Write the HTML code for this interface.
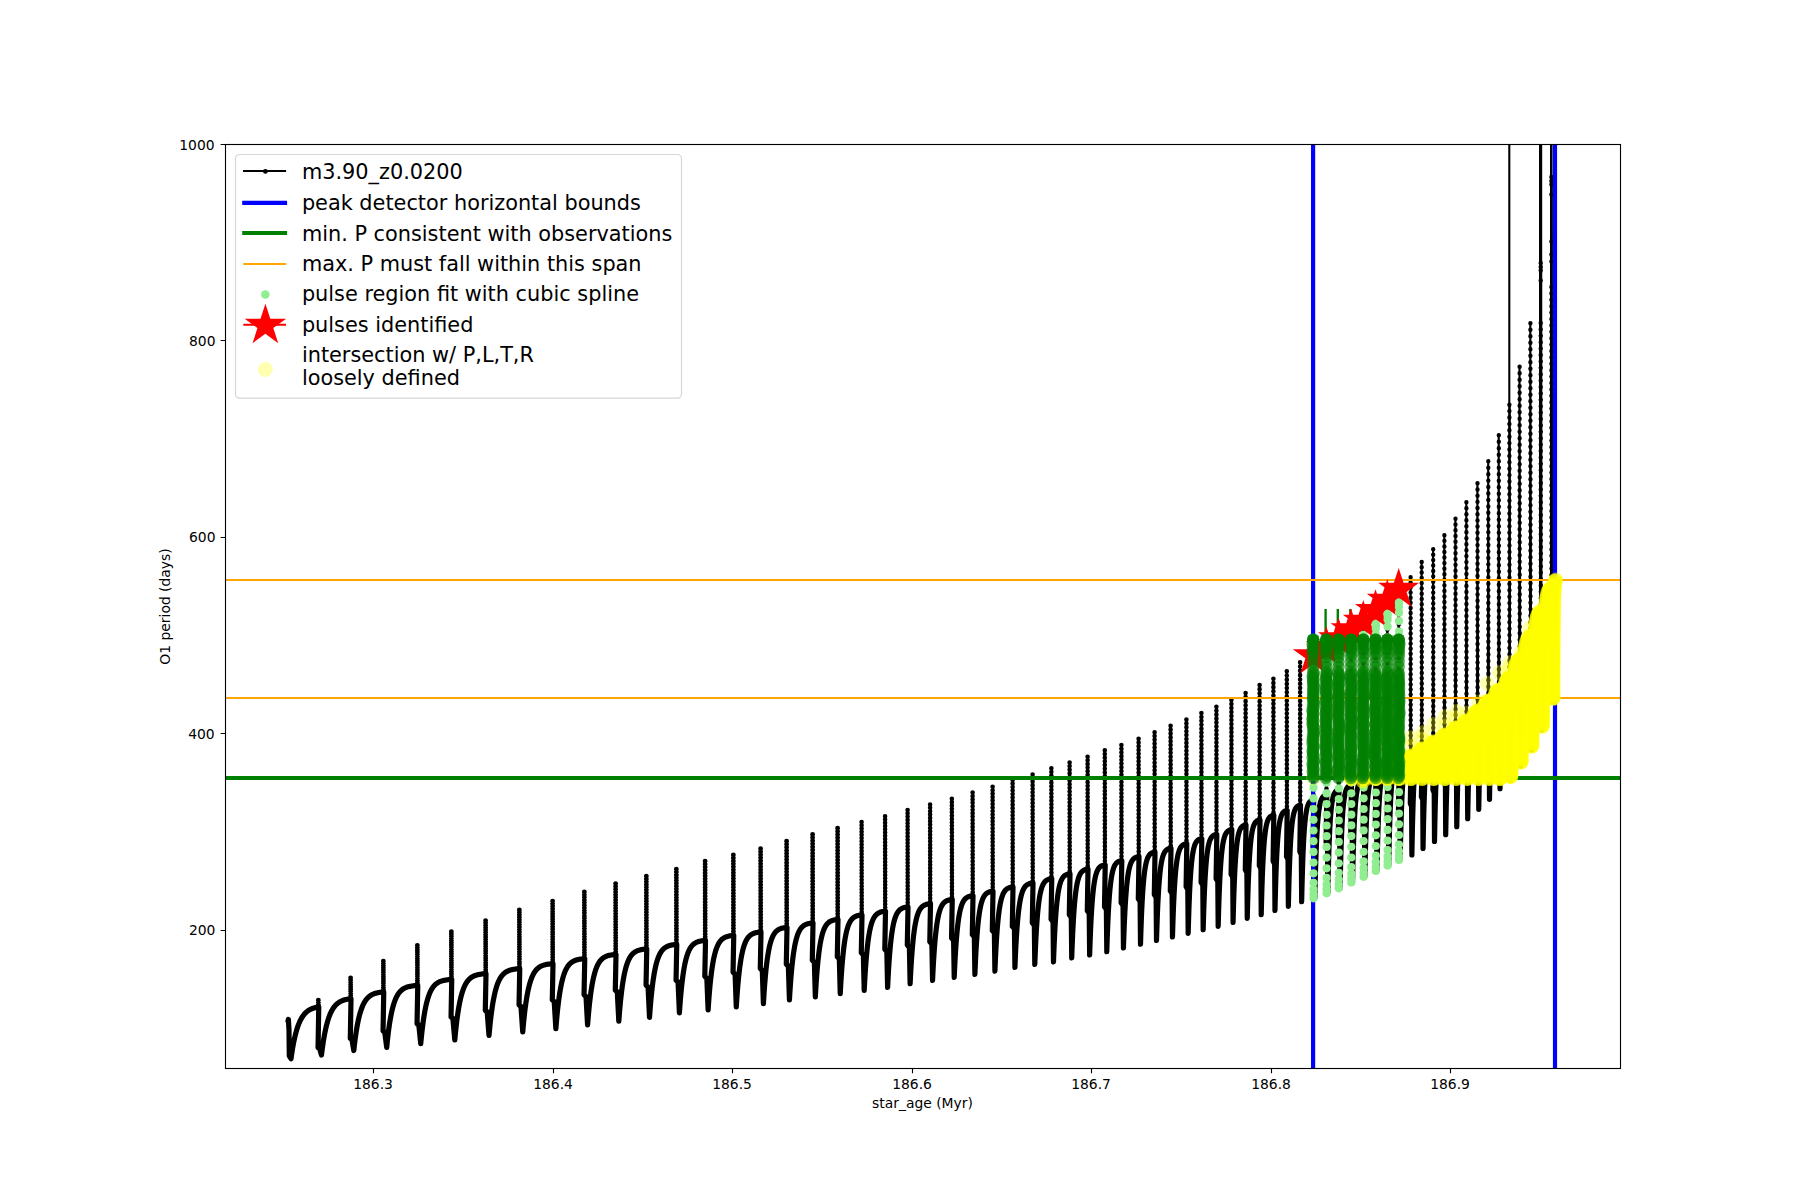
<!DOCTYPE html>
<html><head><meta charset="utf-8"><title>m3.90_z0.0200</title>
<style>html,body{margin:0;padding:0;background:#fff;overflow:hidden}svg{display:block}text{font-family:"DejaVu Sans","Liberation Sans",sans-serif;fill:#000}</style></head>
<body>
<svg width="1800" height="1200" viewBox="0 0 1800 1200">
<rect width="1800" height="1200" fill="#fff"/>
<defs><clipPath id="ax"><rect x="225.5" y="144.5" width="1395.0" height="924.0"/></clipPath></defs>
<g clip-path="url(#ax)">
<path d="M288,1021 L288.4,1019.5 L289,1030 L289.3,1056 L291,1058.75 L291.05,1058.41 L291.14,1057.72 L291.27,1056.8 L291.43,1055.69 L291.62,1054.44 L291.83,1053.06 L292.06,1051.58 L292.31,1050.02 L292.58,1048.4 L292.87,1046.73 L293.18,1045.03 L293.5,1043.31 L293.84,1041.58 L294.2,1039.86 L294.58,1038.15 L294.97,1036.46 L295.37,1034.8 L295.79,1033.17 L296.22,1031.58 L296.67,1030.04 L297.13,1028.55 L297.6,1027.11 L298.09,1025.73 L298.59,1024.4 L299.1,1023.13 L299.62,1021.91 L300.16,1020.76 L300.71,1019.67 L301.27,1018.63 L301.84,1017.65 L302.43,1016.73 L303.02,1015.86 L303.63,1015.05 L304.25,1014.29 L304.87,1013.58 L305.51,1012.91 L306.16,1012.29 L306.83,1011.72 L307.5,1011.19 L308.18,1010.7 L308.87,1010.24 L309.57,1009.82 L310.29,1009.44 L311.01,1009.09 L311.74,1008.76 L312.48,1008.46 L313.24,1008.19 L314,1007.94 L314.77,1007.72 L315.55,1007.51 L316.34,1007.32 L317.14,1007.15 L317.95,1007 M318.75,1007 L318.05,1047.8 L319.54,1048.23 L321.48,1055 L321.52,1054.63 L321.61,1053.89 L321.73,1052.9 L321.88,1051.71 L322.06,1050.35 L322.26,1048.86 L322.48,1047.27 L322.72,1045.59 L322.97,1043.84 L323.25,1042.04 L323.54,1040.21 L323.85,1038.35 L324.17,1036.49 L324.51,1034.63 L324.87,1032.79 L325.24,1030.97 L325.62,1029.18 L326.02,1027.43 L326.43,1025.72 L326.85,1024.06 L327.29,1022.45 L327.74,1020.9 L328.2,1019.41 L328.67,1017.98 L329.16,1016.61 L329.66,1015.3 L330.17,1014.06 L330.69,1012.88 L331.22,1011.77 L331.76,1010.71 L332.32,1009.72 L332.88,1008.79 L333.46,1007.91 L334.04,1007.1 L334.64,1006.33 L335.25,1005.62 L335.86,1004.95 L336.49,1004.34 L337.13,1003.76 L337.77,1003.24 L338.43,1002.75 L339.1,1002.3 L339.77,1001.88 L340.46,1001.5 L341.15,1001.15 L341.86,1000.83 L342.57,1000.54 L343.29,1000.28 L344.03,1000.03 L344.77,999.81 L345.52,999.61 L346.28,999.43 L347.04,999.26 L347.82,999.12 L348.6,998.98 L349.4,998.86 L350.2,998.75 M351,998.75 L350.3,1038.43 L351.87,1039.15 L353.8,1050.5 L353.85,1050.09 L353.94,1049.26 L354.06,1048.15 L354.21,1046.81 L354.38,1045.3 L354.58,1043.65 L354.79,1041.88 L355.03,1040.01 L355.28,1038.08 L355.55,1036.11 L355.84,1034.1 L356.15,1032.07 L356.47,1030.05 L356.8,1028.04 L357.15,1026.05 L357.52,1024.1 L357.89,1022.18 L358.29,1020.32 L358.69,1018.51 L359.11,1016.76 L359.54,1015.08 L359.98,1013.47 L360.44,1011.92 L360.91,1010.45 L361.38,1009.05 L361.88,1007.72 L362.38,1006.47 L362.89,1005.28 L363.42,1004.17 L363.95,1003.13 L364.5,1002.15 L365.06,1001.24 L365.63,1000.39 L366.2,999.6 L366.79,998.87 L367.39,998.19 L368,997.56 L368.62,996.99 L369.25,996.46 L369.89,995.97 L370.54,995.53 L371.19,995.12 L371.86,994.75 L372.54,994.41 L373.22,994.1 L373.92,993.82 L374.62,993.57 L375.34,993.34 L376.06,993.13 L376.79,992.94 L377.53,992.78 L378.28,992.62 L379.03,992.49 L379.8,992.37 L380.58,992.26 L381.36,992.16 L382.15,992.08 L382.95,992 M383.75,992 L383.05,1031.06 L384.74,1032.05 L386.71,1047.5 L386.75,1047.04 L386.84,1046.13 L386.96,1044.91 L387.1,1043.44 L387.27,1041.78 L387.47,1039.96 L387.68,1038.02 L387.91,1035.98 L388.16,1033.88 L388.43,1031.72 L388.71,1029.53 L389.01,1027.34 L389.32,1025.14 L389.65,1022.97 L390,1020.83 L390.36,1018.72 L390.73,1016.67 L391.11,1014.68 L391.51,1012.75 L391.92,1010.89 L392.34,1009.11 L392.78,1007.4 L393.23,1005.77 L393.69,1004.22 L394.16,1002.76 L394.64,1001.37 L395.14,1000.07 L395.64,998.84 L396.16,997.69 L396.68,996.62 L397.22,995.62 L397.77,994.69 L398.33,993.83 L398.9,993.03 L399.47,992.29 L400.06,991.61 L400.66,990.98 L401.27,990.41 L401.89,989.88 L402.51,989.4 L403.15,988.97 L403.8,988.57 L404.45,988.21 L405.12,987.88 L405.79,987.58 L406.48,987.31 L407.17,987.07 L407.87,986.85 L408.58,986.66 L409.3,986.48 L410.03,986.33 L410.76,986.19 L411.51,986.06 L412.26,985.95 L413.02,985.85 L413.79,985.76 L414.57,985.68 L415.35,985.61 L416.15,985.55 L416.95,985.5 M417.75,985.5 L417.05,1023.73 L418.81,1024.93 L420.74,1043.75 L420.78,1043.28 L420.87,1042.33 L420.99,1041.06 L421.13,1039.54 L421.3,1037.82 L421.49,1035.94 L421.71,1033.93 L421.94,1031.82 L422.19,1029.63 L422.45,1027.4 L422.74,1025.13 L423.04,1022.86 L423.35,1020.58 L423.68,1018.33 L424.02,1016.11 L424.38,1013.93 L424.75,1011.8 L425.14,1009.74 L425.53,1007.74 L425.94,1005.81 L426.37,1003.96 L426.8,1002.19 L427.25,1000.51 L427.71,998.9 L428.18,997.38 L428.66,995.95 L429.16,994.6 L429.66,993.33 L430.18,992.14 L430.7,991.02 L431.24,989.99 L431.79,989.02 L432.34,988.13 L432.91,987.3 L433.49,986.53 L434.08,985.83 L434.68,985.18 L435.28,984.59 L435.9,984.04 L436.53,983.55 L437.16,983.09 L437.81,982.68 L438.47,982.3 L439.13,981.96 L439.8,981.66 L440.49,981.38 L441.18,981.13 L441.88,980.9 L442.59,980.7 L443.31,980.52 L444.03,980.36 L444.77,980.21 L445.51,980.08 L446.26,979.97 L447.02,979.86 L447.79,979.77 L448.57,979.69 L449.35,979.62 L450.15,979.56 L450.95,979.5 M451.75,979.5 L451.05,1017.02 L452.89,1018.4 L454.79,1040 L454.83,1039.51 L454.92,1038.54 L455.04,1037.23 L455.19,1035.66 L455.36,1033.89 L455.55,1031.95 L455.77,1029.87 L456,1027.7 L456.25,1025.44 L456.52,1023.14 L456.8,1020.8 L457.1,1018.46 L457.42,1016.11 L457.75,1013.79 L458.1,1011.5 L458.46,1009.25 L458.83,1007.06 L459.22,1004.93 L459.62,1002.87 L460.03,1000.88 L460.46,998.97 L460.9,997.15 L461.35,995.41 L461.81,993.76 L462.28,992.19 L462.77,990.71 L463.26,989.32 L463.77,988.01 L464.29,986.78 L464.82,985.63 L465.36,984.56 L465.91,983.57 L466.47,982.65 L467.05,981.79 L467.63,981 L468.22,980.28 L468.82,979.61 L469.43,979 L470.05,978.43 L470.68,977.92 L471.33,977.45 L471.98,977.03 L472.63,976.64 L473.3,976.29 L473.98,975.97 L474.67,975.69 L475.36,975.43 L476.07,975.2 L476.78,974.99 L477.51,974.8 L478.24,974.63 L478.98,974.48 L479.73,974.35 L480.48,974.23 L481.25,974.12 L482.02,974.03 L482.8,973.95 L483.59,973.87 L484.39,973.81 L485.2,973.75 M486,973.75 L485.3,1010.36 L487.19,1011.87 L489.02,1035.5 L489.06,1035 L489.15,1033.99 L489.27,1032.63 L489.42,1031.01 L489.59,1029.18 L489.79,1027.18 L490,1025.04 L490.24,1022.8 L490.49,1020.48 L490.76,1018.11 L491.05,1015.72 L491.36,1013.31 L491.68,1010.91 L492.01,1008.54 L492.36,1006.2 L492.73,1003.91 L493.1,1001.68 L493.5,999.52 L493.9,997.43 L494.32,995.43 L494.75,993.5 L495.19,991.66 L495.65,989.91 L496.11,988.26 L496.59,986.69 L497.08,985.21 L497.59,983.82 L498.1,982.52 L498.62,981.3 L499.16,980.16 L499.71,979.11 L500.26,978.13 L500.83,977.22 L501.41,976.39 L502,975.62 L502.6,974.91 L503.2,974.26 L503.82,973.67 L504.45,973.12 L505.09,972.63 L505.74,972.18 L506.39,971.77 L507.06,971.4 L507.74,971.07 L508.42,970.77 L509.12,970.5 L509.82,970.25 L510.53,970.04 L511.25,969.84 L511.99,969.66 L512.72,969.51 L513.47,969.37 L514.23,969.25 L515,969.14 L515.77,969.04 L516.55,968.95 L517.34,968.88 L518.14,968.81 L518.95,968.75 M519.75,968.75 L519.05,1004.92 L520.98,1006.55 L522.74,1032 L522.79,1031.47 L522.88,1030.41 L523,1028.99 L523.15,1027.29 L523.32,1025.37 L523.52,1023.27 L523.74,1021.03 L523.98,1018.69 L524.24,1016.27 L524.51,1013.8 L524.8,1011.31 L525.11,1008.8 L525.43,1006.31 L525.77,1003.85 L526.13,1001.43 L526.49,999.07 L526.88,996.77 L527.27,994.54 L527.68,992.4 L528.1,990.34 L528.54,988.37 L528.99,986.49 L529.45,984.71 L529.92,983.02 L530.4,981.43 L530.9,979.93 L531.41,978.53 L531.93,977.21 L532.46,975.99 L533,974.85 L533.55,973.8 L534.12,972.82 L534.69,971.92 L535.28,971.09 L535.87,970.33 L536.48,969.63 L537.09,968.99 L537.72,968.41 L538.35,967.88 L539,967.39 L539.65,966.96 L540.32,966.56 L540.99,966.21 L541.68,965.89 L542.37,965.6 L543.07,965.34 L543.78,965.1 L544.5,964.9 L545.23,964.71 L545.97,964.55 L546.72,964.4 L547.48,964.27 L548.24,964.15 L549.02,964.05 L549.8,963.96 L550.59,963.88 L551.39,963.81 L552.2,963.75 M553,963.75 L552.3,999.88 L554.22,1001.62 L555.86,1028.75 L555.91,1028.18 L556,1027.02 L556.12,1025.49 L556.27,1023.65 L556.45,1021.58 L556.65,1019.32 L556.87,1016.91 L557.11,1014.4 L557.37,1011.81 L557.64,1009.17 L557.94,1006.52 L558.25,1003.86 L558.58,1001.23 L558.92,998.63 L559.27,996.09 L559.64,993.62 L560.03,991.22 L560.43,988.91 L560.84,986.69 L561.27,984.57 L561.71,982.54 L562.16,980.63 L562.62,978.81 L563.1,977.11 L563.59,975.51 L564.09,974.01 L564.6,972.61 L565.13,971.3 L565.66,970.1 L566.21,968.98 L566.77,967.95 L567.33,967 L567.91,966.13 L568.5,965.34 L569.1,964.61 L569.71,963.95 L570.33,963.35 L570.96,962.8 L571.61,962.31 L572.26,961.86 L572.92,961.46 L573.59,961.1 L574.27,960.78 L574.96,960.49 L575.66,960.23 L576.37,960 L577.08,959.79 L577.81,959.61 L578.55,959.45 L579.29,959.31 L580.05,959.18 L580.81,959.07 L581.58,958.98 L582.36,958.89 L583.15,958.82 L583.95,958.75 M584.75,958.75 L584.05,994.76 L586.01,996.58 L587.58,1025 L587.63,1024.41 L587.72,1023.21 L587.85,1021.62 L588,1019.72 L588.18,1017.57 L588.38,1015.24 L588.6,1012.76 L588.85,1010.17 L589.11,1007.51 L589.39,1004.8 L589.69,1002.07 L590,999.35 L590.33,996.66 L590.68,994.01 L591.04,991.42 L591.41,988.91 L591.8,986.47 L592.21,984.13 L592.63,981.89 L593.06,979.75 L593.5,977.71 L593.96,975.79 L594.43,973.98 L594.91,972.27 L595.4,970.68 L595.91,969.19 L596.43,967.8 L596.96,966.51 L597.5,965.32 L598.05,964.23 L598.62,963.22 L599.19,962.29 L599.78,961.45 L600.38,960.67 L600.98,959.97 L601.6,959.33 L602.23,958.75 L602.87,958.23 L603.52,957.76 L604.17,957.34 L604.84,956.96 L605.52,956.62 L606.21,956.31 L606.91,956.04 L607.62,955.8 L608.33,955.58 L609.06,955.39 L609.79,955.23 L610.54,955.08 L611.29,954.95 L612.06,954.83 L612.83,954.73 L613.61,954.64 L614.4,954.57 L615.2,954.5 M616,954.5 L615.3,990.14 L617.3,992.01 L618.81,1021.25 L618.85,1020.62 L618.94,1019.36 L619.07,1017.68 L619.23,1015.68 L619.41,1013.43 L619.61,1010.97 L619.84,1008.37 L620.08,1005.65 L620.35,1002.86 L620.63,1000.03 L620.93,997.19 L621.25,994.35 L621.59,991.55 L621.94,988.8 L622.3,986.12 L622.68,983.51 L623.08,981 L623.49,978.59 L623.91,976.28 L624.35,974.09 L624.8,972.01 L625.26,970.05 L625.73,968.2 L626.22,966.47 L626.72,964.86 L627.24,963.35 L627.76,961.96 L628.3,960.67 L628.84,959.48 L629.4,958.38 L629.97,957.38 L630.56,956.46 L631.15,955.63 L631.75,954.86 L632.37,954.17 L632.99,953.55 L633.63,952.99 L634.28,952.48 L634.93,952.02 L635.6,951.61 L636.28,951.25 L636.96,950.92 L637.66,950.63 L638.37,950.37 L639.08,950.15 L639.81,949.94 L640.54,949.77 L641.29,949.61 L642.04,949.47 L642.81,949.35 L643.58,949.24 L644.36,949.15 L645.15,949.07 L645.95,949 M646.75,949 L646.05,985.06 L648.07,987.01 L649.5,1017.5 L649.55,1016.83 L649.64,1015.48 L649.78,1013.68 L649.94,1011.54 L650.12,1009.13 L650.34,1006.52 L650.57,1003.75 L650.82,1000.88 L651.1,997.93 L651.39,994.95 L651.7,991.97 L652.03,989.01 L652.38,986.09 L652.74,983.24 L653.12,980.47 L653.51,977.8 L653.92,975.23 L654.34,972.77 L654.78,970.44 L655.23,968.22 L655.7,966.14 L656.18,964.18 L656.67,962.35 L657.18,960.64 L657.69,959.06 L658.23,957.59 L658.77,956.24 L659.32,955 L659.89,953.86 L660.47,952.82 L661.06,951.87 L661.66,951.01 L662.28,950.23 L662.9,949.53 L663.54,948.89 L664.19,948.32 L664.84,947.81 L665.51,947.36 L666.19,946.95 L666.88,946.59 L667.58,946.27 L668.29,945.99 L669.02,945.73 L669.75,945.51 L670.49,945.32 L671.24,945.15 L672,945 L672.77,944.87 L673.55,944.76 L674.34,944.66 L675.14,944.57 L675.95,944.5 M676.75,944.5 L676.05,980.15 L678.06,982.12 L679.39,1013 L679.44,1012.29 L679.54,1010.86 L679.67,1008.97 L679.83,1006.71 L680.02,1004.19 L680.24,1001.45 L680.48,998.56 L680.74,995.56 L681.02,992.5 L681.32,989.42 L681.63,986.35 L681.97,983.31 L682.32,980.33 L682.69,977.43 L683.08,974.62 L683.48,971.92 L683.89,969.35 L684.32,966.89 L684.77,964.58 L685.23,962.39 L685.71,960.35 L686.19,958.44 L686.7,956.66 L687.21,955.02 L687.74,953.5 L688.28,952.11 L688.83,950.83 L689.4,949.67 L689.98,948.6 L690.57,947.64 L691.17,946.77 L691.78,945.99 L692.41,945.28 L693.04,944.65 L693.69,944.09 L694.35,943.59 L695.02,943.14 L695.7,942.74 L696.4,942.39 L697.1,942.08 L697.81,941.81 L698.54,941.57 L699.27,941.37 L700.02,941.18 L700.77,941.03 L701.54,940.89 L702.31,940.77 L703.1,940.67 L703.89,940.58 L704.7,940.5 M705.5,940.5 L704.8,976.34 L706.84,978.36 L708.11,1010 L708.16,1009.24 L708.26,1007.73 L708.39,1005.72 L708.56,1003.34 L708.75,1000.66 L708.97,997.77 L709.21,994.72 L709.47,991.57 L709.76,988.36 L710.06,985.13 L710.38,981.91 L710.72,978.73 L711.08,975.63 L711.45,972.61 L711.85,969.7 L712.25,966.91 L712.67,964.25 L713.11,961.73 L713.56,959.35 L714.03,957.12 L714.51,955.04 L715.01,953.1 L715.51,951.3 L716.04,949.64 L716.57,948.11 L717.12,946.72 L717.68,945.44 L718.25,944.28 L718.84,943.23 L719.44,942.28 L720.05,941.43 L720.67,940.66 L721.31,939.97 L721.95,939.36 L722.61,938.81 L723.28,938.33 L723.96,937.9 L724.65,937.52 L725.35,937.19 L726.06,936.9 L726.79,936.64 L727.52,936.42 L728.26,936.22 L729.02,936.06 L729.79,935.91 L730.56,935.78 L731.35,935.67 L732.14,935.58 L732.95,935.5 M733.75,935.5 L733.05,972.09 L735.09,974.19 L736.27,1007 L736.32,1006.19 L736.42,1004.56 L736.56,1002.41 L736.73,999.85 L736.93,997 L737.16,993.92 L737.41,990.69 L737.68,987.35 L737.97,983.97 L738.28,980.58 L738.61,977.22 L738.96,973.92 L739.33,970.7 L739.72,967.6 L740.12,964.62 L740.54,961.78 L740.97,959.1 L741.42,956.56 L741.89,954.19 L742.37,951.97 L742.86,949.92 L743.37,948.02 L743.9,946.27 L744.43,944.67 L744.99,943.21 L745.55,941.88 L746.13,940.68 L746.72,939.59 L747.32,938.62 L747.94,937.74 L748.57,936.96 L749.21,936.27 L749.86,935.65 L750.52,935.11 L751.2,934.63 L751.89,934.21 L752.59,933.84 L753.3,933.51 L754.02,933.23 L754.76,932.99 L755.5,932.78 L756.26,932.59 L757.03,932.44 L757.8,932.3 L758.59,932.18 L759.39,932.08 L760.2,932 M761,932 L760.3,968.49 L762.31,970.6 L763.4,1003.75 L763.45,1002.86 L763.56,1001.1 L763.7,998.76 L763.88,995.99 L764.08,992.9 L764.31,989.59 L764.56,986.12 L764.84,982.55 L765.14,978.95 L765.46,975.36 L765.8,971.82 L766.15,968.36 L766.53,965.01 L766.92,961.79 L767.33,958.73 L767.76,955.82 L768.21,953.09 L768.67,950.53 L769.14,948.14 L769.63,945.94 L770.14,943.91 L770.66,942.05 L771.19,940.34 L771.74,938.8 L772.3,937.4 L772.88,936.14 L773.47,935.01 L774.07,934 L774.69,933.1 L775.32,932.3 L775.96,931.6 L776.62,930.97 L777.28,930.43 L777.96,929.95 L778.65,929.53 L779.36,929.17 L780.07,928.85 L780.8,928.58 L781.53,928.34 L782.28,928.14 L783.05,927.97 L783.82,927.82 L784.6,927.7 L785.39,927.59 L786.2,927.5 M787,927.5 L786.3,964.17 L788.37,966.32 L789.42,1000 L789.48,999.11 L789.58,997.32 L789.72,994.96 L789.9,992.16 L790.1,989.05 L790.33,985.7 L790.59,982.19 L790.86,978.6 L791.16,974.96 L791.48,971.33 L791.82,967.76 L792.17,964.26 L792.55,960.88 L792.94,957.63 L793.35,954.53 L793.78,951.6 L794.22,948.84 L794.68,946.25 L795.16,943.85 L795.65,941.62 L796.15,939.57 L796.67,937.69 L797.21,935.97 L797.76,934.41 L798.32,933 L798.89,931.73 L799.48,930.59 L800.09,929.57 L800.7,928.66 L801.33,927.85 L801.97,927.14 L802.62,926.51 L803.29,925.95 L803.97,925.47 L804.66,925.05 L805.36,924.68 L806.08,924.36 L806.8,924.09 L807.54,923.85 L808.29,923.65 L809.05,923.47 L809.82,923.33 L810.6,923.2 L811.4,923.09 L812.2,923 M813,923 L812.3,960.25 L814.36,962.46 L815.33,997 L815.39,996.03 L815.49,994.1 L815.64,991.55 L815.82,988.55 L816.03,985.21 L816.27,981.63 L816.53,977.91 L816.82,974.1 L817.12,970.26 L817.45,966.46 L817.8,962.73 L818.17,959.11 L818.56,955.63 L818.96,952.31 L819.39,949.16 L819.83,946.2 L820.29,943.43 L820.76,940.87 L821.25,938.49 L821.76,936.32 L822.28,934.33 L822.82,932.52 L823.37,930.88 L823.93,929.41 L824.52,928.09 L825.11,926.91 L825.72,925.86 L826.34,924.94 L826.98,924.12 L827.63,923.4 L828.29,922.77 L828.96,922.23 L829.65,921.75 L830.35,921.34 L831.06,920.99 L831.79,920.68 L832.53,920.42 L833.28,920.2 L834.04,920.01 L834.81,919.85 L835.6,919.71 L836.39,919.6 L837.2,919.5 M838,919.5 L837.3,956.72 L839.34,958.94 L840.24,993.75 L840.3,992.69 L840.41,990.58 L840.56,987.8 L840.75,984.52 L840.96,980.9 L841.21,977.04 L841.48,973.03 L841.77,968.96 L842.09,964.88 L842.43,960.86 L842.79,956.94 L843.18,953.16 L843.58,949.55 L844,946.13 L844.43,942.92 L844.89,939.92 L845.36,937.14 L845.86,934.58 L846.36,932.24 L846.89,930.11 L847.43,928.18 L847.98,926.45 L848.55,924.9 L849.14,923.51 L849.74,922.29 L850.35,921.2 L850.98,920.25 L851.63,919.42 L852.28,918.69 L852.96,918.06 L853.64,917.52 L854.34,917.05 L855.05,916.64 L855.77,916.3 L856.51,916.01 L857.26,915.76 L858.03,915.55 L858.8,915.38 L859.59,915.23 L860.39,915.1 L861.2,915 M862,915 L861.3,952.71 L863.36,954.97 L864.2,990.5 L864.26,989.39 L864.37,987.18 L864.53,984.28 L864.72,980.86 L864.94,977.1 L865.19,973.09 L865.46,968.94 L865.76,964.73 L866.09,960.53 L866.43,956.4 L866.8,952.4 L867.19,948.55 L867.6,944.88 L868.02,941.42 L868.47,938.19 L868.93,935.18 L869.42,932.41 L869.92,929.87 L870.43,927.56 L870.96,925.46 L871.51,923.58 L872.08,921.89 L872.66,920.39 L873.25,919.06 L873.87,917.88 L874.49,916.85 L875.13,915.95 L875.79,915.17 L876.46,914.49 L877.14,913.91 L877.84,913.41 L878.55,912.98 L879.27,912.62 L880.01,912.31 L880.76,912.04 L881.52,911.82 L882.3,911.64 L883.08,911.49 L883.89,911.36 L884.7,911.25 M885.5,911.25 L884.8,949.2 L886.83,951.5 L887.61,987.5 L887.66,986.33 L887.78,983.99 L887.93,980.93 L888.12,977.33 L888.34,973.37 L888.59,969.17 L888.86,964.83 L889.16,960.44 L889.48,956.08 L889.83,951.81 L890.19,947.68 L890.58,943.72 L890.98,939.97 L891.41,936.44 L891.85,933.16 L892.32,930.13 L892.8,927.34 L893.29,924.8 L893.81,922.5 L894.34,920.43 L894.88,918.58 L895.45,916.93 L896.02,915.47 L896.62,914.18 L897.22,913.05 L897.85,912.07 L898.49,911.22 L899.14,910.48 L899.8,909.85 L900.48,909.3 L901.18,908.84 L901.88,908.45 L902.6,908.12 L903.34,907.84 L904.08,907.6 L904.84,907.41 L905.62,907.25 L906.4,907.11 L907.2,907 M908,907 L907.3,945.07 L909.39,947.4 L910.12,983.75 L910.18,982.58 L910.29,980.27 L910.45,977.22 L910.64,973.65 L910.86,969.71 L911.1,965.53 L911.38,961.22 L911.68,956.86 L912,952.53 L912.34,948.28 L912.71,944.17 L913.09,940.24 L913.5,936.51 L913.93,933.01 L914.37,929.75 L914.83,926.73 L915.31,923.96 L915.81,921.44 L916.32,919.15 L916.85,917.1 L917.4,915.25 L917.96,913.61 L918.53,912.16 L919.13,910.88 L919.73,909.76 L920.36,908.79 L920.99,907.94 L921.64,907.21 L922.31,906.58 L922.99,906.04 L923.68,905.58 L924.39,905.19 L925.11,904.86 L925.84,904.58 L926.59,904.35 L927.35,904.16 L928.12,903.99 L928.9,903.86 L929.7,903.75 M930.5,903.75 L929.8,941.71 L931.88,944.04 L932.56,980.5 L932.61,979.22 L932.73,976.67 L932.89,973.33 L933.09,969.44 L933.32,965.16 L933.58,960.65 L933.87,956.02 L934.19,951.37 L934.52,946.78 L934.88,942.32 L935.27,938.04 L935.67,933.97 L936.1,930.16 L936.55,926.6 L937.01,923.33 L937.5,920.33 L938,917.61 L938.52,915.16 L939.06,912.96 L939.62,911.01 L940.19,909.28 L940.78,907.76 L941.39,906.43 L942.01,905.28 L942.65,904.29 L943.3,903.43 L943.97,902.7 L944.65,902.07 L945.35,901.55 L946.06,901.1 L946.79,900.73 L947.53,900.42 L948.29,900.16 L949.06,899.94 L949.84,899.76 L950.64,899.62 L951.45,899.5 M952.25,899.5 L951.55,937.96 L953.6,940.34 L954.21,977.5 L954.27,976.08 L954.39,973.28 L954.56,969.63 L954.77,965.38 L955.01,960.74 L955.28,955.87 L955.58,950.91 L955.9,945.97 L956.25,941.13 L956.63,936.47 L957.03,932.04 L957.45,927.87 L957.89,924 L958.36,920.44 L958.84,917.19 L959.35,914.25 L959.87,911.62 L960.42,909.27 L960.98,907.2 L961.56,905.39 L962.15,903.8 L962.77,902.43 L963.4,901.25 L964.04,900.24 L964.71,899.38 L965.39,898.66 L966.09,898.05 L966.8,897.54 L967.52,897.11 L968.27,896.76 L969.02,896.47 L969.8,896.23 L970.58,896.04 L971.38,895.88 L972.2,895.75 M973,895.75 L972.3,934.47 L974.33,936.87 L974.88,974.5 L974.94,972.99 L975.07,970.01 L975.24,966.12 L975.45,961.61 L975.69,956.71 L975.96,951.59 L976.26,946.39 L976.59,941.22 L976.95,936.19 L977.33,931.36 L977.73,926.8 L978.16,922.53 L978.6,918.59 L979.07,914.99 L979.56,911.72 L980.07,908.79 L980.6,906.18 L981.14,903.87 L981.71,901.85 L982.29,900.09 L982.89,898.57 L983.51,897.26 L984.15,896.14 L984.8,895.19 L985.47,894.39 L986.16,893.73 L986.86,893.17 L987.58,892.71 L988.31,892.32 L989.06,892.01 L989.82,891.76 L990.6,891.55 L991.39,891.38 L992.2,891.25 M993,891.25 L992.3,930.48 L994.38,932.92 L994.9,971.25 L994.96,969.72 L995.09,966.71 L995.26,962.77 L995.46,958.21 L995.71,953.25 L995.98,948.06 L996.28,942.8 L996.61,937.57 L996.96,932.48 L997.34,927.6 L997.74,922.98 L998.17,918.66 L998.62,914.67 L999.08,911.02 L999.57,907.72 L1000.08,904.75 L1000.61,902.11 L1001.15,899.77 L1001.72,897.73 L1002.3,895.94 L1002.9,894.4 L1003.52,893.08 L1004.16,891.95 L1004.81,890.99 L1005.48,890.18 L1006.16,889.51 L1006.86,888.94 L1007.58,888.47 L1008.31,888.09 L1009.06,887.77 L1009.82,887.51 L1010.6,887.3 L1011.39,887.14 L1012.2,887 M1013,887 L1012.3,926.37 L1014.43,928.83 L1014.92,967.5 L1014.98,965.97 L1015.1,962.94 L1015.27,958.99 L1015.48,954.42 L1015.72,949.45 L1015.99,944.24 L1016.3,938.96 L1016.62,933.72 L1016.98,928.61 L1017.36,923.72 L1017.76,919.08 L1018.18,914.75 L1018.63,910.75 L1019.1,907.1 L1019.58,903.78 L1020.09,900.81 L1020.62,898.15 L1021.16,895.81 L1021.73,893.76 L1022.31,891.97 L1022.91,890.42 L1023.53,889.1 L1024.16,887.96 L1024.82,887 L1025.48,886.19 L1026.17,885.51 L1026.87,884.95 L1027.58,884.48 L1028.32,884.09 L1029.06,883.77 L1029.83,883.52 L1030.6,883.31 L1031.39,883.14 L1032.2,883 M1033,883 L1032.3,922.75 L1034.33,925.25 L1034.78,964.5 L1034.84,962.79 L1034.97,959.42 L1035.15,955.04 L1035.36,950 L1035.61,944.55 L1035.89,938.89 L1036.2,933.2 L1036.54,927.61 L1036.91,922.21 L1037.3,917.1 L1037.71,912.31 L1038.15,907.9 L1038.61,903.87 L1039.09,900.24 L1039.59,897 L1040.11,894.13 L1040.66,891.61 L1041.22,889.43 L1041.8,887.54 L1042.4,885.93 L1043.02,884.56 L1043.66,883.4 L1044.31,882.43 L1044.99,881.63 L1045.67,880.96 L1046.38,880.42 L1047.1,879.97 L1047.84,879.61 L1048.59,879.32 L1049.36,879.08 L1050.15,878.9 L1050.95,878.75 M1051.75,878.75 L1051.05,919.24 L1053.04,921.81 L1053.49,962 L1053.55,960.15 L1053.68,956.51 L1053.86,951.8 L1054.08,946.4 L1054.33,940.57 L1054.62,934.56 L1054.94,928.53 L1055.28,922.64 L1055.66,917 L1056.06,911.67 L1056.48,906.73 L1056.93,902.2 L1057.4,898.1 L1057.89,894.43 L1058.4,891.17 L1058.94,888.32 L1059.5,885.84 L1060.07,883.71 L1060.67,881.89 L1061.28,880.34 L1061.91,879.04 L1062.56,877.96 L1063.23,877.06 L1063.92,876.32 L1064.62,875.71 L1065.35,875.22 L1066.08,874.83 L1066.84,874.51 L1067.61,874.26 L1068.4,874.06 L1069.2,873.9 M1070,873.9 L1069.3,914.7 L1071.28,917.3 L1071.72,958 L1071.79,956.04 L1071.92,952.18 L1072.11,947.2 L1072.34,941.51 L1072.6,935.4 L1072.9,929.12 L1073.23,922.87 L1073.59,916.78 L1073.98,910.99 L1074.39,905.57 L1074.83,900.56 L1075.29,896.02 L1075.78,891.93 L1076.29,888.31 L1076.83,885.13 L1077.38,882.36 L1077.96,879.98 L1078.56,877.95 L1079.17,876.23 L1079.81,874.79 L1080.47,873.59 L1081.14,872.61 L1081.84,871.8 L1082.55,871.14 L1083.28,870.61 L1084.03,870.18 L1084.8,869.84 L1085.58,869.58 L1086.38,869.36 L1087.2,869.2 M1088,869.2 L1087.3,910.71 L1089.21,913.37 L1089.64,955 L1089.7,952.9 L1089.84,948.79 L1090.03,943.49 L1090.26,937.45 L1090.52,931 L1090.82,924.41 L1091.15,917.88 L1091.52,911.57 L1091.91,905.61 L1092.32,900.06 L1092.77,894.99 L1093.23,890.41 L1093.73,886.34 L1094.24,882.75 L1094.78,879.64 L1095.34,876.96 L1095.92,874.68 L1096.52,872.75 L1097.14,871.14 L1097.78,869.81 L1098.44,868.71 L1099.13,867.82 L1099.82,867.09 L1100.54,866.51 L1101.28,866.05 L1102.03,865.68 L1102.8,865.4 L1103.59,865.17 L1104.4,865 M1105.2,865 L1104.5,906.84 L1106.36,909.53 L1106.78,951.7 L1106.84,949.46 L1106.98,945.08 L1107.17,939.45 L1107.41,933.06 L1107.68,926.28 L1107.98,919.38 L1108.32,912.59 L1108.69,906.08 L1109.09,899.96 L1109.51,894.32 L1109.97,889.21 L1110.44,884.64 L1110.94,880.61 L1111.47,877.1 L1112.02,874.08 L1112.59,871.52 L1113.18,869.35 L1113.79,867.55 L1114.42,866.06 L1115.08,864.84 L1115.75,863.85 L1116.45,863.06 L1117.16,862.42 L1117.89,861.92 L1118.64,861.53 L1119.41,861.22 L1120.2,860.98 L1121,860.8 M1121.8,860.8 L1121.1,902.77 L1123.02,905.48 L1123.45,948 L1123.52,945.87 L1123.65,941.7 L1123.84,936.32 L1124.07,930.2 L1124.34,923.66 L1124.64,916.97 L1124.97,910.35 L1125.33,903.95 L1125.72,897.89 L1126.14,892.27 L1126.58,887.12 L1127.04,882.48 L1127.54,878.34 L1128.05,874.71 L1128.59,871.55 L1129.15,868.83 L1129.73,866.52 L1130.33,864.56 L1130.95,862.93 L1131.59,861.58 L1132.25,860.46 L1132.93,859.56 L1133.63,858.82 L1134.35,858.23 L1135.08,857.77 L1135.84,857.39 L1136.61,857.1 L1137.39,856.88 L1138.2,856.7 M1139,856.7 L1138.3,898.7 L1140.1,901.43 L1140.5,944.2 L1140.57,941.8 L1140.71,937.11 L1140.91,931.11 L1141.15,924.34 L1141.42,917.18 L1141.73,909.95 L1142.08,902.88 L1142.46,896.15 L1142.86,889.88 L1143.3,884.15 L1143.76,879 L1144.24,874.45 L1144.75,870.48 L1145.29,867.06 L1145.85,864.15 L1146.43,861.7 L1147.04,859.67 L1147.66,857.99 L1148.31,856.63 L1148.98,855.53 L1149.66,854.65 L1150.37,853.95 L1151.1,853.4 L1151.85,852.98 L1152.61,852.65 L1153.4,852.39 L1154.2,852.2 M1155,852.2 L1154.3,894.59 L1156.1,897.34 L1156.5,940.5 L1156.57,938.09 L1156.71,933.4 L1156.91,927.38 L1157.15,920.59 L1157.42,913.42 L1157.73,906.17 L1158.08,899.09 L1158.46,892.34 L1158.86,886.06 L1159.3,880.32 L1159.76,875.16 L1160.24,870.6 L1160.75,866.62 L1161.29,863.19 L1161.85,860.27 L1162.43,857.82 L1163.04,855.78 L1163.66,854.11 L1164.31,852.74 L1164.98,851.64 L1165.66,850.75 L1166.37,850.05 L1167.1,849.5 L1167.85,849.08 L1168.61,848.75 L1169.4,848.49 L1170.2,848.3 M1171,848.3 L1170.3,890.88 L1172.08,893.65 L1172.47,937 L1172.54,934.57 L1172.69,929.82 L1172.88,923.74 L1173.11,916.88 L1173.39,909.63 L1173.69,902.3 L1174.03,895.14 L1174.41,888.32 L1174.81,881.97 L1175.24,876.16 L1175.69,870.95 L1176.17,866.34 L1176.68,862.31 L1177.2,858.85 L1177.76,855.9 L1178.33,853.43 L1178.93,851.37 L1179.54,849.67 L1180.18,848.29 L1180.84,847.17 L1181.52,846.28 L1182.22,845.57 L1182.94,845.02 L1183.68,844.59 L1184.43,844.25 L1185.21,843.99 L1186,843.8 M1186.8,843.8 L1186.1,886.76 L1187.8,889.55 L1188.17,933.3 L1188.25,930.51 L1188.4,925.11 L1188.61,918.24 L1188.86,910.57 L1189.15,902.57 L1189.48,894.6 L1189.85,886.93 L1190.25,879.76 L1190.68,873.2 L1191.14,867.34 L1191.62,862.18 L1192.14,857.73 L1192.68,853.93 L1193.25,850.75 L1193.84,848.11 L1194.45,845.95 L1195.09,844.21 L1195.76,842.82 L1196.44,841.72 L1197.15,840.86 L1197.88,840.2 L1198.63,839.69 L1199.4,839.31 L1200.19,839.02 L1201,838.8 M1201.8,838.8 L1201.1,882.43 L1202.8,885.27 L1203.17,929.7 L1203.25,926.89 L1203.4,921.45 L1203.61,914.53 L1203.86,906.8 L1204.15,898.74 L1204.48,890.71 L1204.85,882.99 L1205.25,875.76 L1205.68,869.16 L1206.14,863.25 L1206.62,858.06 L1207.14,853.57 L1207.68,849.74 L1208.25,846.54 L1208.84,843.88 L1209.45,841.71 L1210.09,839.95 L1210.76,838.55 L1211.44,837.44 L1212.15,836.58 L1212.88,835.91 L1213.63,835.4 L1214.4,835.01 L1215.19,834.72 L1216,834.5 M1216.8,834.5 L1216.1,878.56 L1217.8,881.43 L1218.17,926.3 L1218.25,923.45 L1218.4,917.92 L1218.61,910.91 L1218.86,903.07 L1219.15,894.89 L1219.48,886.74 L1219.85,878.9 L1220.25,871.57 L1220.68,864.87 L1221.14,858.87 L1221.62,853.6 L1222.14,849.05 L1222.68,845.17 L1223.25,841.91 L1223.84,839.22 L1224.45,837.01 L1225.09,835.23 L1225.76,833.81 L1226.44,832.69 L1227.15,831.81 L1227.88,831.13 L1228.63,830.61 L1229.4,830.22 L1230.19,829.92 L1231,829.7 M1231.8,829.7 L1231.1,874.24 L1232.72,877.14 L1233.08,922.5 L1233.15,919.44 L1233.3,913.5 L1233.51,906.01 L1233.76,897.69 L1234.06,889.07 L1234.39,880.55 L1234.76,872.44 L1235.17,864.93 L1235.6,858.14 L1236.06,852.14 L1236.55,846.93 L1237.07,842.49 L1237.62,838.76 L1238.19,835.67 L1238.79,833.16 L1239.41,831.14 L1240.06,829.53 L1240.73,828.27 L1241.42,827.3 L1242.13,826.55 L1242.87,825.98 L1243.62,825.55 L1244.4,825.23 L1245.2,825 M1246,825 L1245.3,869.78 L1246.9,872.7 L1247.25,918.3 L1247.33,915 L1247.49,908.62 L1247.71,900.61 L1247.98,891.78 L1248.29,882.7 L1248.64,873.83 L1249.03,865.45 L1249.46,857.79 L1249.91,850.95 L1250.4,844.98 L1250.92,839.87 L1251.47,835.58 L1252.05,832.04 L1252.65,829.16 L1253.28,826.85 L1253.94,825.02 L1254.62,823.6 L1255.32,822.51 L1256.05,821.68 L1256.81,821.05 L1257.58,820.59 L1258.38,820.25 L1259.2,820 M1260,820 L1259.3,865.46 L1260.88,868.41 L1261.22,914.7 L1261.3,911.36 L1261.46,904.91 L1261.68,896.82 L1261.94,887.88 L1262.25,878.71 L1262.6,869.73 L1262.98,861.26 L1263.4,853.51 L1263.85,846.6 L1264.33,840.56 L1264.84,835.4 L1265.38,831.06 L1265.95,827.47 L1266.55,824.56 L1267.17,822.22 L1267.81,820.38 L1268.48,818.94 L1269.18,817.84 L1269.9,817 L1270.64,816.36 L1271.4,815.89 L1272.19,815.55 L1273,815.3 M1273.8,815.3 L1273.1,861 L1274.64,863.97 L1274.97,910.5 L1275.06,906.9 L1275.22,899.97 L1275.45,891.32 L1275.72,881.85 L1276.04,872.21 L1276.4,862.87 L1276.8,854.17 L1277.24,846.31 L1277.71,839.39 L1278.21,833.44 L1278.74,828.43 L1279.31,824.3 L1279.9,820.94 L1280.52,818.26 L1281.17,816.15 L1281.84,814.52 L1282.54,813.28 L1283.26,812.34 L1284.01,811.65 L1284.78,811.14 L1285.58,810.77 L1286.4,810.5 M1287.2,810.5 L1286.5,856.48 L1288.03,859.47 L1288.36,906.3 L1288.44,902.66 L1288.61,895.66 L1288.83,886.92 L1289.1,877.36 L1289.42,867.62 L1289.78,858.2 L1290.18,849.41 L1290.61,841.47 L1291.08,834.48 L1291.57,828.47 L1292.1,823.41 L1292.66,819.23 L1293.25,815.84 L1293.86,813.14 L1294.51,811.01 L1295.17,809.36 L1295.87,808.11 L1296.59,807.16 L1297.33,806.46 L1298.1,805.94 L1298.89,805.57 L1299.7,805.3 M1300.5,805.3 L1299.8,851.57 L1301.32,854.58 L1301.65,901.7 L1301.73,898.03 L1301.89,890.99 L1302.11,882.19 L1302.39,872.56 L1302.7,862.76 L1303.06,853.26 L1303.45,844.42 L1303.88,836.42 L1304.34,829.38 L1304.84,823.33 L1305.36,818.24 L1305.92,814.03 L1306.5,810.62 L1307.11,807.89 L1307.75,805.75 L1308.41,804.09 L1309.1,802.83 L1309.81,801.87 L1310.55,801.17 L1311.31,800.65 L1312.09,800.27 L1312.9,800 M1313.7,800 L1313,847.18 L1314.51,850.25 L1314.84,898.3 L1314.92,894.58 L1315.08,887.42 L1315.3,878.48 L1315.57,868.7 L1315.88,858.74 L1316.23,849.1 L1316.62,840.11 L1317.05,831.99 L1317.51,824.85 L1318,818.7 L1318.52,813.53 L1319.07,809.25 L1319.65,805.78 L1320.25,803.01 L1320.89,800.84 L1321.54,799.16 L1322.23,797.87 L1322.93,796.9 L1323.67,796.18 L1324.42,795.66 L1325.2,795.27 L1326,795 M1326.8,795 L1326.1,842.18 L1327.52,845.25 L1327.83,893.3 L1327.91,888.98 L1328.09,880.74 L1328.32,870.6 L1328.62,859.71 L1328.95,848.86 L1329.34,838.61 L1329.76,829.33 L1330.22,821.2 L1330.72,814.27 L1331.25,808.53 L1331.81,803.87 L1332.41,800.18 L1333.03,797.3 L1333.69,795.11 L1334.37,793.47 L1335.08,792.26 L1335.82,791.38 L1336.59,790.75 L1337.38,790.31 L1338.2,790 M1339,790 L1338.3,837.18 L1339.75,840.25 L1340.06,888.3 L1340.14,884.3 L1340.31,876.63 L1340.54,867.12 L1340.81,856.8 L1341.13,846.4 L1341.5,836.46 L1341.9,827.3 L1342.33,819.15 L1342.8,812.09 L1343.31,806.12 L1343.84,801.18 L1344.41,797.18 L1345,793.99 L1345.62,791.51 L1346.27,789.59 L1346.95,788.14 L1347.65,787.07 L1348.37,786.27 L1349.13,785.7 L1349.9,785.29 L1350.7,785 M1351.5,785 L1350.8,831.8 L1352.23,834.84 L1352.54,882.5 L1352.62,878.21 L1352.8,870.04 L1353.04,859.98 L1353.33,849.17 L1353.68,838.4 L1354.06,828.24 L1354.49,819.03 L1354.95,810.95 L1355.45,804.08 L1355.99,798.38 L1356.56,793.76 L1357.16,790.1 L1357.79,787.25 L1358.45,785.07 L1359.14,783.44 L1359.86,782.24 L1360.6,781.37 L1361.38,780.74 L1362.18,780.3 L1363,780 M1363.8,780 L1363.1,826.46 L1364.52,829.48 L1364.83,876.8 L1364.91,872.54 L1365.09,864.42 L1365.32,854.43 L1365.62,843.69 L1365.95,833 L1366.34,822.91 L1366.76,813.76 L1367.22,805.74 L1367.72,798.92 L1368.25,793.26 L1368.81,788.67 L1369.41,785.03 L1370.03,782.2 L1370.69,780.04 L1371.37,778.42 L1372.08,777.22 L1372.82,776.36 L1373.59,775.74 L1374.38,775.3 L1375.2,775 M1376,775 L1375.3,821.08 L1376.68,824.08 L1376.97,871 L1377.06,866.77 L1377.23,858.72 L1377.46,848.81 L1377.74,838.15 L1378.07,827.55 L1378.44,817.53 L1378.84,808.46 L1379.29,800.5 L1379.77,793.73 L1380.28,788.11 L1380.83,783.56 L1381.4,779.95 L1382.01,777.14 L1382.64,775 L1383.3,773.39 L1383.99,772.21 L1384.7,771.35 L1385.44,770.73 L1386.21,770.3 L1387,770 M1387.8,770 L1387.1,815.89 L1388.44,818.87 L1388.72,865.6 L1388.81,860.99 L1388.99,852.26 L1389.23,841.61 L1389.52,830.29 L1389.87,819.16 L1390.25,808.82 L1390.68,799.6 L1391.15,791.67 L1391.65,785.05 L1392.19,779.69 L1392.76,775.43 L1393.36,772.14 L1394,769.65 L1394.66,767.79 L1395.35,766.44 L1396.07,765.47 L1396.82,764.79 L1397.6,764.32 L1398.4,764 M1399.2,764 L1398.5,810.08 L1399.88,813.08 L1400.17,860 L1400.26,855.65 L1400.43,847.36 L1400.66,837.15 L1400.94,826.18 L1401.27,815.26 L1401.64,804.94 L1402.04,795.6 L1402.49,787.41 L1402.97,780.44 L1403.48,774.65 L1404.03,769.96 L1404.6,766.25 L1405.21,763.35 L1405.84,761.15 L1406.5,759.49 L1407.19,758.27 L1407.9,757.39 L1408.64,756.75 L1409.41,756.31 L1410.2,756 M1411,756 L1410.3,803.52 L1411.61,806.61 L1411.89,855 L1411.98,849.77 L1412.17,839.92 L1412.42,828.02 L1412.74,815.54 L1413.1,803.45 L1413.51,792.41 L1413.96,782.76 L1414.46,774.63 L1414.99,768.01 L1415.56,762.77 L1416.17,758.72 L1416.81,755.68 L1417.48,753.43 L1418.18,751.82 L1418.92,750.68 L1419.68,749.89 L1420.48,749.36 L1421.3,749 M1422.1,749 L1421.4,796.76 L1422.75,799.86 L1423.04,848.5 L1423.13,843.67 L1423.3,834.52 L1423.55,823.35 L1423.84,811.48 L1424.19,799.82 L1424.58,788.98 L1425.01,779.32 L1425.48,771 L1425.99,764.07 L1426.53,758.44 L1427.11,753.98 L1427.72,750.53 L1428.36,747.92 L1429.03,745.97 L1429.73,744.56 L1430.45,743.54 L1431.21,742.83 L1431.99,742.34 L1432.8,742 M1433.6,742 L1432.9,789.76 L1434.22,792.86 L1434.5,841.5 L1434.59,836.67 L1434.76,827.52 L1435,816.35 L1435.29,804.48 L1435.62,792.82 L1436,781.98 L1436.42,772.32 L1436.88,764 L1437.37,757.07 L1437.9,751.44 L1438.46,746.98 L1439.05,743.53 L1439.68,740.92 L1440.33,738.97 L1441.01,737.56 L1441.72,736.54 L1442.45,735.83 L1443.21,735.34 L1444,735 M1444.8,735 L1444.1,782.86 L1445.41,785.97 L1445.69,834.7 L1445.78,829.43 L1445.97,819.52 L1446.22,807.54 L1446.54,794.97 L1446.9,782.81 L1447.31,771.7 L1447.76,761.98 L1448.26,753.8 L1448.79,747.14 L1449.36,741.86 L1449.97,737.78 L1450.61,734.72 L1451.28,732.46 L1451.98,730.84 L1452.72,729.69 L1453.48,728.9 L1454.28,728.36 L1455.1,728 M1455.9,728 L1455.2,775.38 L1456.49,778.46 L1456.76,826.7 L1456.85,821.48 L1457.04,811.66 L1457.29,799.8 L1457.6,787.35 L1457.95,775.3 L1458.36,764.29 L1458.8,754.66 L1459.29,746.56 L1459.81,739.96 L1460.37,734.73 L1460.96,730.69 L1461.59,727.66 L1462.25,725.42 L1462.94,723.81 L1463.66,722.68 L1464.41,721.89 L1465.19,721.36 L1466,721 M1466.8,721 L1466.1,767.9 L1467.41,770.94 L1467.69,818.7 L1467.78,813.39 L1467.97,803.38 L1468.22,791.29 L1468.54,778.6 L1468.9,766.33 L1469.31,755.11 L1469.76,745.3 L1470.26,737.04 L1470.79,730.32 L1471.36,724.99 L1471.97,720.88 L1472.61,717.78 L1473.28,715.51 L1473.98,713.87 L1474.72,712.71 L1475.48,711.91 L1476.28,711.36 L1477.1,711 M1477.9,711 L1477.2,758.18 L1478.48,761.25 L1478.75,809.3 L1478.84,803.96 L1479.02,793.89 L1479.27,781.74 L1479.57,768.98 L1479.93,756.63 L1480.33,745.35 L1480.77,735.49 L1481.25,727.19 L1481.77,720.42 L1482.32,715.06 L1482.91,710.93 L1483.53,707.82 L1484.19,705.53 L1484.87,703.88 L1485.58,702.72 L1486.33,701.91 L1487.1,701.37 L1487.9,701 M1488.7,701 L1488,748.18 L1489.25,751.25 L1489.51,799.3 L1489.61,793.4 L1489.8,782.38 L1490.07,769.22 L1490.39,755.61 L1490.77,742.67 L1491.19,731.07 L1491.66,721.17 L1492.17,713.03 L1492.73,706.57 L1493.31,701.6 L1493.94,697.89 L1494.6,695.18 L1495.3,693.25 L1496.03,691.91 L1496.79,691 L1497.58,690.4 L1498.4,690 M1499.2,690 L1498.5,737.38 L1499.76,740.46 L1500.03,788.7 L1500.12,782.71 L1500.32,771.5 L1500.58,758.12 L1500.91,744.29 L1501.29,731.13 L1501.72,719.35 L1502.2,709.28 L1502.71,701.01 L1503.27,694.45 L1503.86,689.4 L1504.5,685.62 L1505.17,682.86 L1505.87,680.9 L1506.6,679.54 L1507.37,678.62 L1508.17,678 L1509,677.6 M1509.8,677.6 L1509.1,726.75 L1510.34,729.95 L1510.6,780 L1510.69,773.47 L1510.88,761.27 L1511.14,746.7 L1511.45,731.63 L1511.81,717.3 L1512.22,704.47 L1512.68,693.5 L1513.17,684.5 L1513.71,677.35 L1514.28,671.85 L1514.89,667.73 L1515.53,664.73 L1516.2,662.6 L1516.9,661.12 L1517.64,660.11 L1518.4,659.44 L1519.2,659 M1520,659 L1519.3,710.22 L1520.58,713.55 L1520.85,765.7 L1520.94,759.3 L1521.12,747.25 L1521.37,732.69 L1521.67,717.41 L1522.03,702.63 L1522.43,689.12 L1522.87,677.31 L1523.35,667.37 L1523.87,659.26 L1524.42,652.84 L1525.01,647.89 L1525.63,644.17 L1526.29,641.43 L1526.97,639.45 L1527.68,638.06 L1528.43,637.09 L1529.2,636.44 L1530,636 M1530.8,636 L1530.1,690.58 L1531.34,694.12 L1531.6,749.7 L1531.69,742.24 L1531.88,728.29 L1532.14,711.64 L1532.46,694.42 L1532.83,678.04 L1533.24,663.37 L1533.7,650.84 L1534.2,640.54 L1534.74,632.37 L1535.32,626.08 L1535.94,621.38 L1536.58,617.95 L1537.26,615.51 L1537.98,613.82 L1538.72,612.67 L1539.5,611.9 L1540.3,611.4 M1541.1,611.4 L1540.4,668.18 L1541.67,671.87 L1541.94,729.7 L1542.03,722.68 L1542.21,709.46 L1542.45,693.48 L1542.75,676.72 L1543.1,660.5 L1543.5,645.68 L1543.94,632.72 L1544.41,621.81 L1544.93,612.92 L1545.48,605.88 L1546.06,600.45 L1546.67,596.36 L1547.32,593.35 L1548,591.19 L1548.71,589.66 L1549.44,588.6 L1550.21,587.88 L1551,587.4 M1551.8,587.4 L1551.1,642.26 L1552.34,645.83 L1552.6,701.7 L1552.7,681.12 L1552.89,649.34 L1553.16,621.37 L1553.49,601.83 L1553.87,590.19 L1554.3,584.09 L1554.78,581.22 L1555.3,580" fill="none" stroke="#000" stroke-width="5.2" stroke-linejoin="round" stroke-linecap="round"/>
<path d="M317.95,1007 L318.25,1000.2 L318.95,1007 M350.2,998.75 L350.5,978 L351.2,998.75 M382.95,992 L383.25,961.25 L383.95,992 M416.95,985.5 L417.25,945.5 L417.95,985.5 M450.95,979.5 L451.25,931.75 L451.95,979.5 M485.2,973.75 L485.5,920.75 L486.2,973.75 M518.95,968.75 L519.25,910 L519.95,968.75 M552.2,963.75 L552.5,901.25 L553.2,963.75 M583.95,958.75 L584.25,892 L584.95,958.75 M615.2,954.5 L615.5,883.75 L616.2,954.5 M645.95,949 L646.25,876.25 L646.95,949 M675.95,944.5 L676.25,869.25 L676.95,944.5 M704.7,940.5 L705,861.25 L705.7,940.5 M732.95,935.5 L733.25,855 L733.95,935.5 M760.2,932 L760.5,848.75 L761.2,932 M786.2,927.5 L786.5,841.25 L787.2,927.5 M812.2,923 L812.5,834.5 L813.2,923 M837.2,919.5 L837.5,828.25 L838.2,919.5 M861.2,915 L861.5,822 L862.2,915 M884.7,911.25 L885,816.25 L885.7,911.25 M907.2,907 L907.5,810 L908.2,907 M929.7,903.75 L930,804.5 L930.7,903.75 M951.45,899.5 L951.75,798.75 L952.45,899.5 M972.2,895.75 L972.5,792.5 L973.2,895.75 M992.2,891.25 L992.5,786.75 L993.2,891.25 M1012.2,887 L1012.5,780 L1013.2,887 M1032.2,883 L1032.5,774.5 L1033.2,883 M1050.95,878.75 L1051.25,768.25 L1051.95,878.75 M1069.2,873.9 L1069.5,762.5 L1070.2,873.9 M1087.2,869.2 L1087.5,756.7 L1088.2,869.2 M1104.4,865 L1104.7,750.3 L1105.4,865 M1121,860.8 L1121.3,745 L1122,860.8 M1138.2,856.7 L1138.5,738.7 L1139.2,856.7 M1154.2,852.2 L1154.5,732.2 L1155.2,852.2 M1170.2,848.3 L1170.5,725.8 L1171.2,848.3 M1186,843.8 L1186.3,719.5 L1187,843.8 M1201,838.8 L1201.3,713 L1202,838.8 M1216,834.5 L1216.3,706.7 L1217,834.5 M1231,829.7 L1231.3,700 L1232,829.7 M1245.2,825 L1245.5,693 L1246.2,825 M1259.2,820 L1259.5,685 L1260.2,820 M1273,815.3 L1273.3,678.8 L1274,815.3 M1286.4,810.5 L1286.7,671.2 L1287.4,810.5 M1299.7,805.3 L1300,662.2 L1300.7,805.3 M1312.9,800 L1313.2,655.8 L1313.9,800 M1326,795 L1326.3,647.75 L1327,795 M1338.2,790 L1338.5,639 L1339.2,790 M1350.7,785 L1351,629.8 L1351.7,785 M1363,780 L1363.3,621.5 L1364,780 M1375.2,775 L1375.5,610.7 L1376.2,775 M1387,770 L1387.3,600.5 L1388,770 M1398.4,764 L1398.7,589.4 L1399.4,764 M1410.2,756 L1410.5,577.3 L1411.2,756 M1421.3,749 L1421.6,562 L1422.3,749 M1432.8,742 L1433.1,549.3 L1433.8,742 M1444,735 L1444.3,535.3 L1445,735 M1455.1,728 L1455.4,518.7 L1456.1,728 M1466,721 L1466.3,502.3 L1467,721 M1477.1,711 L1477.4,483.3 L1478.1,711 M1487.9,701 L1488.2,461.3 L1488.9,701 M1498.4,690 L1498.7,435.3 L1499.4,690 M1519.2,659 L1519.5,366.7 L1520.2,659 M1530,636 L1530.3,323.3 L1531,636" fill="none" stroke="#000" stroke-width="2.1" stroke-linejoin="round"/>
<g fill="none" stroke="#000" stroke-width="4.4" stroke-linecap="round"><path d="M318.35,1000.2 L318.45,1007" stroke-width="4.9" stroke-dasharray="0 2.2"/><path d="M350.6,978 L350.7,998.75" stroke-width="4.9" stroke-dasharray="0 2.2"/><path d="M383.35,961.25 L383.45,992" stroke-width="4.9" stroke-dasharray="0 2.2"/><path d="M417.35,945.5 L417.45,985.5" stroke-width="4.9" stroke-dasharray="0 2.2"/><path d="M451.35,931.75 L451.45,979.5" stroke-width="4.9" stroke-dasharray="0 2.22"/><path d="M485.6,920.75 L485.7,973.75" stroke-width="4.9" stroke-dasharray="0 2.33"/><path d="M519.35,910 L519.45,968.75" stroke-width="4.9" stroke-dasharray="0 2.46"/><path d="M552.6,901.25 L552.7,963.75" stroke-width="4.9" stroke-dasharray="0 2.54"/><path d="M584.35,892 L584.45,958.75" stroke-width="4.9" stroke-dasharray="0 2.63"/><path d="M615.6,883.75 L615.7,954.5" stroke-width="4.9" stroke-dasharray="0 2.72"/><path d="M646.35,876.25 L646.45,949" stroke-width="4.9" stroke-dasharray="0 2.77"/><path d="M676.35,869.25 L676.45,944.5" stroke-width="4.9" stroke-dasharray="0 2.82"/><path d="M705.1,861.25 L705.2,940.5" stroke-width="4.9" stroke-dasharray="0 2.91"/><path d="M733.35,855 L733.45,935.5" stroke-width="4.9" stroke-dasharray="0 2.94"/><path d="M760.6,848.75 L760.7,932" stroke-width="4.9" stroke-dasharray="0 3"/><path d="M786.6,841.25 L786.7,927.5" stroke-width="4.9" stroke-dasharray="0 3.06"/><path d="M812.6,834.5 L812.7,923" stroke-width="4.9" stroke-dasharray="0 3.11"/><path d="M837.6,828.25 L837.7,919.5" stroke-width="4.9" stroke-dasharray="0 3.17"/><path d="M861.6,822 L861.7,915" stroke-width="4.6" stroke-dasharray="0 3.21"/><path d="M885.1,816.25 L885.2,911.25" stroke-width="4.6" stroke-dasharray="0 3.26"/><path d="M907.6,810 L907.7,907" stroke-width="4.6" stroke-dasharray="0 3.3"/><path d="M930.1,804.5 L930.2,903.75" stroke-width="4.6" stroke-dasharray="0 3.35"/><path d="M951.85,798.75 L951.95,899.5" stroke-width="4.6" stroke-dasharray="0 3.38"/><path d="M972.6,792.5 L972.7,895.75" stroke-width="4.6" stroke-dasharray="0 3.44"/><path d="M992.6,786.75 L992.7,891.25" stroke-width="4.6" stroke-dasharray="0 3.46"/><path d="M1012.6,780 L1012.7,887" stroke-width="4.6" stroke-dasharray="0 3.52"/><path d="M1032.6,774.5 L1032.7,883" stroke-width="4.6" stroke-dasharray="0 3.55"/><path d="M1051.35,768.25 L1051.45,878.75" stroke-width="4.6" stroke-dasharray="0 3.6"/><path d="M1069.6,762.5 L1069.7,873.9" stroke-width="4.6" stroke-dasharray="0 3.62"/><path d="M1087.6,756.7 L1087.7,869.2" stroke-width="4.6" stroke-dasharray="0 3.64"/><path d="M1104.8,750.3 L1104.9,865" stroke-width="4.6" stroke-dasharray="0 3.69"/><path d="M1121.4,745 L1121.5,860.8" stroke-width="4.6" stroke-dasharray="0 3.71"/><path d="M1138.6,738.7 L1138.7,856.7" stroke-width="4.6" stroke-dasharray="0 3.76"/><path d="M1154.6,732.2 L1154.7,852.2" stroke-width="4.6" stroke-dasharray="0 3.81"/><path d="M1170.6,725.8 L1170.7,848.3" stroke-width="4.6" stroke-dasharray="0 3.86"/><path d="M1186.4,719.5 L1186.5,843.8" stroke-width="4.6" stroke-dasharray="0 3.9"/><path d="M1201.4,713 L1201.5,838.8" stroke-width="4.6" stroke-dasharray="0 3.93"/><path d="M1216.4,706.7 L1216.5,834.5" stroke-width="4.6" stroke-dasharray="0 3.98"/><path d="M1231.4,700 L1231.5,829.7" stroke-width="4.6" stroke-dasharray="0 4.02"/><path d="M1245.6,693 L1245.7,825" stroke-width="4.6" stroke-dasharray="0 4.07"/><path d="M1259.6,685 L1259.7,820" stroke-width="4.6" stroke-dasharray="0 4.14"/><path d="M1273.4,678.8 L1273.5,815.3" stroke-width="4.6" stroke-dasharray="0 4.17"/><path d="M1286.8,671.2 L1286.9,810.5" stroke-width="4.6" stroke-dasharray="0 4.23"/><path d="M1300.1,662.2 L1300.2,805.3" stroke-width="4.6" stroke-dasharray="0 4.31"/><path d="M1313.3,655.8 L1313.4,800" stroke-width="4.6" stroke-dasharray="0 4.34"/><path d="M1326.4,647.75 L1326.5,795" stroke-width="4.6" stroke-dasharray="0 4.41"/><path d="M1338.6,639 L1338.7,790" stroke-width="4.6" stroke-dasharray="0 4.49"/><path d="M1351.1,629.8 L1351.2,785" stroke-width="4.4" stroke-dasharray="0 4.58"/><path d="M1363.4,621.5 L1363.5,780" stroke-width="4.4" stroke-dasharray="0 4.65"/><path d="M1375.6,610.7 L1375.7,775" stroke-width="4.4" stroke-dasharray="0 4.78"/><path d="M1387.4,600.5 L1387.5,770" stroke-width="4.4" stroke-dasharray="0 4.89"/><path d="M1398.8,589.4 L1398.9,764" stroke-width="4.4" stroke-dasharray="0 5.01"/><path d="M1410.6,577.3 L1410.7,756" stroke-width="4.4" stroke-dasharray="0 5.1"/><path d="M1421.7,562 L1421.8,749" stroke-width="4.4" stroke-dasharray="0 5.28"/><path d="M1433.2,549.3 L1433.3,742" stroke-width="4.4" stroke-dasharray="0 5.41"/><path d="M1444.4,535.3 L1444.5,735" stroke-width="4.4" stroke-dasharray="0 5.56"/><path d="M1455.5,518.7 L1455.6,728" stroke-width="4.4" stroke-dasharray="0 5.77"/><path d="M1466.4,502.3 L1466.5,721" stroke-width="4.4" stroke-dasharray="0 5.98"/><path d="M1477.5,483.3 L1477.6,711" stroke-width="4.4" stroke-dasharray="0 6.18"/><path d="M1488.3,461.3 L1488.4,701" stroke-width="4.4" stroke-dasharray="0 6.44"/><path d="M1498.8,435.3 L1498.9,690" stroke-width="4.4" stroke-dasharray="0 6.5"/><path d="M1519.6,366.7 L1519.7,659" stroke-width="4.4" stroke-dasharray="0 6.5"/><path d="M1530.4,323.3 L1530.5,636" stroke-width="4.4" stroke-dasharray="0 6.5"/></g>
<path d="M1509.3,677.6 L1509.3,100" fill="none" stroke="#000" stroke-width="2.1"/>
<path d="M1509.4,404.7 L1509.5,677.6" fill="none" stroke="#000" stroke-width="4.4" stroke-linecap="round" stroke-dasharray="0 6.4"/>
<path d="M1509.7,404.7 L1510,677.6" fill="none" stroke="#000" stroke-width="2.1"/>
<path d="M1540.6,611.4 L1540.6,100" fill="none" stroke="#000" stroke-width="3.2"/>
<path d="M1540.7,263 L1540.7,323" fill="none" stroke="#000" stroke-width="4.4" stroke-linecap="round" stroke-dasharray="0 4 0 3.5 0 10 0 47 0 13 0 7 0 30"/>
<path d="M1540.7,323 L1540.8,611.4" fill="none" stroke="#000" stroke-width="4.4" stroke-linecap="round" stroke-dasharray="0 6.4"/>
<path d="M1541,263 L1541.3,611.4" fill="none" stroke="#000" stroke-width="2.1"/>
<path d="M1551.3,587.4 L1551.3,100" fill="none" stroke="#000" stroke-width="2.6"/>
<path d="M1551.4,177 L1551.4,287" fill="none" stroke="#000" stroke-width="4.4" stroke-linecap="round" stroke-dasharray="0 4 0 3.5 0 10 0 47 0 13 0 7 0 30"/>
<path d="M1551.4,287 L1551.5,587.4" fill="none" stroke="#000" stroke-width="4.4" stroke-linecap="round" stroke-dasharray="0 6.4"/>
<path d="M1551.7,177 L1552,587.4" fill="none" stroke="#000" stroke-width="2.1"/>
<line x1="1313.1" y1="100" x2="1313.1" y2="1100" stroke="#0000ff" stroke-width="4.17"/>
<line x1="1555.0" y1="100" x2="1555.0" y2="1100" stroke="#0000ff" stroke-width="4.17"/>
<line x1="200" y1="778" x2="1650" y2="778" stroke="#008000" stroke-width="4.17"/>
<line x1="200" y1="580" x2="1650" y2="580" stroke="#ffa500" stroke-width="2.08"/>
<line x1="200" y1="698" x2="1650" y2="698" stroke="#ffa500" stroke-width="2.08"/>
<g fill="#90ee90"><circle cx="1313.5" cy="898.3" r="4.1"/><circle cx="1313.5" cy="894.3" r="4.1"/><circle cx="1313.5" cy="889.3" r="4.1"/><circle cx="1313.5" cy="882.8" r="4.1"/><circle cx="1313.5" cy="873.3" r="4.1"/><circle cx="1313.5" cy="862.6" r="4.1"/><circle cx="1313.5" cy="851.9" r="4.1"/><circle cx="1313.5" cy="841.2" r="4.1"/><circle cx="1313.5" cy="830.5" r="4.1"/><circle cx="1313.5" cy="819.8" r="4.1"/><circle cx="1313.5" cy="809.1" r="4.1"/><circle cx="1313.5" cy="798.4" r="4.1"/><circle cx="1313.5" cy="787.7" r="4.1"/><circle cx="1313.5" cy="777" r="4.1"/><circle cx="1313.5" cy="766.3" r="4.1"/><circle cx="1313.5" cy="755.6" r="4.1"/><circle cx="1313.5" cy="744.9" r="4.1"/><circle cx="1313.5" cy="734.2" r="4.1"/><circle cx="1313.5" cy="723.5" r="4.1"/><circle cx="1313.5" cy="712.8" r="4.1"/><circle cx="1313.5" cy="702.1" r="4.1"/><circle cx="1313.5" cy="691.4" r="4.1"/><circle cx="1313.5" cy="681.23" r="4.1"/><circle cx="1313.5" cy="674.45" r="4.1"/><circle cx="1313.5" cy="670.61" r="4.1"/><circle cx="1313.5" cy="668.8" r="4.1"/></g><g fill="#ff0000"><polygon points="1313.2,634.3 1308.37,649.16 1292.75,649.16 1305.39,658.34 1300.56,673.19 1313.2,664.01 1325.84,673.19 1321.01,658.34 1333.65,649.16 1318.03,649.16"/></g>
<g fill="#90ee90"><circle cx="1326.6" cy="893.3" r="4.1"/><circle cx="1326.6" cy="889.3" r="4.1"/><circle cx="1326.6" cy="884.3" r="4.1"/><circle cx="1326.6" cy="877.8" r="4.1"/><circle cx="1326.6" cy="868.3" r="4.1"/><circle cx="1326.6" cy="857.6" r="4.1"/><circle cx="1326.6" cy="846.9" r="4.1"/><circle cx="1326.6" cy="836.2" r="4.1"/><circle cx="1326.6" cy="825.5" r="4.1"/><circle cx="1326.6" cy="814.8" r="4.1"/><circle cx="1326.6" cy="804.1" r="4.1"/><circle cx="1326.6" cy="793.4" r="4.1"/><circle cx="1326.6" cy="782.7" r="4.1"/><circle cx="1326.6" cy="772" r="4.1"/><circle cx="1326.6" cy="761.3" r="4.1"/><circle cx="1326.6" cy="750.6" r="4.1"/><circle cx="1326.6" cy="739.9" r="4.1"/><circle cx="1326.6" cy="729.2" r="4.1"/><circle cx="1326.6" cy="718.5" r="4.1"/><circle cx="1326.6" cy="707.8" r="4.1"/><circle cx="1326.6" cy="697.1" r="4.1"/><circle cx="1326.6" cy="686.4" r="4.1"/><circle cx="1326.6" cy="675.7" r="4.1"/><circle cx="1326.6" cy="668.97" r="4.1"/><circle cx="1326.6" cy="664.49" r="4.1"/><circle cx="1326.6" cy="661.95" r="4.1"/><circle cx="1326.6" cy="660.75" r="4.1"/></g><line x1="1325.6" y1="609" x2="1325.6" y2="640" stroke="#008000" stroke-width="2.4"/><g fill="#ff0000"><polygon points="1326.3,626.25 1321.47,641.11 1305.85,641.11 1318.49,650.29 1313.66,665.14 1326.3,655.96 1338.94,665.14 1334.11,650.29 1346.75,641.11 1331.13,641.11"/></g>
<g fill="#90ee90"><circle cx="1338.8" cy="888.3" r="4.1"/><circle cx="1338.8" cy="884.3" r="4.1"/><circle cx="1338.8" cy="879.3" r="4.1"/><circle cx="1338.8" cy="872.8" r="4.1"/><circle cx="1338.8" cy="863.3" r="4.1"/><circle cx="1338.8" cy="852.6" r="4.1"/><circle cx="1338.8" cy="841.9" r="4.1"/><circle cx="1338.8" cy="831.2" r="4.1"/><circle cx="1338.8" cy="820.5" r="4.1"/><circle cx="1338.8" cy="809.8" r="4.1"/><circle cx="1338.8" cy="799.1" r="4.1"/><circle cx="1338.8" cy="788.4" r="4.1"/><circle cx="1338.8" cy="777.7" r="4.1"/><circle cx="1338.8" cy="767" r="4.1"/><circle cx="1338.8" cy="756.3" r="4.1"/><circle cx="1338.8" cy="745.6" r="4.1"/><circle cx="1338.8" cy="734.9" r="4.1"/><circle cx="1338.8" cy="724.2" r="4.1"/><circle cx="1338.8" cy="713.5" r="4.1"/><circle cx="1338.8" cy="702.8" r="4.1"/><circle cx="1338.8" cy="692.1" r="4.1"/><circle cx="1338.8" cy="681.4" r="4.1"/><circle cx="1338.8" cy="670.7" r="4.1"/><circle cx="1338.8" cy="662.28" r="4.1"/><circle cx="1338.8" cy="656.67" r="4.1"/><circle cx="1338.8" cy="653.5" r="4.1"/><circle cx="1338.8" cy="652" r="4.1"/></g><line x1="1337.8" y1="609" x2="1337.8" y2="640" stroke="#008000" stroke-width="2.4"/><g fill="#ff0000"><polygon points="1338.5,617.5 1333.67,632.36 1318.05,632.36 1330.69,641.54 1325.86,656.39 1338.5,647.21 1351.14,656.39 1346.31,641.54 1358.95,632.36 1343.33,632.36"/></g>
<g fill="#90ee90"><circle cx="1351.3" cy="882.5" r="4.1"/><circle cx="1351.3" cy="878.5" r="4.1"/><circle cx="1351.3" cy="873.5" r="4.1"/><circle cx="1351.3" cy="867" r="4.1"/><circle cx="1351.3" cy="857.5" r="4.1"/><circle cx="1351.3" cy="846.8" r="4.1"/><circle cx="1351.3" cy="836.1" r="4.1"/><circle cx="1351.3" cy="825.4" r="4.1"/><circle cx="1351.3" cy="814.7" r="4.1"/><circle cx="1351.3" cy="804" r="4.1"/><circle cx="1351.3" cy="793.3" r="4.1"/><circle cx="1351.3" cy="782.6" r="4.1"/><circle cx="1351.3" cy="771.9" r="4.1"/><circle cx="1351.3" cy="761.2" r="4.1"/><circle cx="1351.3" cy="750.5" r="4.1"/><circle cx="1351.3" cy="739.8" r="4.1"/><circle cx="1351.3" cy="729.1" r="4.1"/><circle cx="1351.3" cy="718.4" r="4.1"/><circle cx="1351.3" cy="707.7" r="4.1"/><circle cx="1351.3" cy="697" r="4.1"/><circle cx="1351.3" cy="686.3" r="4.1"/><circle cx="1351.3" cy="675.6" r="4.1"/><circle cx="1351.3" cy="664.9" r="4.1"/><circle cx="1351.3" cy="654.95" r="4.1"/><circle cx="1351.3" cy="648.32" r="4.1"/><circle cx="1351.3" cy="644.57" r="4.1"/><circle cx="1351.3" cy="642.8" r="4.1"/></g><line x1="1350.3" y1="609" x2="1350.3" y2="640" stroke="#008000" stroke-width="2.4"/><g fill="#ff0000"><polygon points="1351,608.3 1346.17,623.16 1330.55,623.16 1343.19,632.34 1338.36,647.19 1351,638.01 1363.64,647.19 1358.81,632.34 1371.45,623.16 1355.83,623.16"/></g>
<g fill="#90ee90"><circle cx="1363.6" cy="876.8" r="4.1"/><circle cx="1363.6" cy="872.8" r="4.1"/><circle cx="1363.6" cy="867.8" r="4.1"/><circle cx="1363.6" cy="861.3" r="4.1"/><circle cx="1363.6" cy="851.8" r="4.1"/><circle cx="1363.6" cy="841.1" r="4.1"/><circle cx="1363.6" cy="830.4" r="4.1"/><circle cx="1363.6" cy="819.7" r="4.1"/><circle cx="1363.6" cy="809" r="4.1"/><circle cx="1363.6" cy="798.3" r="4.1"/><circle cx="1363.6" cy="787.6" r="4.1"/><circle cx="1363.6" cy="776.9" r="4.1"/><circle cx="1363.6" cy="766.2" r="4.1"/><circle cx="1363.6" cy="755.5" r="4.1"/><circle cx="1363.6" cy="744.8" r="4.1"/><circle cx="1363.6" cy="734.1" r="4.1"/><circle cx="1363.6" cy="723.4" r="4.1"/><circle cx="1363.6" cy="712.7" r="4.1"/><circle cx="1363.6" cy="702" r="4.1"/><circle cx="1363.6" cy="691.3" r="4.1"/><circle cx="1363.6" cy="680.6" r="4.1"/><circle cx="1363.6" cy="669.9" r="4.1"/><circle cx="1363.6" cy="659.2" r="4.1"/><circle cx="1363.6" cy="648.08" r="4.1"/><circle cx="1363.6" cy="640.67" r="4.1"/><circle cx="1363.6" cy="636.48" r="4.1"/><circle cx="1363.6" cy="634.5" r="4.1"/></g><g fill="#ff0000"><polygon points="1363.3,600 1358.47,614.86 1342.85,614.86 1355.49,624.04 1350.66,638.89 1363.3,629.71 1375.94,638.89 1371.11,624.04 1383.75,614.86 1368.13,614.86"/></g>
<g fill="#90ee90"><circle cx="1375.8" cy="871" r="4.1"/><circle cx="1375.8" cy="867" r="4.1"/><circle cx="1375.8" cy="862" r="4.1"/><circle cx="1375.8" cy="855.5" r="4.1"/><circle cx="1375.8" cy="846" r="4.1"/><circle cx="1375.8" cy="835.3" r="4.1"/><circle cx="1375.8" cy="824.6" r="4.1"/><circle cx="1375.8" cy="813.9" r="4.1"/><circle cx="1375.8" cy="803.2" r="4.1"/><circle cx="1375.8" cy="792.5" r="4.1"/><circle cx="1375.8" cy="781.8" r="4.1"/><circle cx="1375.8" cy="771.1" r="4.1"/><circle cx="1375.8" cy="760.4" r="4.1"/><circle cx="1375.8" cy="749.7" r="4.1"/><circle cx="1375.8" cy="739" r="4.1"/><circle cx="1375.8" cy="728.3" r="4.1"/><circle cx="1375.8" cy="717.6" r="4.1"/><circle cx="1375.8" cy="706.9" r="4.1"/><circle cx="1375.8" cy="696.2" r="4.1"/><circle cx="1375.8" cy="685.5" r="4.1"/><circle cx="1375.8" cy="674.8" r="4.1"/><circle cx="1375.8" cy="664.1" r="4.1"/><circle cx="1375.8" cy="653.4" r="4.1"/><circle cx="1375.8" cy="642.7" r="4.1"/><circle cx="1375.8" cy="634.15" r="4.1"/><circle cx="1375.8" cy="628.45" r="4.1"/><circle cx="1375.8" cy="625.22" r="4.1"/><circle cx="1375.8" cy="623.7" r="4.1"/></g><g fill="#ff0000"><polygon points="1375.5,589.2 1370.67,604.06 1355.05,604.06 1367.69,613.24 1362.86,628.09 1375.5,618.91 1388.14,628.09 1383.31,613.24 1395.95,604.06 1380.33,604.06"/></g>
<g fill="#90ee90"><circle cx="1387.6" cy="865.6" r="4.1"/><circle cx="1387.6" cy="861.6" r="4.1"/><circle cx="1387.6" cy="856.6" r="4.1"/><circle cx="1387.6" cy="850.1" r="4.1"/><circle cx="1387.6" cy="840.6" r="4.1"/><circle cx="1387.6" cy="829.9" r="4.1"/><circle cx="1387.6" cy="819.2" r="4.1"/><circle cx="1387.6" cy="808.5" r="4.1"/><circle cx="1387.6" cy="797.8" r="4.1"/><circle cx="1387.6" cy="787.1" r="4.1"/><circle cx="1387.6" cy="776.4" r="4.1"/><circle cx="1387.6" cy="765.7" r="4.1"/><circle cx="1387.6" cy="755" r="4.1"/><circle cx="1387.6" cy="744.3" r="4.1"/><circle cx="1387.6" cy="733.6" r="4.1"/><circle cx="1387.6" cy="722.9" r="4.1"/><circle cx="1387.6" cy="712.2" r="4.1"/><circle cx="1387.6" cy="701.5" r="4.1"/><circle cx="1387.6" cy="690.8" r="4.1"/><circle cx="1387.6" cy="680.1" r="4.1"/><circle cx="1387.6" cy="669.4" r="4.1"/><circle cx="1387.6" cy="658.7" r="4.1"/><circle cx="1387.6" cy="648" r="4.1"/><circle cx="1387.6" cy="637.3" r="4.1"/><circle cx="1387.6" cy="626.59" r="4.1"/><circle cx="1387.6" cy="619.45" r="4.1"/><circle cx="1387.6" cy="615.4" r="4.1"/><circle cx="1387.6" cy="613.5" r="4.1"/></g><g fill="#ff0000"><polygon points="1387.3,579 1382.47,593.86 1366.85,593.86 1379.49,603.04 1374.66,617.89 1387.3,608.71 1399.94,617.89 1395.11,603.04 1407.75,593.86 1392.13,593.86"/></g>
<g fill="#90ee90"><circle cx="1399" cy="860" r="4.1"/><circle cx="1399" cy="856" r="4.1"/><circle cx="1399" cy="851" r="4.1"/><circle cx="1399" cy="844.5" r="4.1"/><circle cx="1399" cy="835" r="4.1"/><circle cx="1399" cy="824.3" r="4.1"/><circle cx="1399" cy="813.6" r="4.1"/><circle cx="1399" cy="802.9" r="4.1"/><circle cx="1399" cy="792.2" r="4.1"/><circle cx="1399" cy="781.5" r="4.1"/><circle cx="1399" cy="770.8" r="4.1"/><circle cx="1399" cy="760.1" r="4.1"/><circle cx="1399" cy="749.4" r="4.1"/><circle cx="1399" cy="738.7" r="4.1"/><circle cx="1399" cy="728" r="4.1"/><circle cx="1399" cy="717.3" r="4.1"/><circle cx="1399" cy="706.6" r="4.1"/><circle cx="1399" cy="695.9" r="4.1"/><circle cx="1399" cy="685.2" r="4.1"/><circle cx="1399" cy="674.5" r="4.1"/><circle cx="1399" cy="663.8" r="4.1"/><circle cx="1399" cy="653.1" r="4.1"/><circle cx="1399" cy="642.4" r="4.1"/><circle cx="1399" cy="631.7" r="4.1"/><circle cx="1399" cy="621" r="4.1"/><circle cx="1399" cy="612.63" r="4.1"/><circle cx="1399" cy="607.05" r="4.1"/><circle cx="1399" cy="603.89" r="4.1"/><circle cx="1399" cy="602.4" r="4.1"/></g><g fill="#ff0000"><polygon points="1398.7,567.9 1393.87,582.76 1378.25,582.76 1390.89,591.94 1386.06,606.79 1398.7,597.61 1411.34,606.79 1406.51,591.94 1419.15,582.76 1403.53,582.76"/></g>
<g fill="#ffff00" fill-opacity="0.4"><circle cx="1351.3" cy="778.5" r="7.4"/><circle cx="1351.3" cy="778.5" r="7.4"/><circle cx="1351.3" cy="778.5" r="7.4"/><circle cx="1363" cy="781" r="7.4"/><circle cx="1363" cy="781" r="7.4"/><circle cx="1371.94" cy="777.97" r="7.4"/><circle cx="1372.79" cy="776.75" r="7.4"/><circle cx="1373.89" cy="775.74" r="7.4"/><circle cx="1375.25" cy="775.09" r="7.4"/><circle cx="1375.5" cy="775" r="7.4"/><circle cx="1363.6" cy="778.5" r="7.4"/><circle cx="1363.6" cy="778.5" r="7.4"/><circle cx="1363.6" cy="778.5" r="7.4"/><circle cx="1375.2" cy="776" r="7.4"/><circle cx="1375.2" cy="776" r="7.4"/><circle cx="1376.3" cy="775" r="7.4"/><circle cx="1376.28" cy="776.5" r="7.4"/><circle cx="1376.25" cy="778" r="7.4"/><circle cx="1382.34" cy="777.04" r="7.4"/><circle cx="1382.76" cy="775.6" r="7.4"/><circle cx="1383.27" cy="774.19" r="7.4"/><circle cx="1383.92" cy="772.84" r="7.4"/><circle cx="1384.78" cy="771.62" r="7.4"/><circle cx="1385.91" cy="770.64" r="7.4"/><circle cx="1387.26" cy="770.01" r="7.4"/><circle cx="1387.3" cy="770" r="7.4"/><circle cx="1375.8" cy="778.5" r="7.4"/><circle cx="1375.8" cy="778.5" r="7.4"/><circle cx="1375.8" cy="778.5" r="7.4"/><circle cx="1387" cy="771" r="7.4"/><circle cx="1387" cy="771" r="7.4"/><circle cx="1388.1" cy="770" r="7.4"/><circle cx="1388.08" cy="771.5" r="7.4"/><circle cx="1388.05" cy="773" r="7.4"/><circle cx="1388.03" cy="774.5" r="7.4"/><circle cx="1388.01" cy="776" r="7.4"/><circle cx="1387.99" cy="777.5" r="7.4"/><circle cx="1392.84" cy="777.11" r="7.4"/><circle cx="1393.03" cy="775.62" r="7.4"/><circle cx="1393.3" cy="774.14" r="7.4"/><circle cx="1393.57" cy="772.67" r="7.4"/><circle cx="1393.9" cy="771.21" r="7.4"/><circle cx="1394.27" cy="769.75" r="7.4"/><circle cx="1394.76" cy="768.34" r="7.4"/><circle cx="1395.38" cy="766.97" r="7.4"/><circle cx="1396.19" cy="765.72" r="7.4"/><circle cx="1397.28" cy="764.7" r="7.4"/><circle cx="1398.62" cy="764.03" r="7.4"/><circle cx="1398.7" cy="764" r="7.4"/><circle cx="1387.6" cy="778.5" r="7.4"/><circle cx="1387.6" cy="778.5" r="7.4"/><circle cx="1387.6" cy="778.5" r="7.4"/><circle cx="1398.4" cy="765" r="7.4"/><circle cx="1398.4" cy="765" r="7.4"/><circle cx="1399.5" cy="764" r="7.4"/><circle cx="1399.48" cy="765.5" r="7.4"/><circle cx="1399.45" cy="767" r="7.4"/><circle cx="1399.43" cy="768.5" r="7.4"/><circle cx="1399.41" cy="770" r="7.4"/><circle cx="1399.39" cy="771.5" r="7.4"/><circle cx="1399.36" cy="773" r="7.4"/><circle cx="1399.34" cy="774.5" r="7.4"/><circle cx="1399.32" cy="776" r="7.4"/><circle cx="1399.29" cy="777.5" r="7.4"/><circle cx="1403.5" cy="777.88" r="7.4"/><circle cx="1403.63" cy="776.38" r="7.4"/><circle cx="1403.76" cy="774.89" r="7.4"/><circle cx="1403.93" cy="773.4" r="7.4"/><circle cx="1404.1" cy="771.91" r="7.4"/><circle cx="1404.27" cy="770.42" r="7.4"/><circle cx="1404.49" cy="768.93" r="7.4"/><circle cx="1404.72" cy="767.45" r="7.4"/><circle cx="1404.96" cy="765.97" r="7.4"/><circle cx="1405.27" cy="764.5" r="7.4"/><circle cx="1405.6" cy="763.04" r="7.4"/><circle cx="1406.01" cy="761.6" r="7.4"/><circle cx="1406.52" cy="760.19" r="7.4"/><circle cx="1407.17" cy="758.84" r="7.4"/><circle cx="1408.02" cy="757.61" r="7.4"/><circle cx="1409.15" cy="756.64" r="7.4"/><circle cx="1410.5" cy="756" r="7.4"/><circle cx="1399" cy="778.5" r="7.4"/><circle cx="1399" cy="778.5" r="7.4"/><circle cx="1399" cy="778.5" r="7.4"/><circle cx="1410.2" cy="757" r="7.4"/><circle cx="1410.2" cy="757" r="7.4"/><circle cx="1410.83" cy="746.48" r="7.4" fill-opacity="0.3"/><circle cx="1411.08" cy="737.76" r="7.4" fill-opacity="0.3"/><circle cx="1411.3" cy="756" r="7.4"/><circle cx="1411.28" cy="757.5" r="7.4"/><circle cx="1411.26" cy="759" r="7.4"/><circle cx="1411.23" cy="760.5" r="7.4"/><circle cx="1411.21" cy="762" r="7.4"/><circle cx="1411.19" cy="763.5" r="7.4"/><circle cx="1411.17" cy="765" r="7.4"/><circle cx="1411.15" cy="766.5" r="7.4"/><circle cx="1411.12" cy="768" r="7.4"/><circle cx="1411.1" cy="769.5" r="7.4"/><circle cx="1411.08" cy="771" r="7.4"/><circle cx="1411.06" cy="772.5" r="7.4"/><circle cx="1411.03" cy="774" r="7.4"/><circle cx="1411.01" cy="775.5" r="7.4"/><circle cx="1410.99" cy="777" r="7.4"/><circle cx="1410.97" cy="778.5" r="7.4"/><circle cx="1414.6" cy="777.32" r="7.4"/><circle cx="1414.69" cy="775.82" r="7.4"/><circle cx="1414.78" cy="774.32" r="7.4"/><circle cx="1414.9" cy="772.83" r="7.4"/><circle cx="1415.03" cy="771.33" r="7.4"/><circle cx="1415.15" cy="769.84" r="7.4"/><circle cx="1415.27" cy="768.34" r="7.4"/><circle cx="1415.42" cy="766.85" r="7.4"/><circle cx="1415.58" cy="765.36" r="7.4"/><circle cx="1415.74" cy="763.87" r="7.4"/><circle cx="1415.92" cy="762.38" r="7.4"/><circle cx="1416.14" cy="760.89" r="7.4"/><circle cx="1416.36" cy="759.41" r="7.4"/><circle cx="1416.63" cy="757.93" r="7.4"/><circle cx="1416.94" cy="756.47" r="7.4"/><circle cx="1417.31" cy="755.01" r="7.4"/><circle cx="1417.74" cy="753.58" r="7.4"/><circle cx="1418.32" cy="752.2" r="7.4"/><circle cx="1419.07" cy="750.9" r="7.4"/><circle cx="1420.1" cy="749.82" r="7.4"/><circle cx="1421.4" cy="749.09" r="7.4"/><circle cx="1421.6" cy="749" r="7.4"/><circle cx="1410.8" cy="778.5" r="7.4"/><circle cx="1410.8" cy="778.5" r="7.4"/><circle cx="1410.8" cy="778.5" r="7.4"/><circle cx="1421.3" cy="750" r="7.4"/><circle cx="1421.3" cy="750" r="7.4"/><circle cx="1422.81" cy="739.04" r="7.4" fill-opacity="0.3"/><circle cx="1423.29" cy="732.38" r="7.4" fill-opacity="0.3"/><circle cx="1422.4" cy="749" r="7.4"/><circle cx="1422.38" cy="750.5" r="7.4"/><circle cx="1422.36" cy="752" r="7.4"/><circle cx="1422.33" cy="753.5" r="7.4"/><circle cx="1422.31" cy="755" r="7.4"/><circle cx="1422.29" cy="756.5" r="7.4"/><circle cx="1422.27" cy="758" r="7.4"/><circle cx="1422.25" cy="759.5" r="7.4"/><circle cx="1422.22" cy="761" r="7.4"/><circle cx="1422.2" cy="762.5" r="7.4"/><circle cx="1422.18" cy="764" r="7.4"/><circle cx="1422.16" cy="765.5" r="7.4"/><circle cx="1422.14" cy="767" r="7.4"/><circle cx="1422.11" cy="768.5" r="7.4"/><circle cx="1422.09" cy="770" r="7.4"/><circle cx="1422.07" cy="771.5" r="7.4"/><circle cx="1422.05" cy="773" r="7.4"/><circle cx="1422.03" cy="774.5" r="7.4"/><circle cx="1422" cy="776" r="7.4"/><circle cx="1421.98" cy="777.5" r="7.4"/><circle cx="1425.43" cy="777.32" r="7.4"/><circle cx="1425.51" cy="775.82" r="7.4"/><circle cx="1425.6" cy="774.33" r="7.4"/><circle cx="1425.68" cy="772.83" r="7.4"/><circle cx="1425.77" cy="771.33" r="7.4"/><circle cx="1425.87" cy="769.83" r="7.4"/><circle cx="1425.98" cy="768.34" r="7.4"/><circle cx="1426.09" cy="766.84" r="7.4"/><circle cx="1426.2" cy="765.35" r="7.4"/><circle cx="1426.31" cy="763.85" r="7.4"/><circle cx="1426.46" cy="762.36" r="7.4"/><circle cx="1426.6" cy="760.86" r="7.4"/><circle cx="1426.74" cy="759.37" r="7.4"/><circle cx="1426.91" cy="757.88" r="7.4"/><circle cx="1427.1" cy="756.39" r="7.4"/><circle cx="1427.29" cy="754.9" r="7.4"/><circle cx="1427.51" cy="753.42" r="7.4"/><circle cx="1427.77" cy="751.94" r="7.4"/><circle cx="1428.03" cy="750.47" r="7.4"/><circle cx="1428.39" cy="749.01" r="7.4"/><circle cx="1428.78" cy="747.56" r="7.4"/><circle cx="1429.27" cy="746.15" r="7.4"/><circle cx="1429.91" cy="744.79" r="7.4"/><circle cx="1430.75" cy="743.55" r="7.4"/><circle cx="1431.89" cy="742.59" r="7.4"/><circle cx="1433.1" cy="742" r="7.4"/><circle cx="1422" cy="778.5" r="7.4"/><circle cx="1422" cy="778.5" r="7.4"/><circle cx="1422" cy="778.5" r="7.4"/><circle cx="1432.8" cy="743" r="7.4"/><circle cx="1432.8" cy="743" r="7.4"/><circle cx="1433.72" cy="724.1" r="7.4" fill-opacity="0.3"/><circle cx="1433.9" cy="742" r="7.4"/><circle cx="1433.88" cy="743.5" r="7.4"/><circle cx="1433.86" cy="745" r="7.4"/><circle cx="1433.83" cy="746.5" r="7.4"/><circle cx="1433.81" cy="748" r="7.4"/><circle cx="1433.79" cy="749.5" r="7.4"/><circle cx="1433.77" cy="751" r="7.4"/><circle cx="1433.75" cy="752.5" r="7.4"/><circle cx="1433.72" cy="754" r="7.4"/><circle cx="1433.7" cy="755.5" r="7.4"/><circle cx="1433.68" cy="757" r="7.4"/><circle cx="1433.66" cy="758.5" r="7.4"/><circle cx="1433.64" cy="760" r="7.4"/><circle cx="1433.61" cy="761.5" r="7.4"/><circle cx="1433.59" cy="763" r="7.4"/><circle cx="1433.57" cy="764.5" r="7.4"/><circle cx="1433.55" cy="766" r="7.4"/><circle cx="1433.53" cy="767.5" r="7.4"/><circle cx="1433.5" cy="769" r="7.4"/><circle cx="1433.48" cy="770.5" r="7.4"/><circle cx="1433.46" cy="772" r="7.4"/><circle cx="1433.44" cy="773.5" r="7.4"/><circle cx="1433.42" cy="775" r="7.4"/><circle cx="1433.39" cy="776.5" r="7.4"/><circle cx="1433.37" cy="778" r="7.4"/><circle cx="1436.48" cy="777.8" r="7.4"/><circle cx="1436.55" cy="776.3" r="7.4"/><circle cx="1436.61" cy="774.8" r="7.4"/><circle cx="1436.68" cy="773.3" r="7.4"/><circle cx="1436.75" cy="771.8" r="7.4"/><circle cx="1436.83" cy="770.31" r="7.4"/><circle cx="1436.92" cy="768.81" r="7.4"/><circle cx="1437" cy="767.31" r="7.4"/><circle cx="1437.08" cy="765.81" r="7.4"/><circle cx="1437.16" cy="764.32" r="7.4"/><circle cx="1437.26" cy="762.82" r="7.4"/><circle cx="1437.37" cy="761.32" r="7.4"/><circle cx="1437.48" cy="759.83" r="7.4"/><circle cx="1437.58" cy="758.33" r="7.4"/><circle cx="1437.7" cy="756.84" r="7.4"/><circle cx="1437.84" cy="755.34" r="7.4"/><circle cx="1437.98" cy="753.85" r="7.4"/><circle cx="1438.12" cy="752.35" r="7.4"/><circle cx="1438.27" cy="750.86" r="7.4"/><circle cx="1438.46" cy="749.38" r="7.4"/><circle cx="1438.65" cy="747.89" r="7.4"/><circle cx="1438.86" cy="746.4" r="7.4"/><circle cx="1439.12" cy="744.92" r="7.4"/><circle cx="1439.37" cy="743.45" r="7.4"/><circle cx="1439.72" cy="741.99" r="7.4"/><circle cx="1440.1" cy="740.54" r="7.4"/><circle cx="1440.58" cy="739.12" r="7.4"/><circle cx="1441.21" cy="737.76" r="7.4"/><circle cx="1442.05" cy="736.51" r="7.4"/><circle cx="1443.19" cy="735.55" r="7.4"/><circle cx="1444.3" cy="735" r="7.4"/><circle cx="1433.6" cy="778.5" r="7.4"/><circle cx="1433.6" cy="778.5" r="7.4"/><circle cx="1433.6" cy="778.5" r="7.4"/><circle cx="1444" cy="736" r="7.4"/><circle cx="1444" cy="736" r="7.4"/><circle cx="1445.6" cy="726.09" r="7.4" fill-opacity="0.3"/><circle cx="1445.01" cy="716.76" r="7.4" fill-opacity="0.3"/><circle cx="1445.1" cy="735" r="7.4"/><circle cx="1445.08" cy="736.5" r="7.4"/><circle cx="1445.06" cy="738" r="7.4"/><circle cx="1445.03" cy="739.5" r="7.4"/><circle cx="1445.01" cy="741" r="7.4"/><circle cx="1444.99" cy="742.5" r="7.4"/><circle cx="1444.97" cy="744" r="7.4"/><circle cx="1444.95" cy="745.5" r="7.4"/><circle cx="1444.92" cy="747" r="7.4"/><circle cx="1444.9" cy="748.5" r="7.4"/><circle cx="1444.88" cy="750" r="7.4"/><circle cx="1444.86" cy="751.5" r="7.4"/><circle cx="1444.84" cy="753" r="7.4"/><circle cx="1444.81" cy="754.5" r="7.4"/><circle cx="1444.79" cy="756" r="7.4"/><circle cx="1444.77" cy="757.5" r="7.4"/><circle cx="1444.75" cy="759" r="7.4"/><circle cx="1444.73" cy="760.5" r="7.4"/><circle cx="1444.71" cy="762" r="7.4"/><circle cx="1444.68" cy="763.5" r="7.4"/><circle cx="1444.66" cy="765" r="7.4"/><circle cx="1444.64" cy="766.5" r="7.4"/><circle cx="1444.62" cy="768" r="7.4"/><circle cx="1444.6" cy="769.5" r="7.4"/><circle cx="1444.57" cy="771" r="7.4"/><circle cx="1444.55" cy="772.5" r="7.4"/><circle cx="1444.53" cy="774" r="7.4"/><circle cx="1444.51" cy="775.5" r="7.4"/><circle cx="1444.49" cy="777" r="7.4"/><circle cx="1444.46" cy="778.5" r="7.4"/><circle cx="1447.41" cy="777.19" r="7.4"/><circle cx="1447.46" cy="775.69" r="7.4"/><circle cx="1447.52" cy="774.19" r="7.4"/><circle cx="1447.57" cy="772.69" r="7.4"/><circle cx="1447.63" cy="771.19" r="7.4"/><circle cx="1447.7" cy="769.69" r="7.4"/><circle cx="1447.77" cy="768.2" r="7.4"/><circle cx="1447.84" cy="766.7" r="7.4"/><circle cx="1447.91" cy="765.2" r="7.4"/><circle cx="1447.98" cy="763.7" r="7.4"/><circle cx="1448.05" cy="762.2" r="7.4"/><circle cx="1448.14" cy="760.71" r="7.4"/><circle cx="1448.23" cy="759.21" r="7.4"/><circle cx="1448.32" cy="757.71" r="7.4"/><circle cx="1448.41" cy="756.21" r="7.4"/><circle cx="1448.5" cy="754.72" r="7.4"/><circle cx="1448.61" cy="753.22" r="7.4"/><circle cx="1448.73" cy="751.72" r="7.4"/><circle cx="1448.85" cy="750.23" r="7.4"/><circle cx="1448.96" cy="748.73" r="7.4"/><circle cx="1449.08" cy="747.24" r="7.4"/><circle cx="1449.24" cy="745.75" r="7.4"/><circle cx="1449.4" cy="744.26" r="7.4"/><circle cx="1449.56" cy="742.76" r="7.4"/><circle cx="1449.75" cy="741.28" r="7.4"/><circle cx="1449.97" cy="739.79" r="7.4"/><circle cx="1450.19" cy="738.31" r="7.4"/><circle cx="1450.47" cy="736.84" r="7.4"/><circle cx="1450.77" cy="735.37" r="7.4"/><circle cx="1451.15" cy="733.92" r="7.4"/><circle cx="1451.58" cy="732.48" r="7.4"/><circle cx="1452.17" cy="731.1" r="7.4"/><circle cx="1452.94" cy="729.82" r="7.4"/><circle cx="1453.99" cy="728.76" r="7.4"/><circle cx="1455.3" cy="728.04" r="7.4"/><circle cx="1455.4" cy="728" r="7.4"/><circle cx="1444.9" cy="778.5" r="7.4"/><circle cx="1444.9" cy="778.5" r="7.4"/><circle cx="1444.9" cy="778.5" r="7.4"/><circle cx="1455.1" cy="729" r="7.4"/><circle cx="1455.1" cy="729" r="7.4"/><circle cx="1455.87" cy="718.21" r="7.4" fill-opacity="0.3"/><circle cx="1456.7" cy="711.39" r="7.4" fill-opacity="0.3"/><circle cx="1456.2" cy="728" r="7.4"/><circle cx="1456.18" cy="729.5" r="7.4"/><circle cx="1456.16" cy="731" r="7.4"/><circle cx="1456.13" cy="732.5" r="7.4"/><circle cx="1456.11" cy="734" r="7.4"/><circle cx="1456.09" cy="735.5" r="7.4"/><circle cx="1456.07" cy="737" r="7.4"/><circle cx="1456.04" cy="738.5" r="7.4"/><circle cx="1456.02" cy="740" r="7.4"/><circle cx="1456" cy="741.5" r="7.4"/><circle cx="1455.98" cy="743" r="7.4"/><circle cx="1455.96" cy="744.5" r="7.4"/><circle cx="1455.93" cy="746" r="7.4"/><circle cx="1455.91" cy="747.5" r="7.4"/><circle cx="1455.89" cy="749" r="7.4"/><circle cx="1455.87" cy="750.5" r="7.4"/><circle cx="1455.85" cy="752" r="7.4"/><circle cx="1455.82" cy="753.5" r="7.4"/><circle cx="1455.8" cy="755" r="7.4"/><circle cx="1455.78" cy="756.5" r="7.4"/><circle cx="1455.76" cy="758" r="7.4"/><circle cx="1455.73" cy="759.5" r="7.4"/><circle cx="1455.71" cy="761" r="7.4"/><circle cx="1455.69" cy="762.5" r="7.4"/><circle cx="1455.67" cy="764" r="7.4"/><circle cx="1455.65" cy="765.5" r="7.4"/><circle cx="1455.62" cy="767" r="7.4"/><circle cx="1455.6" cy="768.5" r="7.4"/><circle cx="1455.58" cy="770" r="7.4"/><circle cx="1455.56" cy="771.5" r="7.4"/><circle cx="1455.54" cy="773" r="7.4"/><circle cx="1455.51" cy="774.49" r="7.4"/><circle cx="1455.74" cy="775.95" r="7.4"/><circle cx="1456.32" cy="777.33" r="7.4"/><circle cx="1458.2" cy="777.18" r="7.4"/><circle cx="1458.24" cy="775.68" r="7.4"/><circle cx="1458.29" cy="774.18" r="7.4"/><circle cx="1458.35" cy="772.68" r="7.4"/><circle cx="1458.4" cy="771.18" r="7.4"/><circle cx="1458.46" cy="769.68" r="7.4"/><circle cx="1458.51" cy="768.18" r="7.4"/><circle cx="1458.57" cy="766.69" r="7.4"/><circle cx="1458.62" cy="765.19" r="7.4"/><circle cx="1458.68" cy="763.69" r="7.4"/><circle cx="1458.75" cy="762.19" r="7.4"/><circle cx="1458.82" cy="760.69" r="7.4"/><circle cx="1458.89" cy="759.19" r="7.4"/><circle cx="1458.96" cy="757.69" r="7.4"/><circle cx="1459.03" cy="756.2" r="7.4"/><circle cx="1459.1" cy="754.7" r="7.4"/><circle cx="1459.19" cy="753.2" r="7.4"/><circle cx="1459.28" cy="751.7" r="7.4"/><circle cx="1459.37" cy="750.21" r="7.4"/><circle cx="1459.46" cy="748.71" r="7.4"/><circle cx="1459.55" cy="747.21" r="7.4"/><circle cx="1459.65" cy="745.71" r="7.4"/><circle cx="1459.77" cy="744.22" r="7.4"/><circle cx="1459.89" cy="742.72" r="7.4"/><circle cx="1460.01" cy="741.23" r="7.4"/><circle cx="1460.13" cy="739.73" r="7.4"/><circle cx="1460.29" cy="738.24" r="7.4"/><circle cx="1460.45" cy="736.75" r="7.4"/><circle cx="1460.61" cy="735.26" r="7.4"/><circle cx="1460.81" cy="733.77" r="7.4"/><circle cx="1461.03" cy="732.29" r="7.4"/><circle cx="1461.25" cy="730.8" r="7.4"/><circle cx="1461.54" cy="729.33" r="7.4"/><circle cx="1461.85" cy="727.87" r="7.4"/><circle cx="1462.26" cy="726.42" r="7.4"/><circle cx="1462.73" cy="725" r="7.4"/><circle cx="1463.35" cy="723.64" r="7.4"/><circle cx="1464.21" cy="722.42" r="7.4"/><circle cx="1465.35" cy="721.45" r="7.4"/><circle cx="1466.3" cy="721" r="7.4"/><circle cx="1456.1" cy="778.5" r="7.4"/><circle cx="1456.1" cy="778.5" r="7.4"/><circle cx="1456.1" cy="778.5" r="7.4"/><circle cx="1466" cy="722" r="7.4"/><circle cx="1466" cy="722" r="7.4"/><circle cx="1467.64" cy="712.86" r="7.4" fill-opacity="0.3"/><circle cx="1467.1" cy="721" r="7.4"/><circle cx="1467.08" cy="722.5" r="7.4"/><circle cx="1467.06" cy="724" r="7.4"/><circle cx="1467.03" cy="725.5" r="7.4"/><circle cx="1467.01" cy="727" r="7.4"/><circle cx="1466.99" cy="728.5" r="7.4"/><circle cx="1466.97" cy="730" r="7.4"/><circle cx="1466.94" cy="731.5" r="7.4"/><circle cx="1466.92" cy="733" r="7.4"/><circle cx="1466.9" cy="734.5" r="7.4"/><circle cx="1466.88" cy="736" r="7.4"/><circle cx="1466.85" cy="737.5" r="7.4"/><circle cx="1466.83" cy="739" r="7.4"/><circle cx="1466.81" cy="740.5" r="7.4"/><circle cx="1466.79" cy="742" r="7.4"/><circle cx="1466.76" cy="743.5" r="7.4"/><circle cx="1466.74" cy="745" r="7.4"/><circle cx="1466.72" cy="746.5" r="7.4"/><circle cx="1466.7" cy="748" r="7.4"/><circle cx="1466.67" cy="749.5" r="7.4"/><circle cx="1466.65" cy="751" r="7.4"/><circle cx="1466.63" cy="752.5" r="7.4"/><circle cx="1466.61" cy="754" r="7.4"/><circle cx="1466.59" cy="755.5" r="7.4"/><circle cx="1466.56" cy="757" r="7.4"/><circle cx="1466.54" cy="758.5" r="7.4"/><circle cx="1466.52" cy="760" r="7.4"/><circle cx="1466.5" cy="761.5" r="7.4"/><circle cx="1466.47" cy="763" r="7.4"/><circle cx="1466.45" cy="764.5" r="7.4"/><circle cx="1466.43" cy="765.99" r="7.4"/><circle cx="1466.41" cy="767.49" r="7.4"/><circle cx="1466.83" cy="768.91" r="7.4"/><circle cx="1467.43" cy="770.28" r="7.4"/><circle cx="1467.71" cy="771.73" r="7.4"/><circle cx="1467.72" cy="773.23" r="7.4"/><circle cx="1467.73" cy="774.73" r="7.4"/><circle cx="1467.74" cy="776.23" r="7.4"/><circle cx="1467.75" cy="777.73" r="7.4"/><circle cx="1468.88" cy="777.19" r="7.4"/><circle cx="1468.92" cy="775.69" r="7.4"/><circle cx="1468.97" cy="774.19" r="7.4"/><circle cx="1469.01" cy="772.69" r="7.4"/><circle cx="1469.06" cy="771.19" r="7.4"/><circle cx="1469.1" cy="769.69" r="7.4"/><circle cx="1469.14" cy="768.19" r="7.4"/><circle cx="1469.19" cy="766.69" r="7.4"/><circle cx="1469.24" cy="765.19" r="7.4"/><circle cx="1469.3" cy="763.69" r="7.4"/><circle cx="1469.35" cy="762.19" r="7.4"/><circle cx="1469.41" cy="760.69" r="7.4"/><circle cx="1469.46" cy="759.19" r="7.4"/><circle cx="1469.52" cy="757.7" r="7.4"/><circle cx="1469.57" cy="756.2" r="7.4"/><circle cx="1469.63" cy="754.7" r="7.4"/><circle cx="1469.7" cy="753.2" r="7.4"/><circle cx="1469.77" cy="751.7" r="7.4"/><circle cx="1469.84" cy="750.2" r="7.4"/><circle cx="1469.91" cy="748.7" r="7.4"/><circle cx="1469.98" cy="747.21" r="7.4"/><circle cx="1470.05" cy="745.71" r="7.4"/><circle cx="1470.13" cy="744.21" r="7.4"/><circle cx="1470.22" cy="742.71" r="7.4"/><circle cx="1470.31" cy="741.22" r="7.4"/><circle cx="1470.4" cy="739.72" r="7.4"/><circle cx="1470.49" cy="738.22" r="7.4"/><circle cx="1470.58" cy="736.72" r="7.4"/><circle cx="1470.7" cy="735.23" r="7.4"/><circle cx="1470.82" cy="733.73" r="7.4"/><circle cx="1470.94" cy="732.24" r="7.4"/><circle cx="1471.06" cy="730.74" r="7.4"/><circle cx="1471.21" cy="729.25" r="7.4"/><circle cx="1471.37" cy="727.76" r="7.4"/><circle cx="1471.53" cy="726.27" r="7.4"/><circle cx="1471.69" cy="724.78" r="7.4"/><circle cx="1471.91" cy="723.29" r="7.4"/><circle cx="1472.13" cy="721.81" r="7.4"/><circle cx="1472.38" cy="720.33" r="7.4"/><circle cx="1472.68" cy="718.86" r="7.4"/><circle cx="1473.02" cy="717.4" r="7.4"/><circle cx="1473.44" cy="715.96" r="7.4"/><circle cx="1473.98" cy="714.56" r="7.4"/><circle cx="1474.68" cy="713.24" r="7.4"/><circle cx="1475.62" cy="712.08" r="7.4"/><circle cx="1476.85" cy="711.24" r="7.4"/><circle cx="1477.4" cy="711" r="7.4"/><circle cx="1467.1" cy="778.5" r="7.4"/><circle cx="1467.1" cy="778.5" r="7.4"/><circle cx="1467.1" cy="778.5" r="7.4"/><circle cx="1477.1" cy="712" r="7.4"/><circle cx="1477.1" cy="712" r="7.4"/><circle cx="1478.5" cy="701.78" r="7.4" fill-opacity="0.3"/><circle cx="1478.2" cy="711" r="7.4"/><circle cx="1478.18" cy="712.5" r="7.4"/><circle cx="1478.16" cy="714" r="7.4"/><circle cx="1478.13" cy="715.5" r="7.4"/><circle cx="1478.11" cy="717" r="7.4"/><circle cx="1478.09" cy="718.5" r="7.4"/><circle cx="1478.07" cy="720" r="7.4"/><circle cx="1478.04" cy="721.5" r="7.4"/><circle cx="1478.02" cy="723" r="7.4"/><circle cx="1478" cy="724.5" r="7.4"/><circle cx="1477.98" cy="726" r="7.4"/><circle cx="1477.96" cy="727.5" r="7.4"/><circle cx="1477.93" cy="729" r="7.4"/><circle cx="1477.91" cy="730.5" r="7.4"/><circle cx="1477.89" cy="732" r="7.4"/><circle cx="1477.87" cy="733.5" r="7.4"/><circle cx="1477.84" cy="735" r="7.4"/><circle cx="1477.82" cy="736.5" r="7.4"/><circle cx="1477.8" cy="738" r="7.4"/><circle cx="1477.78" cy="739.5" r="7.4"/><circle cx="1477.75" cy="741" r="7.4"/><circle cx="1477.73" cy="742.5" r="7.4"/><circle cx="1477.71" cy="744" r="7.4"/><circle cx="1477.69" cy="745.5" r="7.4"/><circle cx="1477.67" cy="747" r="7.4"/><circle cx="1477.64" cy="748.5" r="7.4"/><circle cx="1477.62" cy="750" r="7.4"/><circle cx="1477.6" cy="751.5" r="7.4"/><circle cx="1477.58" cy="753" r="7.4"/><circle cx="1477.55" cy="754.5" r="7.4"/><circle cx="1477.53" cy="756" r="7.4"/><circle cx="1477.51" cy="757.49" r="7.4"/><circle cx="1477.81" cy="758.93" r="7.4"/><circle cx="1478.39" cy="760.32" r="7.4"/><circle cx="1478.78" cy="761.74" r="7.4"/><circle cx="1478.79" cy="763.24" r="7.4"/><circle cx="1478.8" cy="764.74" r="7.4"/><circle cx="1478.81" cy="766.24" r="7.4"/><circle cx="1478.82" cy="767.74" r="7.4"/><circle cx="1478.82" cy="769.24" r="7.4"/><circle cx="1478.83" cy="770.74" r="7.4"/><circle cx="1478.84" cy="772.24" r="7.4"/><circle cx="1478.85" cy="773.74" r="7.4"/><circle cx="1478.86" cy="775.24" r="7.4"/><circle cx="1478.87" cy="776.74" r="7.4"/><circle cx="1478.88" cy="778.24" r="7.4"/><circle cx="1479.67" cy="777.37" r="7.4"/><circle cx="1479.71" cy="775.87" r="7.4"/><circle cx="1479.75" cy="774.37" r="7.4"/><circle cx="1479.78" cy="772.87" r="7.4"/><circle cx="1479.82" cy="771.37" r="7.4"/><circle cx="1479.85" cy="769.87" r="7.4"/><circle cx="1479.89" cy="768.37" r="7.4"/><circle cx="1479.94" cy="766.87" r="7.4"/><circle cx="1479.98" cy="765.37" r="7.4"/><circle cx="1480.02" cy="763.87" r="7.4"/><circle cx="1480.06" cy="762.37" r="7.4"/><circle cx="1480.11" cy="760.87" r="7.4"/><circle cx="1480.15" cy="759.37" r="7.4"/><circle cx="1480.19" cy="757.88" r="7.4"/><circle cx="1480.24" cy="756.38" r="7.4"/><circle cx="1480.29" cy="754.88" r="7.4"/><circle cx="1480.34" cy="753.38" r="7.4"/><circle cx="1480.4" cy="751.88" r="7.4"/><circle cx="1480.45" cy="750.38" r="7.4"/><circle cx="1480.5" cy="748.88" r="7.4"/><circle cx="1480.56" cy="747.38" r="7.4"/><circle cx="1480.61" cy="745.88" r="7.4"/><circle cx="1480.67" cy="744.38" r="7.4"/><circle cx="1480.74" cy="742.89" r="7.4"/><circle cx="1480.81" cy="741.39" r="7.4"/><circle cx="1480.87" cy="739.89" r="7.4"/><circle cx="1480.94" cy="738.39" r="7.4"/><circle cx="1481.01" cy="736.89" r="7.4"/><circle cx="1481.07" cy="735.39" r="7.4"/><circle cx="1481.16" cy="733.9" r="7.4"/><circle cx="1481.25" cy="732.4" r="7.4"/><circle cx="1481.33" cy="730.9" r="7.4"/><circle cx="1481.42" cy="729.4" r="7.4"/><circle cx="1481.51" cy="727.91" r="7.4"/><circle cx="1481.61" cy="726.41" r="7.4"/><circle cx="1481.72" cy="724.91" r="7.4"/><circle cx="1481.84" cy="723.42" r="7.4"/><circle cx="1481.95" cy="721.92" r="7.4"/><circle cx="1482.07" cy="720.43" r="7.4"/><circle cx="1482.22" cy="718.93" r="7.4"/><circle cx="1482.38" cy="717.44" r="7.4"/><circle cx="1482.53" cy="715.95" r="7.4"/><circle cx="1482.71" cy="714.46" r="7.4"/><circle cx="1482.92" cy="712.98" r="7.4"/><circle cx="1483.13" cy="711.49" r="7.4"/><circle cx="1483.39" cy="710.02" r="7.4"/><circle cx="1483.69" cy="708.54" r="7.4"/><circle cx="1484.04" cy="707.09" r="7.4"/><circle cx="1484.45" cy="705.65" r="7.4"/><circle cx="1485.02" cy="704.26" r="7.4"/><circle cx="1485.74" cy="702.95" r="7.4"/><circle cx="1486.74" cy="701.84" r="7.4"/><circle cx="1488.03" cy="701.08" r="7.4"/><circle cx="1488.2" cy="701" r="7.4"/><circle cx="1478.3" cy="778.5" r="7.4"/><circle cx="1478.3" cy="778.5" r="7.4"/><circle cx="1478.3" cy="778.5" r="7.4"/><circle cx="1487.9" cy="702" r="7.4"/><circle cx="1487.9" cy="702" r="7.4"/><circle cx="1487.31" cy="683.37" r="7.4" fill-opacity="0.3"/><circle cx="1489" cy="701" r="7.4"/><circle cx="1488.98" cy="702.5" r="7.4"/><circle cx="1488.96" cy="704" r="7.4"/><circle cx="1488.93" cy="705.5" r="7.4"/><circle cx="1488.91" cy="707" r="7.4"/><circle cx="1488.89" cy="708.5" r="7.4"/><circle cx="1488.87" cy="710" r="7.4"/><circle cx="1488.84" cy="711.5" r="7.4"/><circle cx="1488.82" cy="713" r="7.4"/><circle cx="1488.8" cy="714.5" r="7.4"/><circle cx="1488.78" cy="716" r="7.4"/><circle cx="1488.76" cy="717.5" r="7.4"/><circle cx="1488.73" cy="719" r="7.4"/><circle cx="1488.71" cy="720.5" r="7.4"/><circle cx="1488.69" cy="722" r="7.4"/><circle cx="1488.67" cy="723.5" r="7.4"/><circle cx="1488.64" cy="725" r="7.4"/><circle cx="1488.62" cy="726.5" r="7.4"/><circle cx="1488.6" cy="728" r="7.4"/><circle cx="1488.58" cy="729.5" r="7.4"/><circle cx="1488.55" cy="731" r="7.4"/><circle cx="1488.53" cy="732.5" r="7.4"/><circle cx="1488.51" cy="734" r="7.4"/><circle cx="1488.49" cy="735.5" r="7.4"/><circle cx="1488.47" cy="737" r="7.4"/><circle cx="1488.44" cy="738.5" r="7.4"/><circle cx="1488.42" cy="740" r="7.4"/><circle cx="1488.4" cy="741.5" r="7.4"/><circle cx="1488.38" cy="743" r="7.4"/><circle cx="1488.35" cy="744.5" r="7.4"/><circle cx="1488.33" cy="746" r="7.4"/><circle cx="1488.31" cy="747.49" r="7.4"/><circle cx="1488.61" cy="748.93" r="7.4"/><circle cx="1489.17" cy="750.32" r="7.4"/><circle cx="1489.55" cy="751.75" r="7.4"/><circle cx="1489.56" cy="753.25" r="7.4"/><circle cx="1489.57" cy="754.75" r="7.4"/><circle cx="1489.58" cy="756.25" r="7.4"/><circle cx="1489.59" cy="757.75" r="7.4"/><circle cx="1489.59" cy="759.25" r="7.4"/><circle cx="1489.6" cy="760.75" r="7.4"/><circle cx="1489.61" cy="762.25" r="7.4"/><circle cx="1489.62" cy="763.75" r="7.4"/><circle cx="1489.63" cy="765.25" r="7.4"/><circle cx="1489.63" cy="766.75" r="7.4"/><circle cx="1489.64" cy="768.25" r="7.4"/><circle cx="1489.65" cy="769.75" r="7.4"/><circle cx="1489.66" cy="771.25" r="7.4"/><circle cx="1489.67" cy="772.75" r="7.4"/><circle cx="1489.68" cy="774.25" r="7.4"/><circle cx="1489.68" cy="775.75" r="7.4"/><circle cx="1489.69" cy="777.25" r="7.4"/><circle cx="1490.19" cy="777.85" r="7.4"/><circle cx="1490.22" cy="776.35" r="7.4"/><circle cx="1490.25" cy="774.85" r="7.4"/><circle cx="1490.28" cy="773.36" r="7.4"/><circle cx="1490.31" cy="771.86" r="7.4"/><circle cx="1490.34" cy="770.36" r="7.4"/><circle cx="1490.38" cy="768.86" r="7.4"/><circle cx="1490.41" cy="767.36" r="7.4"/><circle cx="1490.45" cy="765.86" r="7.4"/><circle cx="1490.48" cy="764.36" r="7.4"/><circle cx="1490.52" cy="762.86" r="7.4"/><circle cx="1490.55" cy="761.36" r="7.4"/><circle cx="1490.59" cy="759.86" r="7.4"/><circle cx="1490.62" cy="758.36" r="7.4"/><circle cx="1490.66" cy="756.86" r="7.4"/><circle cx="1490.7" cy="755.36" r="7.4"/><circle cx="1490.74" cy="753.86" r="7.4"/><circle cx="1490.78" cy="752.36" r="7.4"/><circle cx="1490.83" cy="750.86" r="7.4"/><circle cx="1490.87" cy="749.36" r="7.4"/><circle cx="1490.92" cy="747.86" r="7.4"/><circle cx="1490.96" cy="746.36" r="7.4"/><circle cx="1491" cy="744.86" r="7.4"/><circle cx="1491.05" cy="743.37" r="7.4"/><circle cx="1491.1" cy="741.87" r="7.4"/><circle cx="1491.15" cy="740.37" r="7.4"/><circle cx="1491.21" cy="738.87" r="7.4"/><circle cx="1491.26" cy="737.37" r="7.4"/><circle cx="1491.32" cy="735.87" r="7.4"/><circle cx="1491.37" cy="734.37" r="7.4"/><circle cx="1491.43" cy="732.87" r="7.4"/><circle cx="1491.48" cy="731.37" r="7.4"/><circle cx="1491.55" cy="729.87" r="7.4"/><circle cx="1491.62" cy="728.38" r="7.4"/><circle cx="1491.69" cy="726.88" r="7.4"/><circle cx="1491.76" cy="725.38" r="7.4"/><circle cx="1491.83" cy="723.88" r="7.4"/><circle cx="1491.9" cy="722.38" r="7.4"/><circle cx="1491.98" cy="720.88" r="7.4"/><circle cx="1492.07" cy="719.39" r="7.4"/><circle cx="1492.17" cy="717.89" r="7.4"/><circle cx="1492.26" cy="716.39" r="7.4"/><circle cx="1492.36" cy="714.9" r="7.4"/><circle cx="1492.45" cy="713.4" r="7.4"/><circle cx="1492.57" cy="711.9" r="7.4"/><circle cx="1492.7" cy="710.41" r="7.4"/><circle cx="1492.82" cy="708.92" r="7.4"/><circle cx="1492.95" cy="707.42" r="7.4"/><circle cx="1493.1" cy="705.93" r="7.4"/><circle cx="1493.28" cy="704.44" r="7.4"/><circle cx="1493.46" cy="702.95" r="7.4"/><circle cx="1493.64" cy="701.46" r="7.4"/><circle cx="1493.89" cy="699.98" r="7.4"/><circle cx="1494.14" cy="698.5" r="7.4"/><circle cx="1494.45" cy="697.04" r="7.4"/><circle cx="1494.8" cy="695.58" r="7.4"/><circle cx="1495.27" cy="694.16" r="7.4"/><circle cx="1495.86" cy="692.78" r="7.4"/><circle cx="1496.66" cy="691.52" r="7.4"/><circle cx="1497.74" cy="690.5" r="7.4"/><circle cx="1498.7" cy="690" r="7.4"/><circle cx="1489.2" cy="778.5" r="7.4"/><circle cx="1489.2" cy="778.5" r="7.4"/><circle cx="1489.2" cy="778.5" r="7.4"/><circle cx="1498.4" cy="691" r="7.4"/><circle cx="1498.4" cy="691" r="7.4"/><circle cx="1499.28" cy="672.7" r="7.4" fill-opacity="0.3"/><circle cx="1499.5" cy="690" r="7.4"/><circle cx="1499.48" cy="691.5" r="7.4"/><circle cx="1499.46" cy="693" r="7.4"/><circle cx="1499.43" cy="694.5" r="7.4"/><circle cx="1499.41" cy="696" r="7.4"/><circle cx="1499.39" cy="697.5" r="7.4"/><circle cx="1499.37" cy="699" r="7.4"/><circle cx="1499.34" cy="700.5" r="7.4"/><circle cx="1499.32" cy="702" r="7.4"/><circle cx="1499.3" cy="703.5" r="7.4"/><circle cx="1499.28" cy="705" r="7.4"/><circle cx="1499.26" cy="706.5" r="7.4"/><circle cx="1499.23" cy="708" r="7.4"/><circle cx="1499.21" cy="709.5" r="7.4"/><circle cx="1499.19" cy="711" r="7.4"/><circle cx="1499.17" cy="712.5" r="7.4"/><circle cx="1499.15" cy="714" r="7.4"/><circle cx="1499.12" cy="715.5" r="7.4"/><circle cx="1499.1" cy="717" r="7.4"/><circle cx="1499.08" cy="718.5" r="7.4"/><circle cx="1499.06" cy="720" r="7.4"/><circle cx="1499.03" cy="721.5" r="7.4"/><circle cx="1499.01" cy="723" r="7.4"/><circle cx="1498.99" cy="724.5" r="7.4"/><circle cx="1498.97" cy="726" r="7.4"/><circle cx="1498.95" cy="727.5" r="7.4"/><circle cx="1498.92" cy="729" r="7.4"/><circle cx="1498.9" cy="730.5" r="7.4"/><circle cx="1498.88" cy="732" r="7.4"/><circle cx="1498.86" cy="733.5" r="7.4"/><circle cx="1498.84" cy="735" r="7.4"/><circle cx="1498.81" cy="736.49" r="7.4"/><circle cx="1499.03" cy="737.95" r="7.4"/><circle cx="1499.6" cy="739.34" r="7.4"/><circle cx="1500.06" cy="740.75" r="7.4"/><circle cx="1500.07" cy="742.25" r="7.4"/><circle cx="1500.08" cy="743.75" r="7.4"/><circle cx="1500.09" cy="745.25" r="7.4"/><circle cx="1500.09" cy="746.75" r="7.4"/><circle cx="1500.1" cy="748.25" r="7.4"/><circle cx="1500.11" cy="749.75" r="7.4"/><circle cx="1500.12" cy="751.25" r="7.4"/><circle cx="1500.13" cy="752.75" r="7.4"/><circle cx="1500.14" cy="754.25" r="7.4"/><circle cx="1500.14" cy="755.75" r="7.4"/><circle cx="1500.15" cy="757.25" r="7.4"/><circle cx="1500.16" cy="758.75" r="7.4"/><circle cx="1500.17" cy="760.25" r="7.4"/><circle cx="1500.18" cy="761.75" r="7.4"/><circle cx="1500.19" cy="763.25" r="7.4"/><circle cx="1500.19" cy="764.75" r="7.4"/><circle cx="1500.2" cy="766.25" r="7.4"/><circle cx="1500.21" cy="767.75" r="7.4"/><circle cx="1500.22" cy="769.25" r="7.4"/><circle cx="1500.23" cy="770.75" r="7.4"/><circle cx="1500.23" cy="772.25" r="7.4"/><circle cx="1500.24" cy="773.75" r="7.4"/><circle cx="1500.25" cy="775.25" r="7.4"/><circle cx="1500.26" cy="776.75" r="7.4"/><circle cx="1500.27" cy="778.25" r="7.4"/><circle cx="1500.5" cy="778.16" r="7.4"/><circle cx="1500.53" cy="776.66" r="7.4"/><circle cx="1500.55" cy="775.16" r="7.4"/><circle cx="1500.58" cy="773.66" r="7.4"/><circle cx="1500.61" cy="772.16" r="7.4"/><circle cx="1500.63" cy="770.66" r="7.4"/><circle cx="1500.66" cy="769.16" r="7.4"/><circle cx="1500.69" cy="767.66" r="7.4"/><circle cx="1500.72" cy="766.16" r="7.4"/><circle cx="1500.75" cy="764.66" r="7.4"/><circle cx="1500.78" cy="763.16" r="7.4"/><circle cx="1500.81" cy="761.66" r="7.4"/><circle cx="1500.84" cy="760.16" r="7.4"/><circle cx="1500.87" cy="758.66" r="7.4"/><circle cx="1500.91" cy="757.16" r="7.4"/><circle cx="1500.94" cy="755.66" r="7.4"/><circle cx="1500.98" cy="754.16" r="7.4"/><circle cx="1501.01" cy="752.66" r="7.4"/><circle cx="1501.05" cy="751.16" r="7.4"/><circle cx="1501.08" cy="749.66" r="7.4"/><circle cx="1501.12" cy="748.16" r="7.4"/><circle cx="1501.16" cy="746.66" r="7.4"/><circle cx="1501.19" cy="745.16" r="7.4"/><circle cx="1501.23" cy="743.66" r="7.4"/><circle cx="1501.27" cy="742.16" r="7.4"/><circle cx="1501.32" cy="740.66" r="7.4"/><circle cx="1501.36" cy="739.16" r="7.4"/><circle cx="1501.4" cy="737.67" r="7.4"/><circle cx="1501.45" cy="736.17" r="7.4"/><circle cx="1501.49" cy="734.67" r="7.4"/><circle cx="1501.53" cy="733.17" r="7.4"/><circle cx="1501.58" cy="731.67" r="7.4"/><circle cx="1501.63" cy="730.17" r="7.4"/><circle cx="1501.68" cy="728.67" r="7.4"/><circle cx="1501.74" cy="727.17" r="7.4"/><circle cx="1501.79" cy="725.67" r="7.4"/><circle cx="1501.85" cy="724.17" r="7.4"/><circle cx="1501.9" cy="722.67" r="7.4"/><circle cx="1501.95" cy="721.17" r="7.4"/><circle cx="1502.01" cy="719.68" r="7.4"/><circle cx="1502.08" cy="718.18" r="7.4"/><circle cx="1502.15" cy="716.68" r="7.4"/><circle cx="1502.22" cy="715.18" r="7.4"/><circle cx="1502.29" cy="713.68" r="7.4"/><circle cx="1502.36" cy="712.18" r="7.4"/><circle cx="1502.43" cy="710.69" r="7.4"/><circle cx="1502.5" cy="709.19" r="7.4"/><circle cx="1502.59" cy="707.69" r="7.4"/><circle cx="1502.69" cy="706.19" r="7.4"/><circle cx="1502.78" cy="704.7" r="7.4"/><circle cx="1502.88" cy="703.2" r="7.4"/><circle cx="1502.97" cy="701.7" r="7.4"/><circle cx="1503.08" cy="700.21" r="7.4"/><circle cx="1503.21" cy="698.71" r="7.4"/><circle cx="1503.33" cy="697.22" r="7.4"/><circle cx="1503.46" cy="695.72" r="7.4"/><circle cx="1503.59" cy="694.23" r="7.4"/><circle cx="1503.77" cy="692.74" r="7.4"/><circle cx="1503.95" cy="691.25" r="7.4"/><circle cx="1504.12" cy="689.76" r="7.4"/><circle cx="1504.35" cy="688.28" r="7.4"/><circle cx="1504.6" cy="686.8" r="7.4"/><circle cx="1504.87" cy="685.32" r="7.4"/><circle cx="1505.22" cy="683.87" r="7.4"/><circle cx="1505.62" cy="682.42" r="7.4"/><circle cx="1506.13" cy="681.01" r="7.4"/><circle cx="1506.83" cy="679.68" r="7.4"/><circle cx="1507.78" cy="678.53" r="7.4"/><circle cx="1509.04" cy="677.73" r="7.4"/><circle cx="1509.3" cy="677.6" r="7.4"/><circle cx="1499.8" cy="778.5" r="7.4"/><circle cx="1499.8" cy="778.5" r="7.4"/><circle cx="1499.8" cy="778.5" r="7.4"/><circle cx="1509" cy="678.6" r="7.4"/><circle cx="1509" cy="678.6" r="7.4"/><circle cx="1509.16" cy="668" r="7.4" fill-opacity="0.3"/><circle cx="1509.75" cy="662.72" r="7.4" fill-opacity="0.3"/><circle cx="1510.1" cy="677.6" r="7.4"/><circle cx="1510.08" cy="679.1" r="7.4"/><circle cx="1510.06" cy="680.6" r="7.4"/><circle cx="1510.04" cy="682.1" r="7.4"/><circle cx="1510.01" cy="683.6" r="7.4"/><circle cx="1509.99" cy="685.1" r="7.4"/><circle cx="1509.97" cy="686.6" r="7.4"/><circle cx="1509.95" cy="688.1" r="7.4"/><circle cx="1509.93" cy="689.6" r="7.4"/><circle cx="1509.91" cy="691.1" r="7.4"/><circle cx="1509.89" cy="692.6" r="7.4"/><circle cx="1509.87" cy="694.1" r="7.4"/><circle cx="1509.84" cy="695.6" r="7.4"/><circle cx="1509.82" cy="697.1" r="7.4"/><circle cx="1509.8" cy="698.6" r="7.4"/><circle cx="1509.78" cy="700.1" r="7.4"/><circle cx="1509.76" cy="701.6" r="7.4"/><circle cx="1509.74" cy="703.1" r="7.4"/><circle cx="1509.72" cy="704.6" r="7.4"/><circle cx="1509.69" cy="706.1" r="7.4"/><circle cx="1509.67" cy="707.6" r="7.4"/><circle cx="1509.65" cy="709.1" r="7.4"/><circle cx="1509.63" cy="710.6" r="7.4"/><circle cx="1509.61" cy="712.1" r="7.4"/><circle cx="1509.59" cy="713.6" r="7.4"/><circle cx="1509.57" cy="715.1" r="7.4"/><circle cx="1509.54" cy="716.6" r="7.4"/><circle cx="1509.52" cy="718.1" r="7.4"/><circle cx="1509.5" cy="719.6" r="7.4"/><circle cx="1509.48" cy="721.1" r="7.4"/><circle cx="1509.46" cy="722.6" r="7.4"/><circle cx="1509.44" cy="724.1" r="7.4"/><circle cx="1509.42" cy="725.6" r="7.4"/><circle cx="1509.52" cy="727.07" r="7.4"/><circle cx="1510.07" cy="728.47" r="7.4"/><circle cx="1510.61" cy="729.87" r="7.4"/><circle cx="1510.65" cy="731.36" r="7.4"/><circle cx="1510.66" cy="732.86" r="7.4"/><circle cx="1510.66" cy="734.36" r="7.4"/><circle cx="1510.67" cy="735.86" r="7.4"/><circle cx="1510.68" cy="737.36" r="7.4"/><circle cx="1510.69" cy="738.86" r="7.4"/><circle cx="1510.69" cy="740.36" r="7.4"/><circle cx="1510.7" cy="741.86" r="7.4"/><circle cx="1510.71" cy="743.36" r="7.4"/><circle cx="1510.72" cy="744.86" r="7.4"/><circle cx="1510.73" cy="746.36" r="7.4"/><circle cx="1510.73" cy="747.86" r="7.4"/><circle cx="1510.74" cy="749.36" r="7.4"/><circle cx="1510.75" cy="750.86" r="7.4"/><circle cx="1510.76" cy="752.36" r="7.4"/><circle cx="1510.76" cy="753.86" r="7.4"/><circle cx="1510.77" cy="755.36" r="7.4"/><circle cx="1510.78" cy="756.86" r="7.4"/><circle cx="1510.79" cy="758.36" r="7.4"/><circle cx="1510.8" cy="759.86" r="7.4"/><circle cx="1510.8" cy="761.36" r="7.4"/><circle cx="1510.81" cy="762.86" r="7.4"/><circle cx="1510.82" cy="764.36" r="7.4"/><circle cx="1510.83" cy="765.86" r="7.4"/><circle cx="1510.83" cy="767.36" r="7.4"/><circle cx="1510.84" cy="768.86" r="7.4"/><circle cx="1510.85" cy="770.36" r="7.4"/><circle cx="1510.86" cy="771.86" r="7.4"/><circle cx="1510.87" cy="773.36" r="7.4"/><circle cx="1510.87" cy="774.86" r="7.4"/><circle cx="1510.88" cy="776.36" r="7.4"/><circle cx="1510.95" cy="776.14" r="7.4"/><circle cx="1510.98" cy="774.64" r="7.4"/><circle cx="1511" cy="773.14" r="7.4"/><circle cx="1511.02" cy="771.64" r="7.4"/><circle cx="1511.04" cy="770.14" r="7.4"/><circle cx="1511.07" cy="768.64" r="7.4"/><circle cx="1511.09" cy="767.14" r="7.4"/><circle cx="1511.11" cy="765.64" r="7.4"/><circle cx="1511.14" cy="764.14" r="7.4"/><circle cx="1511.16" cy="762.64" r="7.4"/><circle cx="1511.18" cy="761.14" r="7.4"/><circle cx="1511.21" cy="759.64" r="7.4"/><circle cx="1511.24" cy="758.14" r="7.4"/><circle cx="1511.26" cy="756.64" r="7.4"/><circle cx="1511.29" cy="755.14" r="7.4"/><circle cx="1511.31" cy="753.64" r="7.4"/><circle cx="1511.34" cy="752.14" r="7.4"/><circle cx="1511.37" cy="750.64" r="7.4"/><circle cx="1511.39" cy="749.14" r="7.4"/><circle cx="1511.42" cy="747.64" r="7.4"/><circle cx="1511.45" cy="746.14" r="7.4"/><circle cx="1511.48" cy="744.64" r="7.4"/><circle cx="1511.51" cy="743.14" r="7.4"/><circle cx="1511.54" cy="741.64" r="7.4"/><circle cx="1511.57" cy="740.14" r="7.4"/><circle cx="1511.6" cy="738.64" r="7.4"/><circle cx="1511.63" cy="737.14" r="7.4"/><circle cx="1511.67" cy="735.64" r="7.4"/><circle cx="1511.7" cy="734.14" r="7.4"/><circle cx="1511.73" cy="732.65" r="7.4"/><circle cx="1511.76" cy="731.15" r="7.4"/><circle cx="1511.8" cy="729.65" r="7.4"/><circle cx="1511.84" cy="728.15" r="7.4"/><circle cx="1511.88" cy="726.65" r="7.4"/><circle cx="1511.91" cy="725.15" r="7.4"/><circle cx="1511.95" cy="723.65" r="7.4"/><circle cx="1511.99" cy="722.15" r="7.4"/><circle cx="1512.03" cy="720.65" r="7.4"/><circle cx="1512.07" cy="719.15" r="7.4"/><circle cx="1512.1" cy="717.65" r="7.4"/><circle cx="1512.15" cy="716.15" r="7.4"/><circle cx="1512.2" cy="714.65" r="7.4"/><circle cx="1512.25" cy="713.15" r="7.4"/><circle cx="1512.29" cy="711.65" r="7.4"/><circle cx="1512.34" cy="710.15" r="7.4"/><circle cx="1512.39" cy="708.65" r="7.4"/><circle cx="1512.44" cy="707.16" r="7.4"/><circle cx="1512.49" cy="705.66" r="7.4"/><circle cx="1512.54" cy="704.16" r="7.4"/><circle cx="1512.6" cy="702.66" r="7.4"/><circle cx="1512.66" cy="701.16" r="7.4"/><circle cx="1512.72" cy="699.66" r="7.4"/><circle cx="1512.79" cy="698.16" r="7.4"/><circle cx="1512.85" cy="696.66" r="7.4"/><circle cx="1512.91" cy="695.16" r="7.4"/><circle cx="1512.97" cy="693.67" r="7.4"/><circle cx="1513.05" cy="692.17" r="7.4"/><circle cx="1513.14" cy="690.67" r="7.4"/><circle cx="1513.22" cy="689.17" r="7.4"/><circle cx="1513.3" cy="687.67" r="7.4"/><circle cx="1513.38" cy="686.18" r="7.4"/><circle cx="1513.46" cy="684.68" r="7.4"/><circle cx="1513.57" cy="683.18" r="7.4"/><circle cx="1513.68" cy="681.69" r="7.4"/><circle cx="1513.8" cy="680.19" r="7.4"/><circle cx="1513.91" cy="678.7" r="7.4"/><circle cx="1514.02" cy="677.2" r="7.4"/><circle cx="1514.18" cy="675.71" r="7.4"/><circle cx="1514.33" cy="674.22" r="7.4"/><circle cx="1514.49" cy="672.72" r="7.4"/><circle cx="1514.67" cy="671.24" r="7.4"/><circle cx="1514.89" cy="669.75" r="7.4"/><circle cx="1515.11" cy="668.27" r="7.4"/><circle cx="1515.39" cy="666.79" r="7.4"/><circle cx="1515.7" cy="665.33" r="7.4"/><circle cx="1516.09" cy="663.88" r="7.4"/><circle cx="1516.56" cy="662.46" r="7.4"/><circle cx="1517.21" cy="661.11" r="7.4"/><circle cx="1518.14" cy="659.93" r="7.4"/><circle cx="1519.36" cy="659.08" r="7.4"/><circle cx="1519.5" cy="659" r="7.4"/><circle cx="1510.5" cy="776.5" r="7.4"/><circle cx="1510.5" cy="776.5" r="7.4"/><circle cx="1510.5" cy="776.5" r="7.4"/><circle cx="1519.2" cy="660" r="7.4"/><circle cx="1519.2" cy="660" r="7.4"/><circle cx="1520.99" cy="651.43" r="7.4" fill-opacity="0.3"/><circle cx="1520.3" cy="659" r="7.4"/><circle cx="1520.28" cy="660.5" r="7.4"/><circle cx="1520.26" cy="662" r="7.4"/><circle cx="1520.24" cy="663.5" r="7.4"/><circle cx="1520.22" cy="665" r="7.4"/><circle cx="1520.2" cy="666.5" r="7.4"/><circle cx="1520.18" cy="668" r="7.4"/><circle cx="1520.16" cy="669.5" r="7.4"/><circle cx="1520.14" cy="671" r="7.4"/><circle cx="1520.12" cy="672.5" r="7.4"/><circle cx="1520.1" cy="674" r="7.4"/><circle cx="1520.07" cy="675.5" r="7.4"/><circle cx="1520.05" cy="677" r="7.4"/><circle cx="1520.03" cy="678.5" r="7.4"/><circle cx="1520.01" cy="680" r="7.4"/><circle cx="1519.99" cy="681.5" r="7.4"/><circle cx="1519.97" cy="683" r="7.4"/><circle cx="1519.95" cy="684.5" r="7.4"/><circle cx="1519.93" cy="686" r="7.4"/><circle cx="1519.91" cy="687.5" r="7.4"/><circle cx="1519.89" cy="689" r="7.4"/><circle cx="1519.87" cy="690.5" r="7.4"/><circle cx="1519.85" cy="692" r="7.4"/><circle cx="1519.83" cy="693.5" r="7.4"/><circle cx="1519.81" cy="695" r="7.4"/><circle cx="1519.79" cy="696.5" r="7.4"/><circle cx="1519.77" cy="698" r="7.4"/><circle cx="1519.75" cy="699.5" r="7.4"/><circle cx="1519.73" cy="701" r="7.4"/><circle cx="1519.71" cy="702.5" r="7.4"/><circle cx="1519.69" cy="704" r="7.4"/><circle cx="1519.66" cy="705.5" r="7.4"/><circle cx="1519.64" cy="707" r="7.4"/><circle cx="1519.62" cy="708.5" r="7.4"/><circle cx="1519.6" cy="710" r="7.4"/><circle cx="1520.06" cy="711.41" r="7.4"/><circle cx="1520.6" cy="712.81" r="7.4"/><circle cx="1520.88" cy="714.26" r="7.4"/><circle cx="1520.89" cy="715.76" r="7.4"/><circle cx="1520.9" cy="717.26" r="7.4"/><circle cx="1520.91" cy="718.76" r="7.4"/><circle cx="1520.91" cy="720.26" r="7.4"/><circle cx="1520.92" cy="721.76" r="7.4"/><circle cx="1520.93" cy="723.26" r="7.4"/><circle cx="1520.94" cy="724.76" r="7.4"/><circle cx="1520.95" cy="726.26" r="7.4"/><circle cx="1520.95" cy="727.76" r="7.4"/><circle cx="1520.96" cy="729.26" r="7.4"/><circle cx="1520.97" cy="730.76" r="7.4"/><circle cx="1520.98" cy="732.26" r="7.4"/><circle cx="1520.98" cy="733.76" r="7.4"/><circle cx="1520.99" cy="735.26" r="7.4"/><circle cx="1521" cy="736.76" r="7.4"/><circle cx="1521.01" cy="738.26" r="7.4"/><circle cx="1521.02" cy="739.76" r="7.4"/><circle cx="1521.02" cy="741.26" r="7.4"/><circle cx="1521.03" cy="742.76" r="7.4"/><circle cx="1521.04" cy="744.26" r="7.4"/><circle cx="1521.05" cy="745.76" r="7.4"/><circle cx="1521.05" cy="747.26" r="7.4"/><circle cx="1521.06" cy="748.76" r="7.4"/><circle cx="1521.07" cy="750.26" r="7.4"/><circle cx="1521.08" cy="751.76" r="7.4"/><circle cx="1521.09" cy="753.26" r="7.4"/><circle cx="1521.09" cy="754.76" r="7.4"/><circle cx="1521.1" cy="756.26" r="7.4"/><circle cx="1521.11" cy="757.76" r="7.4"/><circle cx="1521.12" cy="759.26" r="7.4"/><circle cx="1521.12" cy="760.76" r="7.4"/><circle cx="1521.21" cy="761.64" r="7.4"/><circle cx="1521.23" cy="760.14" r="7.4"/><circle cx="1521.25" cy="758.64" r="7.4"/><circle cx="1521.27" cy="757.14" r="7.4"/><circle cx="1521.3" cy="755.64" r="7.4"/><circle cx="1521.32" cy="754.14" r="7.4"/><circle cx="1521.34" cy="752.64" r="7.4"/><circle cx="1521.36" cy="751.14" r="7.4"/><circle cx="1521.39" cy="749.64" r="7.4"/><circle cx="1521.41" cy="748.14" r="7.4"/><circle cx="1521.43" cy="746.65" r="7.4"/><circle cx="1521.46" cy="745.15" r="7.4"/><circle cx="1521.48" cy="743.65" r="7.4"/><circle cx="1521.51" cy="742.15" r="7.4"/><circle cx="1521.53" cy="740.65" r="7.4"/><circle cx="1521.56" cy="739.15" r="7.4"/><circle cx="1521.59" cy="737.65" r="7.4"/><circle cx="1521.61" cy="736.15" r="7.4"/><circle cx="1521.64" cy="734.65" r="7.4"/><circle cx="1521.66" cy="733.15" r="7.4"/><circle cx="1521.69" cy="731.65" r="7.4"/><circle cx="1521.72" cy="730.15" r="7.4"/><circle cx="1521.75" cy="728.65" r="7.4"/><circle cx="1521.78" cy="727.15" r="7.4"/><circle cx="1521.81" cy="725.65" r="7.4"/><circle cx="1521.84" cy="724.15" r="7.4"/><circle cx="1521.87" cy="722.65" r="7.4"/><circle cx="1521.9" cy="721.15" r="7.4"/><circle cx="1521.93" cy="719.65" r="7.4"/><circle cx="1521.96" cy="718.15" r="7.4"/><circle cx="1521.99" cy="716.65" r="7.4"/><circle cx="1522.03" cy="715.15" r="7.4"/><circle cx="1522.06" cy="713.65" r="7.4"/><circle cx="1522.1" cy="712.15" r="7.4"/><circle cx="1522.14" cy="710.65" r="7.4"/><circle cx="1522.17" cy="709.15" r="7.4"/><circle cx="1522.21" cy="707.65" r="7.4"/><circle cx="1522.24" cy="706.15" r="7.4"/><circle cx="1522.28" cy="704.65" r="7.4"/><circle cx="1522.32" cy="703.15" r="7.4"/><circle cx="1522.36" cy="701.65" r="7.4"/><circle cx="1522.4" cy="700.16" r="7.4"/><circle cx="1522.45" cy="698.66" r="7.4"/><circle cx="1522.49" cy="697.16" r="7.4"/><circle cx="1522.53" cy="695.66" r="7.4"/><circle cx="1522.58" cy="694.16" r="7.4"/><circle cx="1522.62" cy="692.66" r="7.4"/><circle cx="1522.67" cy="691.16" r="7.4"/><circle cx="1522.71" cy="689.66" r="7.4"/><circle cx="1522.76" cy="688.16" r="7.4"/><circle cx="1522.82" cy="686.66" r="7.4"/><circle cx="1522.88" cy="685.16" r="7.4"/><circle cx="1522.93" cy="683.66" r="7.4"/><circle cx="1522.99" cy="682.17" r="7.4"/><circle cx="1523.04" cy="680.67" r="7.4"/><circle cx="1523.1" cy="679.17" r="7.4"/><circle cx="1523.16" cy="677.67" r="7.4"/><circle cx="1523.22" cy="676.17" r="7.4"/><circle cx="1523.3" cy="674.67" r="7.4"/><circle cx="1523.37" cy="673.17" r="7.4"/><circle cx="1523.44" cy="671.68" r="7.4"/><circle cx="1523.51" cy="670.18" r="7.4"/><circle cx="1523.59" cy="668.68" r="7.4"/><circle cx="1523.66" cy="667.18" r="7.4"/><circle cx="1523.76" cy="665.68" r="7.4"/><circle cx="1523.85" cy="664.19" r="7.4"/><circle cx="1523.95" cy="662.69" r="7.4"/><circle cx="1524.04" cy="661.19" r="7.4"/><circle cx="1524.14" cy="659.7" r="7.4"/><circle cx="1524.26" cy="658.2" r="7.4"/><circle cx="1524.39" cy="656.71" r="7.4"/><circle cx="1524.52" cy="655.21" r="7.4"/><circle cx="1524.65" cy="653.72" r="7.4"/><circle cx="1524.8" cy="652.23" r="7.4"/><circle cx="1524.97" cy="650.74" r="7.4"/><circle cx="1525.15" cy="649.25" r="7.4"/><circle cx="1525.33" cy="647.76" r="7.4"/><circle cx="1525.58" cy="646.28" r="7.4"/><circle cx="1525.83" cy="644.8" r="7.4"/><circle cx="1526.13" cy="643.33" r="7.4"/><circle cx="1526.48" cy="641.87" r="7.4"/><circle cx="1526.93" cy="640.44" r="7.4"/><circle cx="1527.48" cy="639.05" r="7.4"/><circle cx="1528.22" cy="637.75" r="7.4"/><circle cx="1529.24" cy="636.66" r="7.4"/><circle cx="1530.3" cy="636" r="7.4"/><circle cx="1520.8" cy="762.2" r="7.4"/><circle cx="1520.8" cy="762.2" r="7.4"/><circle cx="1520.8" cy="762.2" r="7.4"/><circle cx="1530" cy="637" r="7.4"/><circle cx="1530" cy="637" r="7.4"/><circle cx="1529.49" cy="628.44" r="7.4" fill-opacity="0.3"/><circle cx="1531.1" cy="636" r="7.4"/><circle cx="1531.08" cy="637.5" r="7.4"/><circle cx="1531.06" cy="639" r="7.4"/><circle cx="1531.04" cy="640.5" r="7.4"/><circle cx="1531.02" cy="642" r="7.4"/><circle cx="1531" cy="643.5" r="7.4"/><circle cx="1530.98" cy="645" r="7.4"/><circle cx="1530.97" cy="646.5" r="7.4"/><circle cx="1530.95" cy="648" r="7.4"/><circle cx="1530.93" cy="649.5" r="7.4"/><circle cx="1530.91" cy="651" r="7.4"/><circle cx="1530.89" cy="652.5" r="7.4"/><circle cx="1530.87" cy="654" r="7.4"/><circle cx="1530.85" cy="655.5" r="7.4"/><circle cx="1530.83" cy="657" r="7.4"/><circle cx="1530.81" cy="658.5" r="7.4"/><circle cx="1530.79" cy="660" r="7.4"/><circle cx="1530.77" cy="661.5" r="7.4"/><circle cx="1530.75" cy="663" r="7.4"/><circle cx="1530.73" cy="664.5" r="7.4"/><circle cx="1530.72" cy="666" r="7.4"/><circle cx="1530.7" cy="667.5" r="7.4"/><circle cx="1530.68" cy="669" r="7.4"/><circle cx="1530.66" cy="670.5" r="7.4"/><circle cx="1530.64" cy="672" r="7.4"/><circle cx="1530.62" cy="673.5" r="7.4"/><circle cx="1530.6" cy="675" r="7.4"/><circle cx="1530.58" cy="676.5" r="7.4"/><circle cx="1530.56" cy="678" r="7.4"/><circle cx="1530.54" cy="679.5" r="7.4"/><circle cx="1530.52" cy="681" r="7.4"/><circle cx="1530.5" cy="682.5" r="7.4"/><circle cx="1530.48" cy="684" r="7.4"/><circle cx="1530.47" cy="685.5" r="7.4"/><circle cx="1530.45" cy="687" r="7.4"/><circle cx="1530.43" cy="688.5" r="7.4"/><circle cx="1530.41" cy="690" r="7.4"/><circle cx="1530.7" cy="691.44" r="7.4"/><circle cx="1531.2" cy="692.86" r="7.4"/><circle cx="1531.64" cy="694.29" r="7.4"/><circle cx="1531.65" cy="695.79" r="7.4"/><circle cx="1531.65" cy="697.29" r="7.4"/><circle cx="1531.66" cy="698.78" r="7.4"/><circle cx="1531.67" cy="700.28" r="7.4"/><circle cx="1531.68" cy="701.78" r="7.4"/><circle cx="1531.68" cy="703.28" r="7.4"/><circle cx="1531.69" cy="704.78" r="7.4"/><circle cx="1531.7" cy="706.28" r="7.4"/><circle cx="1531.7" cy="707.78" r="7.4"/><circle cx="1531.71" cy="709.28" r="7.4"/><circle cx="1531.72" cy="710.78" r="7.4"/><circle cx="1531.72" cy="712.28" r="7.4"/><circle cx="1531.73" cy="713.78" r="7.4"/><circle cx="1531.74" cy="715.28" r="7.4"/><circle cx="1531.75" cy="716.78" r="7.4"/><circle cx="1531.75" cy="718.28" r="7.4"/><circle cx="1531.76" cy="719.78" r="7.4"/><circle cx="1531.77" cy="721.28" r="7.4"/><circle cx="1531.77" cy="722.78" r="7.4"/><circle cx="1531.78" cy="724.28" r="7.4"/><circle cx="1531.79" cy="725.78" r="7.4"/><circle cx="1531.8" cy="727.28" r="7.4"/><circle cx="1531.8" cy="728.78" r="7.4"/><circle cx="1531.81" cy="730.28" r="7.4"/><circle cx="1531.82" cy="731.78" r="7.4"/><circle cx="1531.82" cy="733.28" r="7.4"/><circle cx="1531.83" cy="734.78" r="7.4"/><circle cx="1531.84" cy="736.28" r="7.4"/><circle cx="1531.84" cy="737.78" r="7.4"/><circle cx="1531.85" cy="739.28" r="7.4"/><circle cx="1531.86" cy="740.78" r="7.4"/><circle cx="1531.87" cy="742.28" r="7.4"/><circle cx="1531.87" cy="743.78" r="7.4"/><circle cx="1531.88" cy="745.28" r="7.4"/><circle cx="1531.96" cy="745.12" r="7.4"/><circle cx="1531.98" cy="743.62" r="7.4"/><circle cx="1532" cy="742.12" r="7.4"/><circle cx="1532.02" cy="740.62" r="7.4"/><circle cx="1532.04" cy="739.12" r="7.4"/><circle cx="1532.06" cy="737.62" r="7.4"/><circle cx="1532.08" cy="736.12" r="7.4"/><circle cx="1532.1" cy="734.62" r="7.4"/><circle cx="1532.12" cy="733.12" r="7.4"/><circle cx="1532.14" cy="731.62" r="7.4"/><circle cx="1532.16" cy="730.12" r="7.4"/><circle cx="1532.18" cy="728.62" r="7.4"/><circle cx="1532.2" cy="727.12" r="7.4"/><circle cx="1532.23" cy="725.62" r="7.4"/><circle cx="1532.25" cy="724.12" r="7.4"/><circle cx="1532.27" cy="722.62" r="7.4"/><circle cx="1532.29" cy="721.12" r="7.4"/><circle cx="1532.32" cy="719.62" r="7.4"/><circle cx="1532.34" cy="718.12" r="7.4"/><circle cx="1532.36" cy="716.62" r="7.4"/><circle cx="1532.39" cy="715.12" r="7.4"/><circle cx="1532.41" cy="713.62" r="7.4"/><circle cx="1532.43" cy="712.12" r="7.4"/><circle cx="1532.46" cy="710.62" r="7.4"/><circle cx="1532.49" cy="709.12" r="7.4"/><circle cx="1532.52" cy="707.62" r="7.4"/><circle cx="1532.54" cy="706.12" r="7.4"/><circle cx="1532.57" cy="704.62" r="7.4"/><circle cx="1532.6" cy="703.12" r="7.4"/><circle cx="1532.63" cy="701.62" r="7.4"/><circle cx="1532.65" cy="700.12" r="7.4"/><circle cx="1532.68" cy="698.62" r="7.4"/><circle cx="1532.71" cy="697.12" r="7.4"/><circle cx="1532.74" cy="695.62" r="7.4"/><circle cx="1532.77" cy="694.12" r="7.4"/><circle cx="1532.8" cy="692.62" r="7.4"/><circle cx="1532.83" cy="691.12" r="7.4"/><circle cx="1532.87" cy="689.62" r="7.4"/><circle cx="1532.9" cy="688.12" r="7.4"/><circle cx="1532.93" cy="686.62" r="7.4"/><circle cx="1532.97" cy="685.12" r="7.4"/><circle cx="1533" cy="683.63" r="7.4"/><circle cx="1533.04" cy="682.13" r="7.4"/><circle cx="1533.07" cy="680.63" r="7.4"/><circle cx="1533.1" cy="679.13" r="7.4"/><circle cx="1533.14" cy="677.63" r="7.4"/><circle cx="1533.18" cy="676.13" r="7.4"/><circle cx="1533.22" cy="674.63" r="7.4"/><circle cx="1533.27" cy="673.13" r="7.4"/><circle cx="1533.31" cy="671.63" r="7.4"/><circle cx="1533.35" cy="670.13" r="7.4"/><circle cx="1533.39" cy="668.63" r="7.4"/><circle cx="1533.44" cy="667.13" r="7.4"/><circle cx="1533.48" cy="665.63" r="7.4"/><circle cx="1533.52" cy="664.13" r="7.4"/><circle cx="1533.57" cy="662.63" r="7.4"/><circle cx="1533.63" cy="661.13" r="7.4"/><circle cx="1533.68" cy="659.63" r="7.4"/><circle cx="1533.74" cy="658.14" r="7.4"/><circle cx="1533.79" cy="656.64" r="7.4"/><circle cx="1533.85" cy="655.14" r="7.4"/><circle cx="1533.9" cy="653.64" r="7.4"/><circle cx="1533.96" cy="652.14" r="7.4"/><circle cx="1534.01" cy="650.64" r="7.4"/><circle cx="1534.09" cy="649.14" r="7.4"/><circle cx="1534.16" cy="647.64" r="7.4"/><circle cx="1534.23" cy="646.15" r="7.4"/><circle cx="1534.3" cy="644.65" r="7.4"/><circle cx="1534.38" cy="643.15" r="7.4"/><circle cx="1534.45" cy="641.65" r="7.4"/><circle cx="1534.53" cy="640.15" r="7.4"/><circle cx="1534.63" cy="638.66" r="7.4"/><circle cx="1534.73" cy="637.16" r="7.4"/><circle cx="1534.83" cy="635.66" r="7.4"/><circle cx="1534.93" cy="634.17" r="7.4"/><circle cx="1535.02" cy="632.67" r="7.4"/><circle cx="1535.15" cy="631.18" r="7.4"/><circle cx="1535.29" cy="629.68" r="7.4"/><circle cx="1535.43" cy="628.19" r="7.4"/><circle cx="1535.57" cy="626.69" r="7.4"/><circle cx="1535.74" cy="625.2" r="7.4"/><circle cx="1535.93" cy="623.72" r="7.4"/><circle cx="1536.12" cy="622.23" r="7.4"/><circle cx="1536.35" cy="620.75" r="7.4"/><circle cx="1536.63" cy="619.27" r="7.4"/><circle cx="1536.92" cy="617.8" r="7.4"/><circle cx="1537.33" cy="616.36" r="7.4"/><circle cx="1537.8" cy="614.94" r="7.4"/><circle cx="1538.43" cy="613.58" r="7.4"/><circle cx="1539.31" cy="612.38" r="7.4"/><circle cx="1540.49" cy="611.47" r="7.4"/><circle cx="1540.6" cy="611.4" r="7.4"/><circle cx="1531.7" cy="746.2" r="7.4"/><circle cx="1531.7" cy="746.2" r="7.4"/><circle cx="1531.7" cy="746.2" r="7.4"/><circle cx="1540.3" cy="612.4" r="7.4"/><circle cx="1540.3" cy="612.4" r="7.4"/><circle cx="1541.4" cy="611.4" r="7.4"/><circle cx="1541.38" cy="612.9" r="7.4"/><circle cx="1541.36" cy="614.4" r="7.4"/><circle cx="1541.34" cy="615.9" r="7.4"/><circle cx="1541.33" cy="617.4" r="7.4"/><circle cx="1541.31" cy="618.9" r="7.4"/><circle cx="1541.29" cy="620.4" r="7.4"/><circle cx="1541.27" cy="621.9" r="7.4"/><circle cx="1541.25" cy="623.4" r="7.4"/><circle cx="1541.23" cy="624.9" r="7.4"/><circle cx="1541.22" cy="626.4" r="7.4"/><circle cx="1541.2" cy="627.9" r="7.4"/><circle cx="1541.18" cy="629.4" r="7.4"/><circle cx="1541.16" cy="630.9" r="7.4"/><circle cx="1541.14" cy="632.4" r="7.4"/><circle cx="1541.12" cy="633.9" r="7.4"/><circle cx="1541.1" cy="635.4" r="7.4"/><circle cx="1541.09" cy="636.9" r="7.4"/><circle cx="1541.07" cy="638.4" r="7.4"/><circle cx="1541.05" cy="639.9" r="7.4"/><circle cx="1541.03" cy="641.4" r="7.4"/><circle cx="1541.01" cy="642.9" r="7.4"/><circle cx="1540.99" cy="644.4" r="7.4"/><circle cx="1540.97" cy="645.9" r="7.4"/><circle cx="1540.96" cy="647.4" r="7.4"/><circle cx="1540.94" cy="648.9" r="7.4"/><circle cx="1540.92" cy="650.4" r="7.4"/><circle cx="1540.9" cy="651.9" r="7.4"/><circle cx="1540.88" cy="653.4" r="7.4"/><circle cx="1540.86" cy="654.9" r="7.4"/><circle cx="1540.85" cy="656.4" r="7.4"/><circle cx="1540.83" cy="657.9" r="7.4"/><circle cx="1540.81" cy="659.4" r="7.4"/><circle cx="1540.79" cy="660.9" r="7.4"/><circle cx="1540.77" cy="662.4" r="7.4"/><circle cx="1540.75" cy="663.9" r="7.4"/><circle cx="1540.73" cy="665.4" r="7.4"/><circle cx="1540.72" cy="666.9" r="7.4"/><circle cx="1540.77" cy="668.38" r="7.4"/><circle cx="1541.26" cy="669.8" r="7.4"/><circle cx="1541.74" cy="671.22" r="7.4"/><circle cx="1541.97" cy="672.68" r="7.4"/><circle cx="1541.98" cy="674.18" r="7.4"/><circle cx="1541.99" cy="675.68" r="7.4"/><circle cx="1541.99" cy="677.18" r="7.4"/><circle cx="1542" cy="678.68" r="7.4"/><circle cx="1542.01" cy="680.18" r="7.4"/><circle cx="1542.02" cy="681.68" r="7.4"/><circle cx="1542.02" cy="683.18" r="7.4"/><circle cx="1542.03" cy="684.68" r="7.4"/><circle cx="1542.04" cy="686.18" r="7.4"/><circle cx="1542.04" cy="687.68" r="7.4"/><circle cx="1542.05" cy="689.18" r="7.4"/><circle cx="1542.06" cy="690.68" r="7.4"/><circle cx="1542.06" cy="692.18" r="7.4"/><circle cx="1542.07" cy="693.68" r="7.4"/><circle cx="1542.08" cy="695.18" r="7.4"/><circle cx="1542.08" cy="696.68" r="7.4"/><circle cx="1542.09" cy="698.18" r="7.4"/><circle cx="1542.1" cy="699.68" r="7.4"/><circle cx="1542.11" cy="701.18" r="7.4"/><circle cx="1542.11" cy="702.68" r="7.4"/><circle cx="1542.12" cy="704.18" r="7.4"/><circle cx="1542.13" cy="705.68" r="7.4"/><circle cx="1542.13" cy="707.18" r="7.4"/><circle cx="1542.14" cy="708.68" r="7.4"/><circle cx="1542.15" cy="710.18" r="7.4"/><circle cx="1542.15" cy="711.68" r="7.4"/><circle cx="1542.16" cy="713.18" r="7.4"/><circle cx="1542.17" cy="714.68" r="7.4"/><circle cx="1542.17" cy="716.18" r="7.4"/><circle cx="1542.18" cy="717.68" r="7.4"/><circle cx="1542.19" cy="719.18" r="7.4"/><circle cx="1542.2" cy="720.68" r="7.4"/><circle cx="1542.2" cy="722.18" r="7.4"/><circle cx="1542.21" cy="723.68" r="7.4"/><circle cx="1542.22" cy="725.18" r="7.4"/><circle cx="1542.29" cy="725.22" r="7.4"/><circle cx="1542.31" cy="723.72" r="7.4"/><circle cx="1542.33" cy="722.22" r="7.4"/><circle cx="1542.35" cy="720.72" r="7.4"/><circle cx="1542.37" cy="719.22" r="7.4"/><circle cx="1542.39" cy="717.72" r="7.4"/><circle cx="1542.41" cy="716.22" r="7.4"/><circle cx="1542.44" cy="714.72" r="7.4"/><circle cx="1542.46" cy="713.22" r="7.4"/><circle cx="1542.48" cy="711.72" r="7.4"/><circle cx="1542.5" cy="710.22" r="7.4"/><circle cx="1542.52" cy="708.72" r="7.4"/><circle cx="1542.54" cy="707.22" r="7.4"/><circle cx="1542.56" cy="705.72" r="7.4"/><circle cx="1542.59" cy="704.22" r="7.4"/><circle cx="1542.61" cy="702.72" r="7.4"/><circle cx="1542.63" cy="701.22" r="7.4"/><circle cx="1542.66" cy="699.72" r="7.4"/><circle cx="1542.68" cy="698.22" r="7.4"/><circle cx="1542.7" cy="696.72" r="7.4"/><circle cx="1542.73" cy="695.22" r="7.4"/><circle cx="1542.75" cy="693.72" r="7.4"/><circle cx="1542.78" cy="692.22" r="7.4"/><circle cx="1542.8" cy="690.72" r="7.4"/><circle cx="1542.83" cy="689.22" r="7.4"/><circle cx="1542.86" cy="687.72" r="7.4"/><circle cx="1542.88" cy="686.22" r="7.4"/><circle cx="1542.91" cy="684.72" r="7.4"/><circle cx="1542.94" cy="683.22" r="7.4"/><circle cx="1542.96" cy="681.72" r="7.4"/><circle cx="1542.99" cy="680.22" r="7.4"/><circle cx="1543.02" cy="678.72" r="7.4"/><circle cx="1543.05" cy="677.22" r="7.4"/><circle cx="1543.08" cy="675.72" r="7.4"/><circle cx="1543.11" cy="674.22" r="7.4"/><circle cx="1543.14" cy="672.72" r="7.4"/><circle cx="1543.17" cy="671.22" r="7.4"/><circle cx="1543.21" cy="669.73" r="7.4"/><circle cx="1543.24" cy="668.23" r="7.4"/><circle cx="1543.27" cy="666.73" r="7.4"/><circle cx="1543.3" cy="665.23" r="7.4"/><circle cx="1543.34" cy="663.73" r="7.4"/><circle cx="1543.37" cy="662.23" r="7.4"/><circle cx="1543.4" cy="660.73" r="7.4"/><circle cx="1543.44" cy="659.23" r="7.4"/><circle cx="1543.48" cy="657.73" r="7.4"/><circle cx="1543.52" cy="656.23" r="7.4"/><circle cx="1543.56" cy="654.73" r="7.4"/><circle cx="1543.6" cy="653.23" r="7.4"/><circle cx="1543.64" cy="651.73" r="7.4"/><circle cx="1543.68" cy="650.23" r="7.4"/><circle cx="1543.72" cy="648.73" r="7.4"/><circle cx="1543.76" cy="647.23" r="7.4"/><circle cx="1543.8" cy="645.73" r="7.4"/><circle cx="1543.85" cy="644.23" r="7.4"/><circle cx="1543.9" cy="642.73" r="7.4"/><circle cx="1543.95" cy="641.24" r="7.4"/><circle cx="1544" cy="639.74" r="7.4"/><circle cx="1544.05" cy="638.24" r="7.4"/><circle cx="1544.1" cy="636.74" r="7.4"/><circle cx="1544.15" cy="635.24" r="7.4"/><circle cx="1544.2" cy="633.74" r="7.4"/><circle cx="1544.26" cy="632.24" r="7.4"/><circle cx="1544.32" cy="630.74" r="7.4"/><circle cx="1544.39" cy="629.24" r="7.4"/><circle cx="1544.45" cy="627.74" r="7.4"/><circle cx="1544.52" cy="626.25" r="7.4"/><circle cx="1544.59" cy="624.75" r="7.4"/><circle cx="1544.65" cy="623.25" r="7.4"/><circle cx="1544.72" cy="621.75" r="7.4"/><circle cx="1544.8" cy="620.25" r="7.4"/><circle cx="1544.89" cy="618.76" r="7.4"/><circle cx="1544.98" cy="617.26" r="7.4"/><circle cx="1545.06" cy="615.76" r="7.4"/><circle cx="1545.15" cy="614.26" r="7.4"/><circle cx="1545.24" cy="612.77" r="7.4"/><circle cx="1545.36" cy="611.27" r="7.4"/><circle cx="1545.47" cy="609.77" r="7.4"/><circle cx="1545.59" cy="608.28" r="7.4"/><circle cx="1545.71" cy="606.78" r="7.4"/><circle cx="1545.84" cy="605.29" r="7.4"/><circle cx="1546" cy="603.8" r="7.4"/><circle cx="1546.16" cy="602.31" r="7.4"/><circle cx="1546.32" cy="600.82" r="7.4"/><circle cx="1546.53" cy="599.33" r="7.4"/><circle cx="1546.75" cy="597.85" r="7.4"/><circle cx="1546.97" cy="596.36" r="7.4"/><circle cx="1547.29" cy="594.9" r="7.4"/><circle cx="1547.6" cy="593.43" r="7.4"/><circle cx="1548.05" cy="592" r="7.4"/><circle cx="1548.57" cy="590.6" r="7.4"/><circle cx="1549.27" cy="589.28" r="7.4"/><circle cx="1550.24" cy="588.14" r="7.4"/><circle cx="1551.3" cy="587.4" r="7.4"/><circle cx="1542.1" cy="726.2" r="7.4"/><circle cx="1542.1" cy="726.2" r="7.4"/><circle cx="1542.1" cy="726.2" r="7.4"/><circle cx="1551" cy="588.4" r="7.4"/><circle cx="1551" cy="588.4" r="7.4"/><circle cx="1552.1" cy="587.4" r="7.4"/><circle cx="1552.08" cy="588.9" r="7.4"/><circle cx="1552.06" cy="590.4" r="7.4"/><circle cx="1552.04" cy="591.9" r="7.4"/><circle cx="1552.02" cy="593.4" r="7.4"/><circle cx="1552" cy="594.9" r="7.4"/><circle cx="1551.99" cy="596.4" r="7.4"/><circle cx="1551.97" cy="597.9" r="7.4"/><circle cx="1551.95" cy="599.4" r="7.4"/><circle cx="1551.93" cy="600.9" r="7.4"/><circle cx="1551.91" cy="602.4" r="7.4"/><circle cx="1551.89" cy="603.9" r="7.4"/><circle cx="1551.87" cy="605.4" r="7.4"/><circle cx="1551.85" cy="606.9" r="7.4"/><circle cx="1551.83" cy="608.4" r="7.4"/><circle cx="1551.81" cy="609.9" r="7.4"/><circle cx="1551.79" cy="611.4" r="7.4"/><circle cx="1551.77" cy="612.9" r="7.4"/><circle cx="1551.76" cy="614.4" r="7.4"/><circle cx="1551.74" cy="615.9" r="7.4"/><circle cx="1551.72" cy="617.4" r="7.4"/><circle cx="1551.7" cy="618.9" r="7.4"/><circle cx="1551.68" cy="620.4" r="7.4"/><circle cx="1551.66" cy="621.9" r="7.4"/><circle cx="1551.64" cy="623.4" r="7.4"/><circle cx="1551.62" cy="624.9" r="7.4"/><circle cx="1551.6" cy="626.4" r="7.4"/><circle cx="1551.58" cy="627.9" r="7.4"/><circle cx="1551.56" cy="629.4" r="7.4"/><circle cx="1551.55" cy="630.9" r="7.4"/><circle cx="1551.53" cy="632.4" r="7.4"/><circle cx="1551.51" cy="633.9" r="7.4"/><circle cx="1551.49" cy="635.4" r="7.4"/><circle cx="1551.47" cy="636.9" r="7.4"/><circle cx="1551.45" cy="638.4" r="7.4"/><circle cx="1551.43" cy="639.9" r="7.4"/><circle cx="1551.41" cy="641.4" r="7.4"/><circle cx="1551.61" cy="642.86" r="7.4"/><circle cx="1552.1" cy="644.28" r="7.4"/><circle cx="1552.59" cy="645.69" r="7.4"/><circle cx="1552.65" cy="647.19" r="7.4"/><circle cx="1552.65" cy="648.69" r="7.4"/><circle cx="1552.66" cy="650.19" r="7.4"/><circle cx="1552.67" cy="651.69" r="7.4"/><circle cx="1552.67" cy="653.19" r="7.4"/><circle cx="1552.68" cy="654.69" r="7.4"/><circle cx="1552.69" cy="656.19" r="7.4"/><circle cx="1552.7" cy="657.69" r="7.4"/><circle cx="1552.7" cy="659.19" r="7.4"/><circle cx="1552.71" cy="660.69" r="7.4"/><circle cx="1552.72" cy="662.19" r="7.4"/><circle cx="1552.72" cy="663.69" r="7.4"/><circle cx="1552.73" cy="665.19" r="7.4"/><circle cx="1552.74" cy="666.69" r="7.4"/><circle cx="1552.74" cy="668.19" r="7.4"/><circle cx="1552.75" cy="669.69" r="7.4"/><circle cx="1552.76" cy="671.19" r="7.4"/><circle cx="1552.76" cy="672.69" r="7.4"/><circle cx="1552.77" cy="674.19" r="7.4"/><circle cx="1552.78" cy="675.69" r="7.4"/><circle cx="1552.79" cy="677.19" r="7.4"/><circle cx="1552.79" cy="678.69" r="7.4"/><circle cx="1552.8" cy="680.19" r="7.4"/><circle cx="1552.81" cy="681.69" r="7.4"/><circle cx="1552.81" cy="683.19" r="7.4"/><circle cx="1552.82" cy="684.69" r="7.4"/><circle cx="1552.83" cy="686.19" r="7.4"/><circle cx="1552.83" cy="687.69" r="7.4"/><circle cx="1552.84" cy="689.19" r="7.4"/><circle cx="1552.85" cy="690.69" r="7.4"/><circle cx="1552.86" cy="692.19" r="7.4"/><circle cx="1552.86" cy="693.69" r="7.4"/><circle cx="1552.87" cy="695.19" r="7.4"/><circle cx="1552.88" cy="696.69" r="7.4"/><circle cx="1552.88" cy="698.19" r="7.4"/><circle cx="1552.92" cy="697.71" r="7.4"/><circle cx="1552.93" cy="696.21" r="7.4"/><circle cx="1552.93" cy="694.71" r="7.4"/><circle cx="1552.94" cy="693.21" r="7.4"/><circle cx="1552.95" cy="691.71" r="7.4"/><circle cx="1552.95" cy="690.21" r="7.4"/><circle cx="1552.96" cy="688.71" r="7.4"/><circle cx="1552.97" cy="687.21" r="7.4"/><circle cx="1552.98" cy="685.71" r="7.4"/><circle cx="1552.98" cy="684.21" r="7.4"/><circle cx="1552.99" cy="682.71" r="7.4"/><circle cx="1553" cy="681.21" r="7.4"/><circle cx="1553.01" cy="679.71" r="7.4"/><circle cx="1553.01" cy="678.21" r="7.4"/><circle cx="1553.02" cy="676.71" r="7.4"/><circle cx="1553.03" cy="675.21" r="7.4"/><circle cx="1553.04" cy="673.71" r="7.4"/><circle cx="1553.05" cy="672.21" r="7.4"/><circle cx="1553.06" cy="670.71" r="7.4"/><circle cx="1553.07" cy="669.21" r="7.4"/><circle cx="1553.08" cy="667.71" r="7.4"/><circle cx="1553.09" cy="666.22" r="7.4"/><circle cx="1553.1" cy="664.72" r="7.4"/><circle cx="1553.11" cy="663.22" r="7.4"/><circle cx="1553.12" cy="661.72" r="7.4"/><circle cx="1553.13" cy="660.22" r="7.4"/><circle cx="1553.14" cy="658.72" r="7.4"/><circle cx="1553.15" cy="657.22" r="7.4"/><circle cx="1553.15" cy="655.72" r="7.4"/><circle cx="1553.16" cy="654.22" r="7.4"/><circle cx="1553.17" cy="652.72" r="7.4"/><circle cx="1553.18" cy="651.22" r="7.4"/><circle cx="1553.19" cy="649.72" r="7.4"/><circle cx="1553.2" cy="648.22" r="7.4"/><circle cx="1553.22" cy="646.72" r="7.4"/><circle cx="1553.23" cy="645.22" r="7.4"/><circle cx="1553.25" cy="643.72" r="7.4"/><circle cx="1553.26" cy="642.22" r="7.4"/><circle cx="1553.28" cy="640.72" r="7.4"/><circle cx="1553.29" cy="639.22" r="7.4"/><circle cx="1553.31" cy="637.72" r="7.4"/><circle cx="1553.32" cy="636.22" r="7.4"/><circle cx="1553.33" cy="634.72" r="7.4"/><circle cx="1553.35" cy="633.22" r="7.4"/><circle cx="1553.36" cy="631.72" r="7.4"/><circle cx="1553.38" cy="630.22" r="7.4"/><circle cx="1553.39" cy="628.72" r="7.4"/><circle cx="1553.41" cy="627.22" r="7.4"/><circle cx="1553.42" cy="625.72" r="7.4"/><circle cx="1553.43" cy="624.22" r="7.4"/><circle cx="1553.45" cy="622.72" r="7.4"/><circle cx="1553.46" cy="621.22" r="7.4"/><circle cx="1553.49" cy="619.72" r="7.4"/><circle cx="1553.52" cy="618.22" r="7.4"/><circle cx="1553.54" cy="616.72" r="7.4"/><circle cx="1553.57" cy="615.22" r="7.4"/><circle cx="1553.59" cy="613.72" r="7.4"/><circle cx="1553.62" cy="612.22" r="7.4"/><circle cx="1553.64" cy="610.72" r="7.4"/><circle cx="1553.67" cy="609.22" r="7.4"/><circle cx="1553.69" cy="607.72" r="7.4"/><circle cx="1553.72" cy="606.22" r="7.4"/><circle cx="1553.74" cy="604.72" r="7.4"/><circle cx="1553.77" cy="603.22" r="7.4"/><circle cx="1553.79" cy="601.72" r="7.4"/><circle cx="1553.84" cy="600.22" r="7.4"/><circle cx="1553.89" cy="598.72" r="7.4"/><circle cx="1553.94" cy="597.22" r="7.4"/><circle cx="1553.99" cy="595.72" r="7.4"/><circle cx="1554.04" cy="594.22" r="7.4"/><circle cx="1554.09" cy="592.72" r="7.4"/><circle cx="1554.14" cy="591.23" r="7.4"/><circle cx="1554.21" cy="589.73" r="7.4"/><circle cx="1554.31" cy="588.23" r="7.4"/><circle cx="1554.42" cy="586.73" r="7.4"/><circle cx="1554.52" cy="585.24" r="7.4"/><circle cx="1554.66" cy="583.75" r="7.4"/><circle cx="1554.91" cy="582.27" r="7.4"/><circle cx="1555.25" cy="580.82" r="7.4"/><circle cx="1555.6" cy="580" r="7.4"/><circle cx="1552.9" cy="698.2" r="7.4"/><circle cx="1552.9" cy="698.2" r="7.4"/><circle cx="1552.9" cy="698.2" r="7.4"/><circle cx="1555.3" cy="581" r="7.4"/><circle cx="1555.3" cy="581" r="7.4"/><circle cx="1313.2" cy="778.5" r="7.4" fill-opacity="0.2"/></g>
<g fill="#008000" fill-opacity="0.6"><circle cx="1313.77" cy="778" r="6.2"/><circle cx="1313.3" cy="776" r="6.2"/><circle cx="1313.5" cy="774" r="6.2"/><circle cx="1312.8" cy="772" r="6.2"/><circle cx="1313.66" cy="770" r="6.2"/><circle cx="1313.3" cy="768" r="6.2"/><circle cx="1312.9" cy="766" r="6.2"/><circle cx="1312.59" cy="764" r="6.2"/><circle cx="1313.7" cy="762" r="6.2"/><circle cx="1313.89" cy="760" r="6.2"/><circle cx="1312.62" cy="758" r="6.2"/><circle cx="1313.62" cy="756" r="6.2"/><circle cx="1313.07" cy="754" r="6.2"/><circle cx="1312.71" cy="752" r="6.2"/><circle cx="1312.91" cy="750" r="6.2"/><circle cx="1313.58" cy="748" r="6.2"/><circle cx="1313.72" cy="746" r="6.2"/><circle cx="1312.56" cy="744" r="6.2"/><circle cx="1313.36" cy="742" r="6.2"/><circle cx="1312.56" cy="740" r="6.2"/><circle cx="1313.51" cy="738" r="6.2"/><circle cx="1312.96" cy="736" r="6.2"/><circle cx="1313.73" cy="734" r="6.2"/><circle cx="1313.87" cy="732" r="6.2"/><circle cx="1313.21" cy="730" r="6.2"/><circle cx="1313.9" cy="728" r="6.2"/><circle cx="1312.93" cy="726" r="6.2"/><circle cx="1312.61" cy="724" r="6.2"/><circle cx="1313.34" cy="722" r="6.2"/><circle cx="1312.54" cy="720" r="6.2"/><circle cx="1312.78" cy="718" r="6.2"/><circle cx="1313.07" cy="716" r="6.2"/><circle cx="1313.35" cy="714" r="6.2"/><circle cx="1312.72" cy="712" r="6.2"/><circle cx="1312.56" cy="710" r="6.2"/><circle cx="1313.71" cy="708" r="6.2"/><circle cx="1312.94" cy="706" r="6.2"/><circle cx="1313.84" cy="704" r="6.2"/><circle cx="1313.76" cy="702" r="6.2"/><circle cx="1313.03" cy="700" r="6.2"/><circle cx="1313.14" cy="698" r="6.2"/><circle cx="1313.23" cy="696" r="6.2"/><circle cx="1313.4" cy="694" r="6.2"/><circle cx="1313.33" cy="692" r="6.2"/><circle cx="1313.28" cy="690" r="6.2"/><circle cx="1313.37" cy="688" r="6.2"/><circle cx="1313.82" cy="686" r="6.2"/><circle cx="1313.21" cy="684" r="6.2"/><circle cx="1313.1" cy="682" r="6.2"/><circle cx="1313.51" cy="680" r="6.2"/><circle cx="1312.83" cy="678" r="6.2"/><circle cx="1312.92" cy="676" r="6.2"/><circle cx="1313.87" cy="674" r="6.2"/><circle cx="1313.23" cy="672" r="6.2"/><circle cx="1313.2" cy="667" r="6.2"/><circle cx="1313.2" cy="662" r="6.2"/><circle cx="1313.2" cy="657" r="6.2"/><circle cx="1313.27" cy="653.8" r="6.2"/><circle cx="1312.52" cy="650.6" r="6.2"/><circle cx="1313.08" cy="648.6" r="6.2"/><circle cx="1313.31" cy="646.6" r="6.2"/><circle cx="1312.53" cy="644.6" r="6.2"/><circle cx="1313.36" cy="642.6" r="6.2"/><circle cx="1313.39" cy="640.6" r="6.2"/><circle cx="1313.2" cy="639.6" r="6.2"/><circle cx="1313.2" cy="639.6" r="6.2"/><circle cx="1313.2" cy="639.6" r="6.2"/><circle cx="1325.68" cy="778" r="6.2"/><circle cx="1326.48" cy="776" r="6.2"/><circle cx="1326.25" cy="774" r="6.2"/><circle cx="1326.55" cy="772" r="6.2"/><circle cx="1326.09" cy="770" r="6.2"/><circle cx="1326.59" cy="768" r="6.2"/><circle cx="1326.63" cy="766" r="6.2"/><circle cx="1325.63" cy="764" r="6.2"/><circle cx="1325.68" cy="762" r="6.2"/><circle cx="1326.55" cy="760" r="6.2"/><circle cx="1326.95" cy="758" r="6.2"/><circle cx="1325.95" cy="756" r="6.2"/><circle cx="1326.24" cy="754" r="6.2"/><circle cx="1326.43" cy="752" r="6.2"/><circle cx="1326.05" cy="750" r="6.2"/><circle cx="1326.11" cy="748" r="6.2"/><circle cx="1326.04" cy="746" r="6.2"/><circle cx="1326.12" cy="744" r="6.2"/><circle cx="1326.43" cy="742" r="6.2"/><circle cx="1326.02" cy="740" r="6.2"/><circle cx="1326.13" cy="738" r="6.2"/><circle cx="1326.68" cy="736" r="6.2"/><circle cx="1325.64" cy="734" r="6.2"/><circle cx="1326.4" cy="732" r="6.2"/><circle cx="1326.63" cy="730" r="6.2"/><circle cx="1326.03" cy="728" r="6.2"/><circle cx="1325.91" cy="726" r="6.2"/><circle cx="1326.73" cy="724" r="6.2"/><circle cx="1325.93" cy="722" r="6.2"/><circle cx="1325.86" cy="720" r="6.2"/><circle cx="1326.21" cy="718" r="6.2"/><circle cx="1326.58" cy="716" r="6.2"/><circle cx="1325.74" cy="714" r="6.2"/><circle cx="1326.05" cy="712" r="6.2"/><circle cx="1326.07" cy="710" r="6.2"/><circle cx="1326.77" cy="708" r="6.2"/><circle cx="1326.21" cy="706" r="6.2"/><circle cx="1326.8" cy="704" r="6.2"/><circle cx="1325.84" cy="702" r="6.2"/><circle cx="1326.07" cy="700" r="6.2"/><circle cx="1326.51" cy="698" r="6.2"/><circle cx="1326.84" cy="696" r="6.2"/><circle cx="1326.23" cy="694" r="6.2"/><circle cx="1325.92" cy="692" r="6.2"/><circle cx="1325.77" cy="690" r="6.2"/><circle cx="1326.34" cy="688" r="6.2"/><circle cx="1325.87" cy="686" r="6.2"/><circle cx="1326.73" cy="684" r="6.2"/><circle cx="1326.77" cy="682" r="6.2"/><circle cx="1325.86" cy="680" r="6.2"/><circle cx="1325.99" cy="678" r="6.2"/><circle cx="1326.73" cy="676" r="6.2"/><circle cx="1326.5" cy="674" r="6.2"/><circle cx="1326.73" cy="672" r="6.2"/><circle cx="1326.3" cy="667" r="6.2"/><circle cx="1326.3" cy="662" r="6.2"/><circle cx="1326.3" cy="657" r="6.2"/><circle cx="1326.08" cy="653.8" r="6.2"/><circle cx="1325.78" cy="650.6" r="6.2"/><circle cx="1326.01" cy="648.6" r="6.2"/><circle cx="1326.71" cy="646.6" r="6.2"/><circle cx="1325.98" cy="644.6" r="6.2"/><circle cx="1326.08" cy="642.6" r="6.2"/><circle cx="1326.18" cy="640.6" r="6.2"/><circle cx="1326.3" cy="639.6" r="6.2"/><circle cx="1326.3" cy="639.6" r="6.2"/><circle cx="1326.3" cy="639.6" r="6.2"/><circle cx="1338.39" cy="778" r="6.2"/><circle cx="1338.37" cy="776" r="6.2"/><circle cx="1339.09" cy="774" r="6.2"/><circle cx="1338.02" cy="772" r="6.2"/><circle cx="1337.81" cy="770" r="6.2"/><circle cx="1339.12" cy="768" r="6.2"/><circle cx="1339.03" cy="766" r="6.2"/><circle cx="1339.18" cy="764" r="6.2"/><circle cx="1338.41" cy="762" r="6.2"/><circle cx="1339.13" cy="760" r="6.2"/><circle cx="1339.1" cy="758" r="6.2"/><circle cx="1338.11" cy="756" r="6.2"/><circle cx="1338.84" cy="754" r="6.2"/><circle cx="1338.97" cy="752" r="6.2"/><circle cx="1338.73" cy="750" r="6.2"/><circle cx="1338.53" cy="748" r="6.2"/><circle cx="1338.2" cy="746" r="6.2"/><circle cx="1338.28" cy="744" r="6.2"/><circle cx="1338.12" cy="742" r="6.2"/><circle cx="1337.9" cy="740" r="6.2"/><circle cx="1338.62" cy="738" r="6.2"/><circle cx="1338.2" cy="736" r="6.2"/><circle cx="1338.93" cy="734" r="6.2"/><circle cx="1337.86" cy="732" r="6.2"/><circle cx="1339.07" cy="730" r="6.2"/><circle cx="1338.77" cy="728" r="6.2"/><circle cx="1339.09" cy="726" r="6.2"/><circle cx="1339.06" cy="724" r="6.2"/><circle cx="1339.06" cy="722" r="6.2"/><circle cx="1338.61" cy="720" r="6.2"/><circle cx="1337.82" cy="718" r="6.2"/><circle cx="1338.84" cy="716" r="6.2"/><circle cx="1338.04" cy="714" r="6.2"/><circle cx="1338.22" cy="712" r="6.2"/><circle cx="1338.73" cy="710" r="6.2"/><circle cx="1338.53" cy="708" r="6.2"/><circle cx="1338.38" cy="706" r="6.2"/><circle cx="1339.11" cy="704" r="6.2"/><circle cx="1338.66" cy="702" r="6.2"/><circle cx="1338.28" cy="700" r="6.2"/><circle cx="1338.15" cy="698" r="6.2"/><circle cx="1339.01" cy="696" r="6.2"/><circle cx="1338.47" cy="694" r="6.2"/><circle cx="1338.9" cy="692" r="6.2"/><circle cx="1338.29" cy="690" r="6.2"/><circle cx="1338.08" cy="688" r="6.2"/><circle cx="1338.55" cy="686" r="6.2"/><circle cx="1338.94" cy="684" r="6.2"/><circle cx="1338.04" cy="682" r="6.2"/><circle cx="1338.91" cy="680" r="6.2"/><circle cx="1339.09" cy="678" r="6.2"/><circle cx="1338.93" cy="676" r="6.2"/><circle cx="1338.95" cy="674" r="6.2"/><circle cx="1337.81" cy="672" r="6.2"/><circle cx="1338.5" cy="667" r="6.2"/><circle cx="1338.5" cy="662" r="6.2"/><circle cx="1338.5" cy="657" r="6.2"/><circle cx="1338.68" cy="653.8" r="6.2"/><circle cx="1339.01" cy="650.6" r="6.2"/><circle cx="1337.87" cy="648.6" r="6.2"/><circle cx="1338.18" cy="646.6" r="6.2"/><circle cx="1338.18" cy="644.6" r="6.2"/><circle cx="1338.54" cy="642.6" r="6.2"/><circle cx="1338.39" cy="640.6" r="6.2"/><circle cx="1338.5" cy="639.6" r="6.2"/><circle cx="1338.5" cy="639.6" r="6.2"/><circle cx="1338.5" cy="639.6" r="6.2"/><circle cx="1350.96" cy="778" r="6.2"/><circle cx="1351.39" cy="776" r="6.2"/><circle cx="1350.3" cy="774" r="6.2"/><circle cx="1350.38" cy="772" r="6.2"/><circle cx="1350.48" cy="770" r="6.2"/><circle cx="1350.47" cy="768" r="6.2"/><circle cx="1350.4" cy="766" r="6.2"/><circle cx="1351.66" cy="764" r="6.2"/><circle cx="1351.5" cy="762" r="6.2"/><circle cx="1350.42" cy="760" r="6.2"/><circle cx="1351" cy="758" r="6.2"/><circle cx="1350.74" cy="756" r="6.2"/><circle cx="1350.74" cy="754" r="6.2"/><circle cx="1350.79" cy="752" r="6.2"/><circle cx="1351.21" cy="750" r="6.2"/><circle cx="1351.12" cy="748" r="6.2"/><circle cx="1350.81" cy="746" r="6.2"/><circle cx="1350.57" cy="744" r="6.2"/><circle cx="1350.76" cy="742" r="6.2"/><circle cx="1350.47" cy="740" r="6.2"/><circle cx="1351.08" cy="738" r="6.2"/><circle cx="1351.3" cy="736" r="6.2"/><circle cx="1350.83" cy="734" r="6.2"/><circle cx="1350.41" cy="732" r="6.2"/><circle cx="1350.55" cy="730" r="6.2"/><circle cx="1350.82" cy="728" r="6.2"/><circle cx="1351.15" cy="726" r="6.2"/><circle cx="1351.4" cy="724" r="6.2"/><circle cx="1350.83" cy="722" r="6.2"/><circle cx="1351.42" cy="720" r="6.2"/><circle cx="1351.17" cy="718" r="6.2"/><circle cx="1350.9" cy="716" r="6.2"/><circle cx="1350.82" cy="714" r="6.2"/><circle cx="1350.99" cy="712" r="6.2"/><circle cx="1351.28" cy="710" r="6.2"/><circle cx="1350.89" cy="708" r="6.2"/><circle cx="1351.27" cy="706" r="6.2"/><circle cx="1350.95" cy="704" r="6.2"/><circle cx="1350.64" cy="702" r="6.2"/><circle cx="1351.05" cy="700" r="6.2"/><circle cx="1351.27" cy="698" r="6.2"/><circle cx="1350.4" cy="696" r="6.2"/><circle cx="1350.89" cy="694" r="6.2"/><circle cx="1350.9" cy="692" r="6.2"/><circle cx="1351.53" cy="690" r="6.2"/><circle cx="1351.61" cy="688" r="6.2"/><circle cx="1350.82" cy="686" r="6.2"/><circle cx="1351.56" cy="684" r="6.2"/><circle cx="1351.41" cy="682" r="6.2"/><circle cx="1350.67" cy="680" r="6.2"/><circle cx="1350.95" cy="678" r="6.2"/><circle cx="1350.47" cy="676" r="6.2"/><circle cx="1351.44" cy="674" r="6.2"/><circle cx="1351.23" cy="672" r="6.2"/><circle cx="1351" cy="667" r="6.2"/><circle cx="1351" cy="662" r="6.2"/><circle cx="1351" cy="657" r="6.2"/><circle cx="1351.54" cy="653.8" r="6.2"/><circle cx="1351.41" cy="650.6" r="6.2"/><circle cx="1351.23" cy="648.6" r="6.2"/><circle cx="1351.33" cy="646.6" r="6.2"/><circle cx="1351.09" cy="644.6" r="6.2"/><circle cx="1350.44" cy="642.6" r="6.2"/><circle cx="1351.12" cy="640.6" r="6.2"/><circle cx="1351" cy="639.6" r="6.2"/><circle cx="1351" cy="639.6" r="6.2"/><circle cx="1351" cy="639.6" r="6.2"/><circle cx="1362.61" cy="778" r="6.2"/><circle cx="1362.8" cy="776" r="6.2"/><circle cx="1363.68" cy="774" r="6.2"/><circle cx="1362.66" cy="772" r="6.2"/><circle cx="1362.73" cy="770" r="6.2"/><circle cx="1362.74" cy="768" r="6.2"/><circle cx="1363.83" cy="766" r="6.2"/><circle cx="1362.85" cy="764" r="6.2"/><circle cx="1362.63" cy="762" r="6.2"/><circle cx="1363.78" cy="760" r="6.2"/><circle cx="1362.77" cy="758" r="6.2"/><circle cx="1363.78" cy="756" r="6.2"/><circle cx="1363.54" cy="754" r="6.2"/><circle cx="1363.77" cy="752" r="6.2"/><circle cx="1363.93" cy="750" r="6.2"/><circle cx="1363.41" cy="748" r="6.2"/><circle cx="1363.72" cy="746" r="6.2"/><circle cx="1362.65" cy="744" r="6.2"/><circle cx="1363.67" cy="742" r="6.2"/><circle cx="1363.32" cy="740" r="6.2"/><circle cx="1363.6" cy="738" r="6.2"/><circle cx="1362.75" cy="736" r="6.2"/><circle cx="1363.65" cy="734" r="6.2"/><circle cx="1363.91" cy="732" r="6.2"/><circle cx="1362.69" cy="730" r="6.2"/><circle cx="1363.05" cy="728" r="6.2"/><circle cx="1363.39" cy="726" r="6.2"/><circle cx="1363.76" cy="724" r="6.2"/><circle cx="1362.94" cy="722" r="6.2"/><circle cx="1362.85" cy="720" r="6.2"/><circle cx="1362.95" cy="718" r="6.2"/><circle cx="1363.46" cy="716" r="6.2"/><circle cx="1363.65" cy="714" r="6.2"/><circle cx="1363.15" cy="712" r="6.2"/><circle cx="1363.11" cy="710" r="6.2"/><circle cx="1363.16" cy="708" r="6.2"/><circle cx="1363.09" cy="706" r="6.2"/><circle cx="1363.19" cy="704" r="6.2"/><circle cx="1362.72" cy="702" r="6.2"/><circle cx="1363.3" cy="700" r="6.2"/><circle cx="1363.96" cy="698" r="6.2"/><circle cx="1363.18" cy="696" r="6.2"/><circle cx="1363.65" cy="694" r="6.2"/><circle cx="1362.82" cy="692" r="6.2"/><circle cx="1363.57" cy="690" r="6.2"/><circle cx="1363.66" cy="688" r="6.2"/><circle cx="1363.54" cy="686" r="6.2"/><circle cx="1363.32" cy="684" r="6.2"/><circle cx="1363.28" cy="682" r="6.2"/><circle cx="1363.5" cy="680" r="6.2"/><circle cx="1363.86" cy="678" r="6.2"/><circle cx="1362.81" cy="676" r="6.2"/><circle cx="1362.73" cy="674" r="6.2"/><circle cx="1363.65" cy="672" r="6.2"/><circle cx="1363.3" cy="667" r="6.2"/><circle cx="1363.3" cy="662" r="6.2"/><circle cx="1363.3" cy="657" r="6.2"/><circle cx="1363.88" cy="653.8" r="6.2"/><circle cx="1363.32" cy="650.6" r="6.2"/><circle cx="1363.22" cy="648.6" r="6.2"/><circle cx="1363.61" cy="646.6" r="6.2"/><circle cx="1362.86" cy="644.6" r="6.2"/><circle cx="1362.97" cy="642.6" r="6.2"/><circle cx="1362.88" cy="640.6" r="6.2"/><circle cx="1363.3" cy="639.6" r="6.2"/><circle cx="1363.3" cy="639.6" r="6.2"/><circle cx="1363.3" cy="639.6" r="6.2"/><circle cx="1375.62" cy="778" r="6.2"/><circle cx="1375.24" cy="776" r="6.2"/><circle cx="1375.13" cy="774" r="6.2"/><circle cx="1375.77" cy="772" r="6.2"/><circle cx="1376.13" cy="770" r="6.2"/><circle cx="1375.21" cy="768" r="6.2"/><circle cx="1375.79" cy="766" r="6.2"/><circle cx="1375.38" cy="764" r="6.2"/><circle cx="1376" cy="762" r="6.2"/><circle cx="1375.62" cy="760" r="6.2"/><circle cx="1375.17" cy="758" r="6.2"/><circle cx="1375.1" cy="756" r="6.2"/><circle cx="1374.83" cy="754" r="6.2"/><circle cx="1375.47" cy="752" r="6.2"/><circle cx="1375.34" cy="750" r="6.2"/><circle cx="1375.04" cy="748" r="6.2"/><circle cx="1375.3" cy="746" r="6.2"/><circle cx="1375.25" cy="744" r="6.2"/><circle cx="1375.88" cy="742" r="6.2"/><circle cx="1375" cy="740" r="6.2"/><circle cx="1376.19" cy="738" r="6.2"/><circle cx="1375.47" cy="736" r="6.2"/><circle cx="1375.64" cy="734" r="6.2"/><circle cx="1375.46" cy="732" r="6.2"/><circle cx="1375.97" cy="730" r="6.2"/><circle cx="1375.95" cy="728" r="6.2"/><circle cx="1375.58" cy="726" r="6.2"/><circle cx="1375.47" cy="724" r="6.2"/><circle cx="1375.81" cy="722" r="6.2"/><circle cx="1376" cy="720" r="6.2"/><circle cx="1375.36" cy="718" r="6.2"/><circle cx="1375.83" cy="716" r="6.2"/><circle cx="1376.14" cy="714" r="6.2"/><circle cx="1375.45" cy="712" r="6.2"/><circle cx="1375.12" cy="710" r="6.2"/><circle cx="1375.13" cy="708" r="6.2"/><circle cx="1375.8" cy="706" r="6.2"/><circle cx="1375.75" cy="704" r="6.2"/><circle cx="1376.14" cy="702" r="6.2"/><circle cx="1376" cy="700" r="6.2"/><circle cx="1375.14" cy="698" r="6.2"/><circle cx="1375.07" cy="696" r="6.2"/><circle cx="1375.16" cy="694" r="6.2"/><circle cx="1375.06" cy="692" r="6.2"/><circle cx="1375.79" cy="690" r="6.2"/><circle cx="1376" cy="688" r="6.2"/><circle cx="1376.06" cy="686" r="6.2"/><circle cx="1375.16" cy="684" r="6.2"/><circle cx="1376.01" cy="682" r="6.2"/><circle cx="1375.24" cy="680" r="6.2"/><circle cx="1375.39" cy="678" r="6.2"/><circle cx="1375.82" cy="676" r="6.2"/><circle cx="1374.92" cy="674" r="6.2"/><circle cx="1374.93" cy="672" r="6.2"/><circle cx="1375.5" cy="667" r="6.2"/><circle cx="1375.5" cy="662" r="6.2"/><circle cx="1375.5" cy="657" r="6.2"/><circle cx="1375.97" cy="653.8" r="6.2"/><circle cx="1375.21" cy="650.6" r="6.2"/><circle cx="1375.3" cy="648.6" r="6.2"/><circle cx="1375.61" cy="646.6" r="6.2"/><circle cx="1375.75" cy="644.6" r="6.2"/><circle cx="1374.81" cy="642.6" r="6.2"/><circle cx="1375.27" cy="640.6" r="6.2"/><circle cx="1375.5" cy="639.6" r="6.2"/><circle cx="1375.5" cy="639.6" r="6.2"/><circle cx="1375.5" cy="639.6" r="6.2"/><circle cx="1387.21" cy="778" r="6.2"/><circle cx="1387.28" cy="776" r="6.2"/><circle cx="1386.89" cy="774" r="6.2"/><circle cx="1387.42" cy="772" r="6.2"/><circle cx="1387.94" cy="770" r="6.2"/><circle cx="1387.15" cy="768" r="6.2"/><circle cx="1387.36" cy="766" r="6.2"/><circle cx="1386.77" cy="764" r="6.2"/><circle cx="1386.98" cy="762" r="6.2"/><circle cx="1387.53" cy="760" r="6.2"/><circle cx="1386.76" cy="758" r="6.2"/><circle cx="1387.84" cy="756" r="6.2"/><circle cx="1387.87" cy="754" r="6.2"/><circle cx="1386.74" cy="752" r="6.2"/><circle cx="1387.92" cy="750" r="6.2"/><circle cx="1387.12" cy="748" r="6.2"/><circle cx="1387.68" cy="746" r="6.2"/><circle cx="1387.66" cy="744" r="6.2"/><circle cx="1387.01" cy="742" r="6.2"/><circle cx="1387.55" cy="740" r="6.2"/><circle cx="1387.52" cy="738" r="6.2"/><circle cx="1387.73" cy="736" r="6.2"/><circle cx="1386.97" cy="734" r="6.2"/><circle cx="1387.66" cy="732" r="6.2"/><circle cx="1387.95" cy="730" r="6.2"/><circle cx="1387.54" cy="728" r="6.2"/><circle cx="1387.35" cy="726" r="6.2"/><circle cx="1386.76" cy="724" r="6.2"/><circle cx="1387.29" cy="722" r="6.2"/><circle cx="1387.09" cy="720" r="6.2"/><circle cx="1387.61" cy="718" r="6.2"/><circle cx="1387.55" cy="716" r="6.2"/><circle cx="1387.39" cy="714" r="6.2"/><circle cx="1386.85" cy="712" r="6.2"/><circle cx="1387.5" cy="710" r="6.2"/><circle cx="1387.48" cy="708" r="6.2"/><circle cx="1386.85" cy="706" r="6.2"/><circle cx="1387.85" cy="704" r="6.2"/><circle cx="1387.52" cy="702" r="6.2"/><circle cx="1386.77" cy="700" r="6.2"/><circle cx="1387.9" cy="698" r="6.2"/><circle cx="1386.8" cy="696" r="6.2"/><circle cx="1387.06" cy="694" r="6.2"/><circle cx="1387.61" cy="692" r="6.2"/><circle cx="1387.44" cy="690" r="6.2"/><circle cx="1387.38" cy="688" r="6.2"/><circle cx="1387.51" cy="686" r="6.2"/><circle cx="1387.24" cy="684" r="6.2"/><circle cx="1387.04" cy="682" r="6.2"/><circle cx="1386.85" cy="680" r="6.2"/><circle cx="1386.7" cy="678" r="6.2"/><circle cx="1387.6" cy="676" r="6.2"/><circle cx="1387.66" cy="674" r="6.2"/><circle cx="1387.36" cy="672" r="6.2"/><circle cx="1387.3" cy="667" r="6.2"/><circle cx="1387.3" cy="662" r="6.2"/><circle cx="1387.3" cy="657" r="6.2"/><circle cx="1387.64" cy="653.8" r="6.2"/><circle cx="1387.1" cy="650.6" r="6.2"/><circle cx="1386.97" cy="648.6" r="6.2"/><circle cx="1387.14" cy="646.6" r="6.2"/><circle cx="1387.82" cy="644.6" r="6.2"/><circle cx="1386.66" cy="642.6" r="6.2"/><circle cx="1387.31" cy="640.6" r="6.2"/><circle cx="1387.3" cy="639.6" r="6.2"/><circle cx="1387.3" cy="639.6" r="6.2"/><circle cx="1387.3" cy="639.6" r="6.2"/><circle cx="1398.35" cy="778" r="6.2"/><circle cx="1399.08" cy="776" r="6.2"/><circle cx="1398.5" cy="774" r="6.2"/><circle cx="1398.47" cy="772" r="6.2"/><circle cx="1398.56" cy="770" r="6.2"/><circle cx="1398.76" cy="768" r="6.2"/><circle cx="1399.08" cy="766" r="6.2"/><circle cx="1398.49" cy="764" r="6.2"/><circle cx="1399.19" cy="762" r="6.2"/><circle cx="1398.16" cy="760" r="6.2"/><circle cx="1398.38" cy="758" r="6.2"/><circle cx="1398.14" cy="756" r="6.2"/><circle cx="1398.16" cy="754" r="6.2"/><circle cx="1399.09" cy="752" r="6.2"/><circle cx="1399.02" cy="750" r="6.2"/><circle cx="1398.26" cy="748" r="6.2"/><circle cx="1398.26" cy="746" r="6.2"/><circle cx="1398.58" cy="744" r="6.2"/><circle cx="1399.04" cy="742" r="6.2"/><circle cx="1399.14" cy="740" r="6.2"/><circle cx="1399.05" cy="738" r="6.2"/><circle cx="1398.83" cy="736" r="6.2"/><circle cx="1398.21" cy="734" r="6.2"/><circle cx="1398.56" cy="732" r="6.2"/><circle cx="1398.27" cy="730" r="6.2"/><circle cx="1398.74" cy="728" r="6.2"/><circle cx="1398.8" cy="726" r="6.2"/><circle cx="1398.28" cy="724" r="6.2"/><circle cx="1398.35" cy="722" r="6.2"/><circle cx="1399.09" cy="720" r="6.2"/><circle cx="1398.04" cy="718" r="6.2"/><circle cx="1399.12" cy="716" r="6.2"/><circle cx="1399.25" cy="714" r="6.2"/><circle cx="1399.33" cy="712" r="6.2"/><circle cx="1398.54" cy="710" r="6.2"/><circle cx="1398.77" cy="708" r="6.2"/><circle cx="1398.82" cy="706" r="6.2"/><circle cx="1398.89" cy="704" r="6.2"/><circle cx="1399.37" cy="702" r="6.2"/><circle cx="1398.96" cy="700" r="6.2"/><circle cx="1398.42" cy="698" r="6.2"/><circle cx="1399.2" cy="696" r="6.2"/><circle cx="1398.68" cy="694" r="6.2"/><circle cx="1398.84" cy="692" r="6.2"/><circle cx="1399.02" cy="690" r="6.2"/><circle cx="1398" cy="688" r="6.2"/><circle cx="1399.08" cy="686" r="6.2"/><circle cx="1398.93" cy="684" r="6.2"/><circle cx="1398.69" cy="682" r="6.2"/><circle cx="1398.73" cy="680" r="6.2"/><circle cx="1398.64" cy="678" r="6.2"/><circle cx="1398.27" cy="676" r="6.2"/><circle cx="1398.74" cy="674" r="6.2"/><circle cx="1398.05" cy="672" r="6.2"/><circle cx="1398.7" cy="667" r="6.2"/><circle cx="1398.7" cy="662" r="6.2"/><circle cx="1398.7" cy="657" r="6.2"/><circle cx="1398.7" cy="653.8" r="6.2"/><circle cx="1398.9" cy="650.6" r="6.2"/><circle cx="1398.62" cy="648.6" r="6.2"/><circle cx="1398.79" cy="646.6" r="6.2"/><circle cx="1399.34" cy="644.6" r="6.2"/><circle cx="1399.25" cy="642.6" r="6.2"/><circle cx="1398.19" cy="640.6" r="6.2"/><circle cx="1398.7" cy="639.6" r="6.2"/><circle cx="1398.7" cy="639.6" r="6.2"/><circle cx="1398.7" cy="639.6" r="6.2"/></g>
</g>
<rect x="225.5" y="144.5" width="1395.0" height="924.0" fill="none" stroke="#000" stroke-width="1.11"/>
<path d="M373.5,1068.5 v4.86 M553.5,1068.5 v4.86 M732.5,1068.5 v4.86 M912.5,1068.5 v4.86 M1091.5,1068.5 v4.86 M1271.5,1068.5 v4.86 M1450.5,1068.5 v4.86 M225.5,144.5 h-4.86 M225.5,340.5 h-4.86 M225.5,537.5 h-4.86 M225.5,733.5 h-4.86 M225.5,930.5 h-4.86" stroke="#000" stroke-width="1.11" fill="none"/>
<g font-size="13.89px">
<text x="373.1" y="1089.1" text-anchor="middle">186.3</text><text x="553.1" y="1089.1" text-anchor="middle">186.4</text><text x="732.1" y="1089.1" text-anchor="middle">186.5</text><text x="912.1" y="1089.1" text-anchor="middle">186.6</text><text x="1091.1" y="1089.1" text-anchor="middle">186.7</text><text x="1271.1" y="1089.1" text-anchor="middle">186.8</text><text x="1450.1" y="1089.1" text-anchor="middle">186.9</text><text x="214.6" y="150.0" text-anchor="end">1000</text><text x="215.5" y="346.1" text-anchor="end">800</text><text x="215.5" y="542.1" text-anchor="end">600</text><text x="214.7" y="739.0" text-anchor="end">400</text><text x="215.4" y="935.3" text-anchor="end">200</text>
<text x="922.5" y="1107.8" text-anchor="middle">star_age (Myr)</text><text transform="translate(170.4,606.5) rotate(-90)" text-anchor="middle">O1 period (days)</text>
</g>
<rect x="235.5" y="154.5" width="446" height="243.7" rx="4.2" ry="4.2" fill="#fff" fill-opacity="0.8" stroke="#ccc" stroke-opacity="0.8" stroke-width="1.2"/>
<line x1="243" y1="171" x2="286.1" y2="171" stroke="#000" stroke-width="2.08"/><circle cx="265.4" cy="171.4" r="2.4" fill="#000"/>
<line x1="242.2" y1="202.9" x2="287.1" y2="202.9" stroke="#0000ff" stroke-width="4.17"/>
<line x1="242.2" y1="233.0" x2="287.1" y2="233.0" stroke="#008000" stroke-width="4.17"/>
<line x1="243.3" y1="264" x2="286" y2="264" stroke="#ffa500" stroke-width="2.08"/>
<circle cx="265.3" cy="294.5" r="4.3" fill="#90ee90"/>
<line x1="243.3" y1="324.7" x2="286" y2="324.7" stroke="#ff0000" stroke-width="2.08"/><g fill="#ff0000"><polygon points="265.4,303.7 260.51,318.76 244.67,318.76 257.48,328.07 252.59,343.14 265.4,333.83 278.21,343.14 273.32,328.07 286.13,318.76 270.29,318.76"/></g>
<circle cx="265.3" cy="369.5" r="7.5" fill="#ffff00" fill-opacity="0.3"/>
<g font-size="20.83px">
<text x="301.9" y="178.8">m3.90_z0.0200</text>
<text x="301.9" y="209.6">peak detector horizontal bounds</text>
<text x="301.9" y="240.6">min. P consistent with observations</text>
<text x="301.9" y="270.9">max. P must fall within this span</text>
<text x="301.9" y="300.9">pulse region fit with cubic spline</text>
<text x="301.9" y="331.6">pulses identified</text>
<text x="301.9" y="361.8">intersection w/ P,L,T,R</text>
<text x="301.9" y="385.1">loosely defined</text>
</g>
</svg>
</body></html>
